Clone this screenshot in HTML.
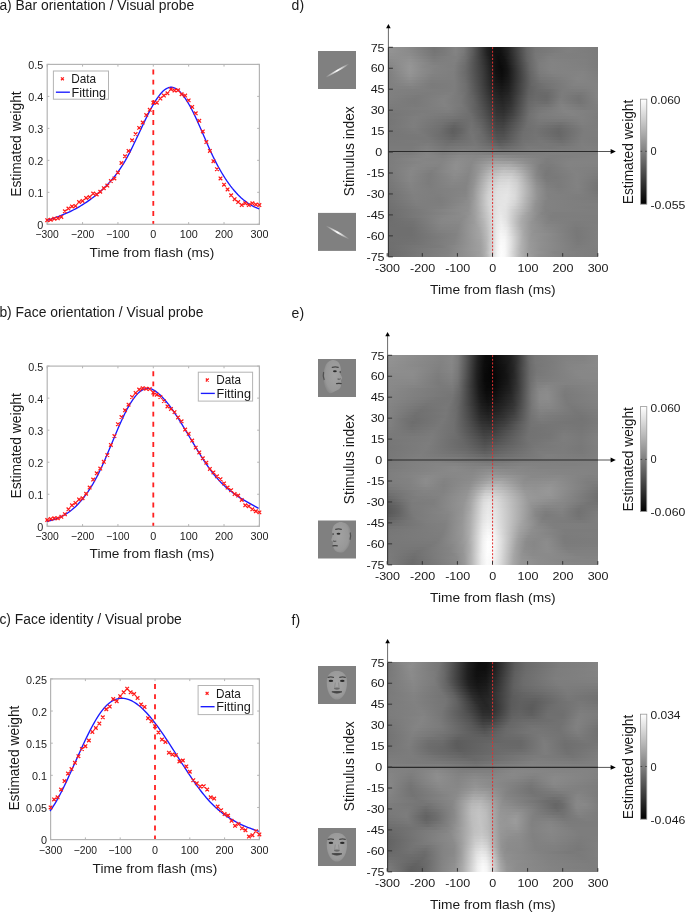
<!DOCTYPE html>
<html><head><meta charset="utf-8"><style>
html,body{margin:0;padding:0;background:#fff;}
svg{display:block;will-change:transform;}
</style></head><body>
<svg width="685" height="913" viewBox="0 0 685 913" font-family="Liberation Sans, sans-serif">
<defs><radialGradient id="facegf" cx="0.5" cy="0.45" r="0.6"><stop offset="0" stop-color="#a4a4a4"/><stop offset="0.75" stop-color="#9a9a9a"/><stop offset="1" stop-color="#8c8c8c"/></radialGradient><radialGradient id="faceg" cx="0.6" cy="0.45" r="0.6"><stop offset="0" stop-color="#a2a2a2"/><stop offset="0.8" stop-color="#989898"/><stop offset="1" stop-color="#8a8a8a"/></radialGradient><radialGradient id="faceg2" cx="0.4" cy="0.45" r="0.6"><stop offset="0" stop-color="#a2a2a2"/><stop offset="0.8" stop-color="#989898"/><stop offset="1" stop-color="#8a8a8a"/></radialGradient><linearGradient id="barg"><stop offset="0" stop-color="#808080"/><stop offset="0.5" stop-color="#fff"/><stop offset="1" stop-color="#808080"/></linearGradient><linearGradient id="h0"><stop offset=".000" stop-color="#959595"/><stop offset=".090" stop-color="#8b8b8b"/><stop offset=".219" stop-color="#737373"/><stop offset=".266" stop-color="#787878"/><stop offset=".323" stop-color="#838383"/><stop offset=".361" stop-color="#7a7a7a"/><stop offset=".399" stop-color="#616161"/><stop offset=".471" stop-color="#212121"/><stop offset=".504" stop-color="#111111"/><stop offset=".537" stop-color="#121212"/><stop offset=".575" stop-color="#252525"/><stop offset=".661" stop-color="#666666"/><stop offset=".703" stop-color="#767676"/><stop offset=".870" stop-color="#808080"/><stop offset="1.000" stop-color="#7b7b7b"/></linearGradient><linearGradient id="h1"><stop offset=".000" stop-color="#949494"/><stop offset=".100" stop-color="#8b8b8b"/><stop offset=".223" stop-color="#757575"/><stop offset=".276" stop-color="#7b7b7b"/><stop offset=".323" stop-color="#838383"/><stop offset=".361" stop-color="#797979"/><stop offset=".404" stop-color="#5c5c5c"/><stop offset=".471" stop-color="#222222"/><stop offset=".504" stop-color="#111111"/><stop offset=".537" stop-color="#111111"/><stop offset=".570" stop-color="#212121"/><stop offset=".661" stop-color="#656565"/><stop offset=".703" stop-color="#767676"/><stop offset=".856" stop-color="#808080"/><stop offset="1.000" stop-color="#7b7b7b"/></linearGradient><linearGradient id="h2"><stop offset=".000" stop-color="#919191"/><stop offset=".105" stop-color="#8c8c8c"/><stop offset=".219" stop-color="#777777"/><stop offset=".271" stop-color="#7b7b7b"/><stop offset=".323" stop-color="#828282"/><stop offset=".361" stop-color="#777777"/><stop offset=".404" stop-color="#5b5b5b"/><stop offset=".475" stop-color="#202020"/><stop offset=".509" stop-color="#101010"/><stop offset=".537" stop-color="#0f0f0f"/><stop offset=".570" stop-color="#1f1f1f"/><stop offset=".661" stop-color="#646464"/><stop offset=".703" stop-color="#777777"/><stop offset=".794" stop-color="#7f7f7f"/><stop offset=".936" stop-color="#7e7e7e"/><stop offset="1.000" stop-color="#7b7b7b"/></linearGradient><linearGradient id="h3"><stop offset=".000" stop-color="#8e8e8e"/><stop offset=".105" stop-color="#8f8f8f"/><stop offset=".219" stop-color="#7a7a7a"/><stop offset=".285" stop-color="#7f7f7f"/><stop offset=".333" stop-color="#7f7f7f"/><stop offset=".375" stop-color="#6e6e6e"/><stop offset=".437" stop-color="#404040"/><stop offset=".490" stop-color="#191919"/><stop offset=".523" stop-color="#0d0d0d"/><stop offset=".551" stop-color="#121212"/><stop offset=".594" stop-color="#2f2f2f"/><stop offset=".661" stop-color="#636363"/><stop offset=".703" stop-color="#777777"/><stop offset=".770" stop-color="#808080"/><stop offset=".932" stop-color="#7e7e7e"/><stop offset="1.000" stop-color="#7b7b7b"/></linearGradient><linearGradient id="h4"><stop offset=".000" stop-color="#8a8a8a"/><stop offset=".105" stop-color="#929292"/><stop offset=".219" stop-color="#7d7d7d"/><stop offset=".323" stop-color="#808080"/><stop offset=".366" stop-color="#717171"/><stop offset=".428" stop-color="#484848"/><stop offset=".499" stop-color="#151515"/><stop offset=".528" stop-color="#0c0c0c"/><stop offset=".556" stop-color="#121212"/><stop offset=".599" stop-color="#313131"/><stop offset=".665" stop-color="#656565"/><stop offset=".713" stop-color="#7a7a7a"/><stop offset=".775" stop-color="#828282"/><stop offset=".936" stop-color="#7f7f7f"/><stop offset="1.000" stop-color="#7b7b7b"/></linearGradient><linearGradient id="h5"><stop offset=".000" stop-color="#878787"/><stop offset=".105" stop-color="#949494"/><stop offset=".219" stop-color="#808080"/><stop offset=".318" stop-color="#7f7f7f"/><stop offset=".366" stop-color="#6f6f6f"/><stop offset=".437" stop-color="#424242"/><stop offset=".504" stop-color="#131313"/><stop offset=".532" stop-color="#0b0b0b"/><stop offset=".561" stop-color="#131313"/><stop offset=".613" stop-color="#3b3b3b"/><stop offset=".675" stop-color="#696969"/><stop offset=".722" stop-color="#7d7d7d"/><stop offset=".784" stop-color="#838383"/><stop offset=".936" stop-color="#7f7f7f"/><stop offset="1.000" stop-color="#7b7b7b"/></linearGradient><linearGradient id="h6"><stop offset=".000" stop-color="#838383"/><stop offset=".105" stop-color="#969696"/><stop offset=".176" stop-color="#878787"/><stop offset=".247" stop-color="#818181"/><stop offset=".318" stop-color="#7e7e7e"/><stop offset=".371" stop-color="#6b6b6b"/><stop offset=".452" stop-color="#3a3a3a"/><stop offset=".509" stop-color="#111111"/><stop offset=".537" stop-color="#0a0a0a"/><stop offset=".566" stop-color="#141414"/><stop offset=".675" stop-color="#686868"/><stop offset=".722" stop-color="#7d7d7d"/><stop offset=".779" stop-color="#838383"/><stop offset=".936" stop-color="#808080"/><stop offset="1.000" stop-color="#7b7b7b"/></linearGradient><linearGradient id="h7"><stop offset=".000" stop-color="#818181"/><stop offset=".105" stop-color="#969696"/><stop offset=".162" stop-color="#8b8b8b"/><stop offset=".223" stop-color="#828282"/><stop offset=".314" stop-color="#7f7f7f"/><stop offset=".366" stop-color="#6d6d6d"/><stop offset=".452" stop-color="#3b3b3b"/><stop offset=".513" stop-color="#101010"/><stop offset=".542" stop-color="#0a0a0a"/><stop offset=".570" stop-color="#151515"/><stop offset=".675" stop-color="#676767"/><stop offset=".722" stop-color="#7c7c7c"/><stop offset=".775" stop-color="#838383"/><stop offset=".932" stop-color="#818181"/><stop offset="1.000" stop-color="#7c7c7c"/></linearGradient><linearGradient id="h8"><stop offset=".000" stop-color="#7f7f7f"/><stop offset=".105" stop-color="#959595"/><stop offset=".162" stop-color="#8a8a8a"/><stop offset=".223" stop-color="#828282"/><stop offset=".314" stop-color="#7e7e7e"/><stop offset=".371" stop-color="#6a6a6a"/><stop offset=".452" stop-color="#3c3c3c"/><stop offset=".513" stop-color="#111111"/><stop offset=".542" stop-color="#0b0b0b"/><stop offset=".570" stop-color="#151515"/><stop offset=".675" stop-color="#656565"/><stop offset=".722" stop-color="#7b7b7b"/><stop offset=".779" stop-color="#828282"/><stop offset=".927" stop-color="#838383"/><stop offset="1.000" stop-color="#7d7d7d"/></linearGradient><linearGradient id="h9"><stop offset=".000" stop-color="#7e7e7e"/><stop offset=".105" stop-color="#939393"/><stop offset=".209" stop-color="#818181"/><stop offset=".314" stop-color="#7e7e7e"/><stop offset=".371" stop-color="#6b6b6b"/><stop offset=".452" stop-color="#3d3d3d"/><stop offset=".513" stop-color="#131313"/><stop offset=".542" stop-color="#0c0c0c"/><stop offset=".570" stop-color="#161616"/><stop offset=".680" stop-color="#676767"/><stop offset=".727" stop-color="#7a7a7a"/><stop offset=".794" stop-color="#808080"/><stop offset=".922" stop-color="#848484"/><stop offset="1.000" stop-color="#7e7e7e"/></linearGradient><linearGradient id="h10"><stop offset=".000" stop-color="#7e7e7e"/><stop offset=".105" stop-color="#8f8f8f"/><stop offset=".209" stop-color="#7f7f7f"/><stop offset=".314" stop-color="#7e7e7e"/><stop offset=".366" stop-color="#6e6e6e"/><stop offset=".442" stop-color="#444444"/><stop offset=".513" stop-color="#151515"/><stop offset=".542" stop-color="#0e0e0e"/><stop offset=".575" stop-color="#1a1a1a"/><stop offset=".680" stop-color="#666666"/><stop offset=".727" stop-color="#777777"/><stop offset=".903" stop-color="#858585"/><stop offset="1.000" stop-color="#7f7f7f"/></linearGradient><linearGradient id="h11"><stop offset=".000" stop-color="#7f7f7f"/><stop offset=".105" stop-color="#8b8b8b"/><stop offset=".209" stop-color="#7d7d7d"/><stop offset=".318" stop-color="#7d7d7d"/><stop offset=".371" stop-color="#6d6d6d"/><stop offset=".447" stop-color="#424242"/><stop offset=".513" stop-color="#171717"/><stop offset=".542" stop-color="#111111"/><stop offset=".575" stop-color="#1c1c1c"/><stop offset=".680" stop-color="#656565"/><stop offset=".727" stop-color="#747474"/><stop offset=".908" stop-color="#848484"/><stop offset="1.000" stop-color="#818181"/></linearGradient><linearGradient id="h12"><stop offset=".000" stop-color="#7f7f7f"/><stop offset=".109" stop-color="#878787"/><stop offset=".209" stop-color="#7b7b7b"/><stop offset=".318" stop-color="#7d7d7d"/><stop offset=".371" stop-color="#6f6f6f"/><stop offset=".442" stop-color="#464646"/><stop offset=".509" stop-color="#1b1b1b"/><stop offset=".542" stop-color="#141414"/><stop offset=".575" stop-color="#1e1e1e"/><stop offset=".637" stop-color="#494949"/><stop offset=".684" stop-color="#676767"/><stop offset=".741" stop-color="#727272"/><stop offset=".884" stop-color="#828282"/><stop offset="1.000" stop-color="#828282"/></linearGradient><linearGradient id="h13"><stop offset=".000" stop-color="#808080"/><stop offset=".119" stop-color="#828282"/><stop offset=".214" stop-color="#7b7b7b"/><stop offset=".318" stop-color="#7d7d7d"/><stop offset=".371" stop-color="#6f6f6f"/><stop offset=".437" stop-color="#4b4b4b"/><stop offset=".509" stop-color="#1e1e1e"/><stop offset=".542" stop-color="#171717"/><stop offset=".575" stop-color="#202020"/><stop offset=".627" stop-color="#434343"/><stop offset=".675" stop-color="#626262"/><stop offset=".718" stop-color="#6d6d6d"/><stop offset=".798" stop-color="#787878"/><stop offset=".870" stop-color="#7f7f7f"/><stop offset="1.000" stop-color="#828282"/></linearGradient><linearGradient id="h14"><stop offset=".000" stop-color="#808080"/><stop offset=".228" stop-color="#7d7d7d"/><stop offset=".318" stop-color="#7d7d7d"/><stop offset=".375" stop-color="#6e6e6e"/><stop offset=".442" stop-color="#494949"/><stop offset=".509" stop-color="#212121"/><stop offset=".542" stop-color="#1a1a1a"/><stop offset=".575" stop-color="#222222"/><stop offset=".623" stop-color="#414141"/><stop offset=".670" stop-color="#616161"/><stop offset=".708" stop-color="#6a6a6a"/><stop offset=".770" stop-color="#6f6f6f"/><stop offset=".832" stop-color="#7c7c7c"/><stop offset=".932" stop-color="#7d7d7d"/><stop offset="1.000" stop-color="#838383"/></linearGradient><linearGradient id="h15"><stop offset=".000" stop-color="#808080"/><stop offset=".185" stop-color="#7c7c7c"/><stop offset=".304" stop-color="#7f7f7f"/><stop offset=".366" stop-color="#727272"/><stop offset=".423" stop-color="#565656"/><stop offset=".504" stop-color="#262626"/><stop offset=".537" stop-color="#1d1d1d"/><stop offset=".570" stop-color="#232323"/><stop offset=".613" stop-color="#3c3c3c"/><stop offset=".670" stop-color="#626262"/><stop offset=".703" stop-color="#696969"/><stop offset=".760" stop-color="#6b6b6b"/><stop offset=".827" stop-color="#7c7c7c"/><stop offset=".917" stop-color="#787878"/><stop offset="1.000" stop-color="#838383"/></linearGradient><linearGradient id="h16"><stop offset=".000" stop-color="#808080"/><stop offset=".143" stop-color="#7a7a7a"/><stop offset=".280" stop-color="#818181"/><stop offset=".352" stop-color="#777777"/><stop offset=".409" stop-color="#606060"/><stop offset=".509" stop-color="#272727"/><stop offset=".542" stop-color="#202020"/><stop offset=".580" stop-color="#2a2a2a"/><stop offset=".632" stop-color="#4c4c4c"/><stop offset=".670" stop-color="#646464"/><stop offset=".703" stop-color="#6a6a6a"/><stop offset=".756" stop-color="#696969"/><stop offset=".827" stop-color="#7c7c7c"/><stop offset=".908" stop-color="#747474"/><stop offset="1.000" stop-color="#838383"/></linearGradient><linearGradient id="h17"><stop offset=".000" stop-color="#7f7f7f"/><stop offset=".128" stop-color="#797979"/><stop offset=".266" stop-color="#828282"/><stop offset=".347" stop-color="#787878"/><stop offset=".404" stop-color="#646464"/><stop offset=".509" stop-color="#2a2a2a"/><stop offset=".542" stop-color="#232323"/><stop offset=".580" stop-color="#2c2c2c"/><stop offset=".632" stop-color="#4e4e4e"/><stop offset=".670" stop-color="#666666"/><stop offset=".703" stop-color="#6b6b6b"/><stop offset=".756" stop-color="#6a6a6a"/><stop offset=".822" stop-color="#7d7d7d"/><stop offset=".908" stop-color="#737373"/><stop offset="1.000" stop-color="#828282"/></linearGradient><linearGradient id="h18"><stop offset=".000" stop-color="#7e7e7e"/><stop offset=".128" stop-color="#797979"/><stop offset=".266" stop-color="#828282"/><stop offset=".347" stop-color="#787878"/><stop offset=".409" stop-color="#636363"/><stop offset=".513" stop-color="#2b2b2b"/><stop offset=".547" stop-color="#262626"/><stop offset=".585" stop-color="#313131"/><stop offset=".670" stop-color="#686868"/><stop offset=".703" stop-color="#6e6e6e"/><stop offset=".756" stop-color="#6d6d6d"/><stop offset=".822" stop-color="#7f7f7f"/><stop offset=".913" stop-color="#747474"/><stop offset="1.000" stop-color="#818181"/></linearGradient><linearGradient id="h19"><stop offset=".000" stop-color="#7c7c7c"/><stop offset=".138" stop-color="#7a7a7a"/><stop offset=".271" stop-color="#828282"/><stop offset=".352" stop-color="#787878"/><stop offset=".418" stop-color="#606060"/><stop offset=".513" stop-color="#2e2e2e"/><stop offset=".547" stop-color="#292929"/><stop offset=".585" stop-color="#343434"/><stop offset=".670" stop-color="#6a6a6a"/><stop offset=".708" stop-color="#717171"/><stop offset=".765" stop-color="#747474"/><stop offset=".827" stop-color="#828282"/><stop offset=".917" stop-color="#787878"/><stop offset="1.000" stop-color="#7f7f7f"/></linearGradient><linearGradient id="h20"><stop offset=".000" stop-color="#7a7a7a"/><stop offset=".171" stop-color="#7d7d7d"/><stop offset=".290" stop-color="#808080"/><stop offset=".371" stop-color="#737373"/><stop offset=".437" stop-color="#585858"/><stop offset=".518" stop-color="#2f2f2f"/><stop offset=".551" stop-color="#2c2c2c"/><stop offset=".589" stop-color="#3a3a3a"/><stop offset=".670" stop-color="#6c6c6c"/><stop offset=".708" stop-color="#757575"/><stop offset=".775" stop-color="#7b7b7b"/><stop offset=".832" stop-color="#838383"/><stop offset=".932" stop-color="#7b7b7b"/><stop offset="1.000" stop-color="#7e7e7e"/></linearGradient><linearGradient id="h21"><stop offset=".000" stop-color="#787878"/><stop offset=".285" stop-color="#7e7e7e"/><stop offset=".375" stop-color="#727272"/><stop offset=".442" stop-color="#595959"/><stop offset=".518" stop-color="#323232"/><stop offset=".551" stop-color="#2f2f2f"/><stop offset=".589" stop-color="#3d3d3d"/><stop offset=".675" stop-color="#707070"/><stop offset=".722" stop-color="#797979"/><stop offset=".846" stop-color="#848484"/><stop offset="1.000" stop-color="#7d7d7d"/></linearGradient><linearGradient id="h22"><stop offset=".000" stop-color="#767676"/><stop offset=".162" stop-color="#7d7d7d"/><stop offset=".304" stop-color="#797979"/><stop offset=".394" stop-color="#6e6e6e"/><stop offset=".456" stop-color="#545454"/><stop offset=".518" stop-color="#353535"/><stop offset=".551" stop-color="#333333"/><stop offset=".594" stop-color="#434343"/><stop offset=".675" stop-color="#727272"/><stop offset=".727" stop-color="#7c7c7c"/><stop offset=".879" stop-color="#838383"/><stop offset="1.000" stop-color="#7c7c7c"/></linearGradient><linearGradient id="h23"><stop offset=".000" stop-color="#767676"/><stop offset=".133" stop-color="#7e7e7e"/><stop offset=".285" stop-color="#767676"/><stop offset=".399" stop-color="#6e6e6e"/><stop offset=".456" stop-color="#575757"/><stop offset=".518" stop-color="#393939"/><stop offset=".551" stop-color="#373737"/><stop offset=".594" stop-color="#484848"/><stop offset=".670" stop-color="#717171"/><stop offset=".718" stop-color="#7b7b7b"/><stop offset=".922" stop-color="#818181"/><stop offset="1.000" stop-color="#7b7b7b"/></linearGradient><linearGradient id="h24"><stop offset=".000" stop-color="#757575"/><stop offset=".128" stop-color="#7e7e7e"/><stop offset=".271" stop-color="#737373"/><stop offset=".333" stop-color="#6d6d6d"/><stop offset=".399" stop-color="#6f6f6f"/><stop offset=".447" stop-color="#5f5f5f"/><stop offset=".518" stop-color="#3d3d3d"/><stop offset=".551" stop-color="#3b3b3b"/><stop offset=".599" stop-color="#4f4f4f"/><stop offset=".670" stop-color="#717171"/><stop offset=".722" stop-color="#797979"/><stop offset=".837" stop-color="#7a7a7a"/><stop offset=".922" stop-color="#808080"/><stop offset="1.000" stop-color="#7c7c7c"/></linearGradient><linearGradient id="h25"><stop offset=".000" stop-color="#757575"/><stop offset=".124" stop-color="#7e7e7e"/><stop offset=".257" stop-color="#727272"/><stop offset=".318" stop-color="#676767"/><stop offset=".399" stop-color="#717171"/><stop offset=".442" stop-color="#646464"/><stop offset=".518" stop-color="#414141"/><stop offset=".551" stop-color="#404040"/><stop offset=".604" stop-color="#565656"/><stop offset=".665" stop-color="#707070"/><stop offset=".718" stop-color="#777777"/><stop offset=".822" stop-color="#727272"/><stop offset=".922" stop-color="#7f7f7f"/><stop offset="1.000" stop-color="#7c7c7c"/></linearGradient><linearGradient id="h26"><stop offset=".000" stop-color="#767676"/><stop offset=".124" stop-color="#7e7e7e"/><stop offset=".252" stop-color="#707070"/><stop offset=".314" stop-color="#626262"/><stop offset=".356" stop-color="#6a6a6a"/><stop offset=".399" stop-color="#727272"/><stop offset=".442" stop-color="#676767"/><stop offset=".513" stop-color="#464646"/><stop offset=".547" stop-color="#434343"/><stop offset=".594" stop-color="#555555"/><stop offset=".661" stop-color="#707070"/><stop offset=".713" stop-color="#747474"/><stop offset=".817" stop-color="#6c6c6c"/><stop offset=".927" stop-color="#7d7d7d"/><stop offset="1.000" stop-color="#7c7c7c"/></linearGradient><linearGradient id="h27"><stop offset=".000" stop-color="#767676"/><stop offset=".128" stop-color="#7c7c7c"/><stop offset=".247" stop-color="#6f6f6f"/><stop offset=".309" stop-color="#5f5f5f"/><stop offset=".347" stop-color="#656565"/><stop offset=".394" stop-color="#737373"/><stop offset=".433" stop-color="#6d6d6d"/><stop offset=".518" stop-color="#484848"/><stop offset=".551" stop-color="#484848"/><stop offset=".651" stop-color="#6e6e6e"/><stop offset=".703" stop-color="#737373"/><stop offset=".813" stop-color="#686868"/><stop offset=".932" stop-color="#7c7c7c"/><stop offset="1.000" stop-color="#7d7d7d"/></linearGradient><linearGradient id="h28"><stop offset=".000" stop-color="#767676"/><stop offset=".143" stop-color="#7b7b7b"/><stop offset=".242" stop-color="#6f6f6f"/><stop offset=".309" stop-color="#5f5f5f"/><stop offset=".347" stop-color="#666666"/><stop offset=".394" stop-color="#747474"/><stop offset=".433" stop-color="#6f6f6f"/><stop offset=".518" stop-color="#4c4c4c"/><stop offset=".551" stop-color="#4c4c4c"/><stop offset=".646" stop-color="#6f6f6f"/><stop offset=".703" stop-color="#737373"/><stop offset=".813" stop-color="#676767"/><stop offset=".932" stop-color="#7c7c7c"/><stop offset="1.000" stop-color="#7c7c7c"/></linearGradient><linearGradient id="h29"><stop offset=".000" stop-color="#777777"/><stop offset=".171" stop-color="#797979"/><stop offset=".257" stop-color="#6c6c6c"/><stop offset=".314" stop-color="#626262"/><stop offset=".366" stop-color="#6e6e6e"/><stop offset=".404" stop-color="#757575"/><stop offset=".452" stop-color="#6a6a6a"/><stop offset=".518" stop-color="#505050"/><stop offset=".551" stop-color="#505050"/><stop offset=".642" stop-color="#6f6f6f"/><stop offset=".703" stop-color="#747474"/><stop offset=".817" stop-color="#686868"/><stop offset=".927" stop-color="#7c7c7c"/><stop offset="1.000" stop-color="#7c7c7c"/></linearGradient><linearGradient id="h30"><stop offset=".000" stop-color="#787878"/><stop offset=".190" stop-color="#787878"/><stop offset=".309" stop-color="#666666"/><stop offset=".404" stop-color="#757575"/><stop offset=".456" stop-color="#6b6b6b"/><stop offset=".523" stop-color="#535353"/><stop offset=".556" stop-color="#555555"/><stop offset=".642" stop-color="#707070"/><stop offset=".718" stop-color="#757575"/><stop offset=".822" stop-color="#6b6b6b"/><stop offset=".922" stop-color="#7c7c7c"/><stop offset="1.000" stop-color="#7b7b7b"/></linearGradient><linearGradient id="h31"><stop offset=".000" stop-color="#787878"/><stop offset=".138" stop-color="#7a7a7a"/><stop offset=".204" stop-color="#787878"/><stop offset=".299" stop-color="#6c6c6c"/><stop offset=".413" stop-color="#767676"/><stop offset=".471" stop-color="#696969"/><stop offset=".528" stop-color="#585858"/><stop offset=".566" stop-color="#5d5d5d"/><stop offset=".642" stop-color="#727272"/><stop offset=".727" stop-color="#777777"/><stop offset=".827" stop-color="#6f6f6f"/><stop offset=".922" stop-color="#7d7d7d"/><stop offset="1.000" stop-color="#7b7b7b"/></linearGradient><linearGradient id="h32"><stop offset=".000" stop-color="#797979"/><stop offset=".119" stop-color="#797979"/><stop offset=".190" stop-color="#7c7c7c"/><stop offset=".280" stop-color="#717171"/><stop offset=".418" stop-color="#777777"/><stop offset=".480" stop-color="#6c6c6c"/><stop offset=".532" stop-color="#5f5f5f"/><stop offset=".580" stop-color="#676767"/><stop offset=".656" stop-color="#767676"/><stop offset=".751" stop-color="#787878"/><stop offset=".832" stop-color="#747474"/><stop offset=".922" stop-color="#7e7e7e"/><stop offset="1.000" stop-color="#7c7c7c"/></linearGradient><linearGradient id="h33"><stop offset=".000" stop-color="#7a7a7a"/><stop offset=".114" stop-color="#7a7a7a"/><stop offset=".185" stop-color="#7f7f7f"/><stop offset=".271" stop-color="#767676"/><stop offset=".409" stop-color="#7b7b7b"/><stop offset=".480" stop-color="#727272"/><stop offset=".542" stop-color="#686868"/><stop offset=".670" stop-color="#7a7a7a"/><stop offset=".779" stop-color="#787878"/><stop offset=".851" stop-color="#7a7a7a"/><stop offset=".936" stop-color="#7f7f7f"/><stop offset="1.000" stop-color="#7d7d7d"/></linearGradient><linearGradient id="h34"><stop offset=".000" stop-color="#7b7b7b"/><stop offset=".109" stop-color="#7b7b7b"/><stop offset=".185" stop-color="#828282"/><stop offset=".266" stop-color="#7a7a7a"/><stop offset=".361" stop-color="#7f7f7f"/><stop offset=".480" stop-color="#7a7a7a"/><stop offset=".551" stop-color="#737373"/><stop offset=".689" stop-color="#7e7e7e"/><stop offset=".846" stop-color="#7d7d7d"/><stop offset=".955" stop-color="#808080"/><stop offset="1.000" stop-color="#7e7e7e"/></linearGradient><linearGradient id="h35"><stop offset=".000" stop-color="#7c7c7c"/><stop offset=".109" stop-color="#7d7d7d"/><stop offset=".185" stop-color="#858585"/><stop offset=".261" stop-color="#7d7d7d"/><stop offset=".347" stop-color="#848484"/><stop offset=".523" stop-color="#7f7f7f"/><stop offset=".718" stop-color="#7f7f7f"/><stop offset=".856" stop-color="#808080"/><stop offset="1.000" stop-color="#808080"/></linearGradient><linearGradient id="h36"><stop offset=".000" stop-color="#7c7c7c"/><stop offset=".114" stop-color="#818181"/><stop offset=".185" stop-color="#868686"/><stop offset=".261" stop-color="#818181"/><stop offset=".337" stop-color="#898989"/><stop offset=".418" stop-color="#868686"/><stop offset=".518" stop-color="#8b8b8b"/><stop offset=".703" stop-color="#818181"/><stop offset=".784" stop-color="#7e7e7e"/><stop offset=".989" stop-color="#828282"/><stop offset="1.000" stop-color="#828282"/></linearGradient><linearGradient id="h37"><stop offset=".000" stop-color="#7c7c7c"/><stop offset=".143" stop-color="#868686"/><stop offset=".209" stop-color="#848484"/><stop offset=".266" stop-color="#848484"/><stop offset=".333" stop-color="#8c8c8c"/><stop offset=".409" stop-color="#888888"/><stop offset=".513" stop-color="#969696"/><stop offset=".618" stop-color="#909090"/><stop offset=".756" stop-color="#7d7d7d"/><stop offset=".875" stop-color="#828282"/><stop offset="1.000" stop-color="#828282"/></linearGradient><linearGradient id="h38"><stop offset=".000" stop-color="#7c7c7c"/><stop offset=".176" stop-color="#868686"/><stop offset=".257" stop-color="#848484"/><stop offset=".328" stop-color="#8e8e8e"/><stop offset=".399" stop-color="#888888"/><stop offset=".513" stop-color="#a1a1a1"/><stop offset=".585" stop-color="#9f9f9f"/><stop offset=".694" stop-color="#868686"/><stop offset=".756" stop-color="#7c7c7c"/><stop offset=".865" stop-color="#838383"/><stop offset="1.000" stop-color="#828282"/></linearGradient><linearGradient id="h39"><stop offset=".000" stop-color="#7c7c7c"/><stop offset=".138" stop-color="#868686"/><stop offset=".247" stop-color="#838383"/><stop offset=".323" stop-color="#8f8f8f"/><stop offset=".394" stop-color="#888888"/><stop offset=".452" stop-color="#9a9a9a"/><stop offset=".513" stop-color="#ababab"/><stop offset=".575" stop-color="#acacac"/><stop offset=".637" stop-color="#9d9d9d"/><stop offset=".727" stop-color="#7d7d7d"/><stop offset=".775" stop-color="#7b7b7b"/><stop offset=".860" stop-color="#838383"/><stop offset="1.000" stop-color="#818181"/></linearGradient><linearGradient id="h40"><stop offset=".000" stop-color="#7b7b7b"/><stop offset=".119" stop-color="#878787"/><stop offset=".228" stop-color="#808080"/><stop offset=".323" stop-color="#8f8f8f"/><stop offset=".390" stop-color="#878787"/><stop offset=".433" stop-color="#959595"/><stop offset=".494" stop-color="#afafaf"/><stop offset=".556" stop-color="#b8b8b8"/><stop offset=".608" stop-color="#b1b1b1"/><stop offset=".722" stop-color="#7e7e7e"/><stop offset=".765" stop-color="#797979"/><stop offset=".870" stop-color="#828282"/><stop offset="1.000" stop-color="#7f7f7f"/></linearGradient><linearGradient id="h41"><stop offset=".000" stop-color="#7a7a7a"/><stop offset=".109" stop-color="#878787"/><stop offset=".209" stop-color="#7e7e7e"/><stop offset=".285" stop-color="#8a8a8a"/><stop offset=".333" stop-color="#8d8d8d"/><stop offset=".390" stop-color="#878787"/><stop offset=".428" stop-color="#959595"/><stop offset=".490" stop-color="#b5b5b5"/><stop offset=".551" stop-color="#c2c2c2"/><stop offset=".599" stop-color="#bebebe"/><stop offset=".646" stop-color="#a7a7a7"/><stop offset=".713" stop-color="#828282"/><stop offset=".756" stop-color="#787878"/><stop offset=".884" stop-color="#828282"/><stop offset="1.000" stop-color="#7d7d7d"/></linearGradient><linearGradient id="h42"><stop offset=".000" stop-color="#797979"/><stop offset=".109" stop-color="#878787"/><stop offset=".200" stop-color="#7c7c7c"/><stop offset=".318" stop-color="#8c8c8c"/><stop offset=".385" stop-color="#868686"/><stop offset=".418" stop-color="#929292"/><stop offset=".485" stop-color="#bababa"/><stop offset=".542" stop-color="#c9c9c9"/><stop offset=".589" stop-color="#c9c9c9"/><stop offset=".627" stop-color="#b9b9b9"/><stop offset=".708" stop-color="#858585"/><stop offset=".751" stop-color="#787878"/><stop offset=".808" stop-color="#7b7b7b"/><stop offset=".898" stop-color="#828282"/><stop offset="1.000" stop-color="#7b7b7b"/></linearGradient><linearGradient id="h43"><stop offset=".000" stop-color="#787878"/><stop offset=".105" stop-color="#868686"/><stop offset=".200" stop-color="#7c7c7c"/><stop offset=".318" stop-color="#8a8a8a"/><stop offset=".380" stop-color="#858585"/><stop offset=".413" stop-color="#919191"/><stop offset=".485" stop-color="#c0c0c0"/><stop offset=".537" stop-color="#d0d0d0"/><stop offset=".585" stop-color="#d1d1d1"/><stop offset=".623" stop-color="#c2c2c2"/><stop offset=".703" stop-color="#8a8a8a"/><stop offset=".746" stop-color="#7a7a7a"/><stop offset=".798" stop-color="#797979"/><stop offset=".898" stop-color="#828282"/><stop offset="1.000" stop-color="#797979"/></linearGradient><linearGradient id="h44"><stop offset=".000" stop-color="#777777"/><stop offset=".105" stop-color="#868686"/><stop offset=".195" stop-color="#7c7c7c"/><stop offset=".314" stop-color="#888888"/><stop offset=".380" stop-color="#858585"/><stop offset=".413" stop-color="#939393"/><stop offset=".480" stop-color="#c2c2c2"/><stop offset=".528" stop-color="#d4d4d4"/><stop offset=".575" stop-color="#d8d8d8"/><stop offset=".613" stop-color="#cccccc"/><stop offset=".708" stop-color="#8b8b8b"/><stop offset=".756" stop-color="#7a7a7a"/><stop offset=".813" stop-color="#7b7b7b"/><stop offset=".898" stop-color="#828282"/><stop offset="1.000" stop-color="#777777"/></linearGradient><linearGradient id="h45"><stop offset=".000" stop-color="#767676"/><stop offset=".109" stop-color="#848484"/><stop offset=".195" stop-color="#7c7c7c"/><stop offset=".304" stop-color="#868686"/><stop offset=".375" stop-color="#848484"/><stop offset=".409" stop-color="#929292"/><stop offset=".480" stop-color="#c7c7c7"/><stop offset=".528" stop-color="#d9d9d9"/><stop offset=".575" stop-color="#dcdcdc"/><stop offset=".613" stop-color="#d0d0d0"/><stop offset=".708" stop-color="#8e8e8e"/><stop offset=".756" stop-color="#7d7d7d"/><stop offset=".813" stop-color="#7b7b7b"/><stop offset=".898" stop-color="#828282"/><stop offset="1.000" stop-color="#757575"/></linearGradient><linearGradient id="h46"><stop offset=".000" stop-color="#757575"/><stop offset=".109" stop-color="#838383"/><stop offset=".200" stop-color="#7d7d7d"/><stop offset=".299" stop-color="#848484"/><stop offset=".371" stop-color="#848484"/><stop offset=".404" stop-color="#919191"/><stop offset=".480" stop-color="#cacaca"/><stop offset=".528" stop-color="#dddddd"/><stop offset=".575" stop-color="#dfdfdf"/><stop offset=".613" stop-color="#d2d2d2"/><stop offset=".708" stop-color="#919191"/><stop offset=".756" stop-color="#7f7f7f"/><stop offset=".813" stop-color="#7b7b7b"/><stop offset=".903" stop-color="#828282"/><stop offset="1.000" stop-color="#747474"/></linearGradient><linearGradient id="h47"><stop offset=".000" stop-color="#747474"/><stop offset=".114" stop-color="#828282"/><stop offset=".204" stop-color="#7e7e7e"/><stop offset=".309" stop-color="#828282"/><stop offset=".371" stop-color="#848484"/><stop offset=".404" stop-color="#939393"/><stop offset=".480" stop-color="#cdcdcd"/><stop offset=".523" stop-color="#dfdfdf"/><stop offset=".570" stop-color="#e2e2e2"/><stop offset=".608" stop-color="#d6d6d6"/><stop offset=".708" stop-color="#939393"/><stop offset=".756" stop-color="#818181"/><stop offset=".813" stop-color="#7d7d7d"/><stop offset=".903" stop-color="#818181"/><stop offset="1.000" stop-color="#747474"/></linearGradient><linearGradient id="h48"><stop offset=".000" stop-color="#737373"/><stop offset=".119" stop-color="#818181"/><stop offset=".214" stop-color="#7e7e7e"/><stop offset=".371" stop-color="#858585"/><stop offset=".404" stop-color="#949494"/><stop offset=".480" stop-color="#d0d0d0"/><stop offset=".523" stop-color="#e1e1e1"/><stop offset=".570" stop-color="#e3e3e3"/><stop offset=".608" stop-color="#d7d7d7"/><stop offset=".708" stop-color="#939393"/><stop offset=".756" stop-color="#828282"/><stop offset=".817" stop-color="#7e7e7e"/><stop offset=".908" stop-color="#808080"/><stop offset="1.000" stop-color="#767676"/></linearGradient><linearGradient id="h49"><stop offset=".000" stop-color="#727272"/><stop offset=".124" stop-color="#808080"/><stop offset=".238" stop-color="#7e7e7e"/><stop offset=".371" stop-color="#868686"/><stop offset=".404" stop-color="#959595"/><stop offset=".475" stop-color="#cfcfcf"/><stop offset=".518" stop-color="#e1e1e1"/><stop offset=".566" stop-color="#e5e5e5"/><stop offset=".604" stop-color="#dadada"/><stop offset=".661" stop-color="#b2b2b2"/><stop offset=".713" stop-color="#919191"/><stop offset=".760" stop-color="#818181"/><stop offset=".932" stop-color="#7d7d7d"/><stop offset="1.000" stop-color="#787878"/></linearGradient><linearGradient id="h50"><stop offset=".000" stop-color="#727272"/><stop offset=".128" stop-color="#808080"/><stop offset=".247" stop-color="#7d7d7d"/><stop offset=".375" stop-color="#898989"/><stop offset=".409" stop-color="#999999"/><stop offset=".475" stop-color="#d0d0d0"/><stop offset=".518" stop-color="#e2e2e2"/><stop offset=".561" stop-color="#e5e5e5"/><stop offset=".604" stop-color="#d9d9d9"/><stop offset=".665" stop-color="#adadad"/><stop offset=".718" stop-color="#8e8e8e"/><stop offset=".765" stop-color="#818181"/><stop offset=".941" stop-color="#7c7c7c"/><stop offset="1.000" stop-color="#7a7a7a"/></linearGradient><linearGradient id="h51"><stop offset=".000" stop-color="#717171"/><stop offset=".133" stop-color="#7f7f7f"/><stop offset=".252" stop-color="#7d7d7d"/><stop offset=".352" stop-color="#878787"/><stop offset=".390" stop-color="#8f8f8f"/><stop offset=".428" stop-color="#a9a9a9"/><stop offset=".480" stop-color="#d3d3d3"/><stop offset=".523" stop-color="#e4e4e4"/><stop offset=".566" stop-color="#e4e4e4"/><stop offset=".608" stop-color="#d4d4d4"/><stop offset=".703" stop-color="#939393"/><stop offset=".751" stop-color="#828282"/><stop offset="1.000" stop-color="#7c7c7c"/></linearGradient><linearGradient id="h52"><stop offset=".000" stop-color="#707070"/><stop offset=".138" stop-color="#7e7e7e"/><stop offset=".257" stop-color="#7e7e7e"/><stop offset=".342" stop-color="#888888"/><stop offset=".385" stop-color="#8e8e8e"/><stop offset=".418" stop-color="#a2a2a2"/><stop offset=".480" stop-color="#d3d3d3"/><stop offset=".518" stop-color="#e3e3e3"/><stop offset=".556" stop-color="#e5e5e5"/><stop offset=".599" stop-color="#d6d6d6"/><stop offset=".703" stop-color="#919191"/><stop offset=".751" stop-color="#828282"/><stop offset=".870" stop-color="#7f7f7f"/><stop offset=".984" stop-color="#7e7e7e"/><stop offset="1.000" stop-color="#7e7e7e"/></linearGradient><linearGradient id="h53"><stop offset=".000" stop-color="#6f6f6f"/><stop offset=".152" stop-color="#7d7d7d"/><stop offset=".261" stop-color="#808080"/><stop offset=".385" stop-color="#8f8f8f"/><stop offset=".423" stop-color="#a5a5a5"/><stop offset=".490" stop-color="#d8d8d8"/><stop offset=".528" stop-color="#e6e6e6"/><stop offset=".561" stop-color="#e3e3e3"/><stop offset=".608" stop-color="#cccccc"/><stop offset=".699" stop-color="#929292"/><stop offset=".746" stop-color="#828282"/><stop offset=".960" stop-color="#7d7d7d"/><stop offset="1.000" stop-color="#7e7e7e"/></linearGradient><linearGradient id="h54"><stop offset=".000" stop-color="#6e6e6e"/><stop offset=".190" stop-color="#7e7e7e"/><stop offset=".380" stop-color="#8e8e8e"/><stop offset=".418" stop-color="#a1a1a1"/><stop offset=".494" stop-color="#dadada"/><stop offset=".528" stop-color="#e7e7e7"/><stop offset=".561" stop-color="#e2e2e2"/><stop offset=".618" stop-color="#c1c1c1"/><stop offset=".699" stop-color="#919191"/><stop offset=".751" stop-color="#818181"/><stop offset=".979" stop-color="#7e7e7e"/><stop offset="1.000" stop-color="#7e7e7e"/></linearGradient><linearGradient id="h55"><stop offset=".000" stop-color="#6e6e6e"/><stop offset=".337" stop-color="#898989"/><stop offset=".390" stop-color="#929292"/><stop offset=".433" stop-color="#aaaaaa"/><stop offset=".504" stop-color="#dfdfdf"/><stop offset=".532" stop-color="#e8e8e8"/><stop offset=".561" stop-color="#e2e2e2"/><stop offset=".665" stop-color="#a0a0a0"/><stop offset=".732" stop-color="#848484"/><stop offset=".789" stop-color="#7e7e7e"/><stop offset="1.000" stop-color="#7e7e7e"/></linearGradient><linearGradient id="h56"><stop offset=".000" stop-color="#6d6d6d"/><stop offset=".157" stop-color="#7b7b7b"/><stop offset=".276" stop-color="#878787"/><stop offset=".366" stop-color="#8c8c8c"/><stop offset=".413" stop-color="#9d9d9d"/><stop offset=".471" stop-color="#c5c5c5"/><stop offset=".513" stop-color="#e4e4e4"/><stop offset=".537" stop-color="#eaeaea"/><stop offset=".566" stop-color="#dfdfdf"/><stop offset=".642" stop-color="#a9a9a9"/><stop offset=".713" stop-color="#8a8a8a"/><stop offset=".775" stop-color="#7e7e7e"/><stop offset="1.000" stop-color="#7d7d7d"/></linearGradient><linearGradient id="h57"><stop offset=".000" stop-color="#6d6d6d"/><stop offset=".128" stop-color="#757575"/><stop offset=".261" stop-color="#878787"/><stop offset=".352" stop-color="#8a8a8a"/><stop offset=".409" stop-color="#9b9b9b"/><stop offset=".456" stop-color="#b7b7b7"/><stop offset=".513" stop-color="#e5e5e5"/><stop offset=".537" stop-color="#ebebeb"/><stop offset=".561" stop-color="#e3e3e3"/><stop offset=".637" stop-color="#aaaaaa"/><stop offset=".703" stop-color="#8d8d8d"/><stop offset=".775" stop-color="#7f7f7f"/><stop offset="1.000" stop-color="#7d7d7d"/></linearGradient><linearGradient id="h58"><stop offset=".000" stop-color="#6e6e6e"/><stop offset=".119" stop-color="#727272"/><stop offset=".252" stop-color="#868686"/><stop offset=".342" stop-color="#888888"/><stop offset=".409" stop-color="#9a9a9a"/><stop offset=".456" stop-color="#b5b5b5"/><stop offset=".513" stop-color="#e5e5e5"/><stop offset=".537" stop-color="#ededed"/><stop offset=".561" stop-color="#e5e5e5"/><stop offset=".632" stop-color="#acacac"/><stop offset=".684" stop-color="#939393"/><stop offset=".760" stop-color="#828282"/><stop offset=".894" stop-color="#7c7c7c"/><stop offset="1.000" stop-color="#7d7d7d"/></linearGradient><linearGradient id="h59"><stop offset=".000" stop-color="#6e6e6e"/><stop offset=".119" stop-color="#717171"/><stop offset=".252" stop-color="#848484"/><stop offset=".337" stop-color="#868686"/><stop offset=".423" stop-color="#a0a0a0"/><stop offset=".461" stop-color="#b7b7b7"/><stop offset=".518" stop-color="#e9e9e9"/><stop offset=".542" stop-color="#efefef"/><stop offset=".566" stop-color="#e4e4e4"/><stop offset=".632" stop-color="#adadad"/><stop offset=".680" stop-color="#959595"/><stop offset=".751" stop-color="#868686"/><stop offset=".894" stop-color="#7b7b7b"/><stop offset="1.000" stop-color="#7e7e7e"/></linearGradient><linearGradient id="h60"><stop offset=".000" stop-color="#6f6f6f"/><stop offset=".114" stop-color="#6f6f6f"/><stop offset=".247" stop-color="#828282"/><stop offset=".333" stop-color="#858585"/><stop offset=".433" stop-color="#a3a3a3"/><stop offset=".466" stop-color="#b9b9b9"/><stop offset=".518" stop-color="#eaeaea"/><stop offset=".542" stop-color="#f1f1f1"/><stop offset=".566" stop-color="#e8e8e8"/><stop offset=".637" stop-color="#ababab"/><stop offset=".680" stop-color="#959595"/><stop offset=".746" stop-color="#898989"/><stop offset=".898" stop-color="#797979"/><stop offset="1.000" stop-color="#7e7e7e"/></linearGradient><linearGradient id="h61"><stop offset=".000" stop-color="#6f6f6f"/><stop offset=".114" stop-color="#6f6f6f"/><stop offset=".242" stop-color="#7f7f7f"/><stop offset=".328" stop-color="#848484"/><stop offset=".437" stop-color="#a4a4a4"/><stop offset=".471" stop-color="#bbbbbb"/><stop offset=".518" stop-color="#ebebeb"/><stop offset=".537" stop-color="#f3f3f3"/><stop offset=".561" stop-color="#eeeeee"/><stop offset=".604" stop-color="#c9c9c9"/><stop offset=".651" stop-color="#a3a3a3"/><stop offset=".694" stop-color="#919191"/><stop offset=".898" stop-color="#787878"/><stop offset="1.000" stop-color="#7f7f7f"/></linearGradient><linearGradient id="h62"><stop offset=".000" stop-color="#6f6f6f"/><stop offset=".114" stop-color="#6f6f6f"/><stop offset=".238" stop-color="#7c7c7c"/><stop offset=".323" stop-color="#828282"/><stop offset=".442" stop-color="#a5a5a5"/><stop offset=".471" stop-color="#bababa"/><stop offset=".518" stop-color="#ececec"/><stop offset=".537" stop-color="#f6f6f6"/><stop offset=".561" stop-color="#f0f0f0"/><stop offset=".599" stop-color="#d0d0d0"/><stop offset=".646" stop-color="#a7a7a7"/><stop offset=".684" stop-color="#949494"/><stop offset=".756" stop-color="#8c8c8c"/><stop offset=".898" stop-color="#787878"/><stop offset="1.000" stop-color="#7f7f7f"/></linearGradient><linearGradient id="h63"><stop offset=".000" stop-color="#6f6f6f"/><stop offset=".119" stop-color="#707070"/><stop offset=".242" stop-color="#7b7b7b"/><stop offset=".323" stop-color="#838383"/><stop offset=".442" stop-color="#a4a4a4"/><stop offset=".471" stop-color="#b8b8b8"/><stop offset=".518" stop-color="#ededed"/><stop offset=".537" stop-color="#f7f7f7"/><stop offset=".556" stop-color="#f5f5f5"/><stop offset=".585" stop-color="#e0e0e0"/><stop offset=".642" stop-color="#ababab"/><stop offset=".680" stop-color="#969696"/><stop offset=".732" stop-color="#8e8e8e"/><stop offset=".827" stop-color="#828282"/><stop offset=".903" stop-color="#787878"/><stop offset="1.000" stop-color="#7f7f7f"/></linearGradient><linearGradient id="h64"><stop offset=".000" stop-color="#6f6f6f"/><stop offset=".124" stop-color="#717171"/><stop offset=".318" stop-color="#838383"/><stop offset=".442" stop-color="#a2a2a2"/><stop offset=".471" stop-color="#b7b7b7"/><stop offset=".518" stop-color="#eeeeee"/><stop offset=".537" stop-color="#f9f9f9"/><stop offset=".556" stop-color="#f7f7f7"/><stop offset=".585" stop-color="#e1e1e1"/><stop offset=".637" stop-color="#afafaf"/><stop offset=".675" stop-color="#989898"/><stop offset=".722" stop-color="#8f8f8f"/><stop offset=".822" stop-color="#838383"/><stop offset=".903" stop-color="#797979"/><stop offset="1.000" stop-color="#7f7f7f"/></linearGradient><linearGradient id="h65"><stop offset=".000" stop-color="#6e6e6e"/><stop offset=".138" stop-color="#737373"/><stop offset=".314" stop-color="#838383"/><stop offset=".442" stop-color="#a1a1a1"/><stop offset=".466" stop-color="#b2b2b2"/><stop offset=".518" stop-color="#efefef"/><stop offset=".537" stop-color="#fafafa"/><stop offset=".556" stop-color="#f8f8f8"/><stop offset=".585" stop-color="#e1e1e1"/><stop offset=".637" stop-color="#afafaf"/><stop offset=".675" stop-color="#999999"/><stop offset=".727" stop-color="#8f8f8f"/><stop offset=".903" stop-color="#7a7a7a"/><stop offset="1.000" stop-color="#7f7f7f"/></linearGradient><linearGradient id="h66"><stop offset=".000" stop-color="#6e6e6e"/><stop offset=".252" stop-color="#7c7c7c"/><stop offset=".337" stop-color="#8a8a8a"/><stop offset=".442" stop-color="#a0a0a0"/><stop offset=".466" stop-color="#b1b1b1"/><stop offset=".518" stop-color="#f0f0f0"/><stop offset=".537" stop-color="#fcfcfc"/><stop offset=".556" stop-color="#f8f8f8"/><stop offset=".585" stop-color="#e1e1e1"/><stop offset=".632" stop-color="#b2b2b2"/><stop offset=".675" stop-color="#999999"/><stop offset=".732" stop-color="#8e8e8e"/><stop offset=".894" stop-color="#7c7c7c"/><stop offset="1.000" stop-color="#7e7e7e"/></linearGradient><linearGradient id="h67"><stop offset=".000" stop-color="#6d6d6d"/><stop offset=".290" stop-color="#828282"/><stop offset=".442" stop-color="#a0a0a0"/><stop offset=".466" stop-color="#b0b0b0"/><stop offset=".518" stop-color="#f1f1f1"/><stop offset=".537" stop-color="#fcfcfc"/><stop offset=".556" stop-color="#f9f9f9"/><stop offset=".585" stop-color="#e0e0e0"/><stop offset=".627" stop-color="#b5b5b5"/><stop offset=".670" stop-color="#9b9b9b"/><stop offset=".727" stop-color="#8e8e8e"/><stop offset=".879" stop-color="#7e7e7e"/><stop offset="1.000" stop-color="#7d7d7d"/></linearGradient><linearGradient id="h68"><stop offset=".000" stop-color="#6c6c6c"/><stop offset=".285" stop-color="#828282"/><stop offset=".437" stop-color="#9d9d9d"/><stop offset=".461" stop-color="#acacac"/><stop offset=".494" stop-color="#d4d4d4"/><stop offset=".523" stop-color="#f6f6f6"/><stop offset=".542" stop-color="#fdfdfd"/><stop offset=".561" stop-color="#f6f6f6"/><stop offset=".599" stop-color="#d0d0d0"/><stop offset=".637" stop-color="#adadad"/><stop offset=".680" stop-color="#989898"/><stop offset=".794" stop-color="#858585"/><stop offset=".913" stop-color="#7e7e7e"/><stop offset="1.000" stop-color="#7d7d7d"/></linearGradient><linearGradient id="h69"><stop offset=".000" stop-color="#6c6c6c"/><stop offset=".285" stop-color="#838383"/><stop offset=".413" stop-color="#989898"/><stop offset=".447" stop-color="#a1a1a1"/><stop offset=".471" stop-color="#b5b5b5"/><stop offset=".518" stop-color="#f2f2f2"/><stop offset=".537" stop-color="#fdfdfd"/><stop offset=".556" stop-color="#f9f9f9"/><stop offset=".585" stop-color="#dfdfdf"/><stop offset=".623" stop-color="#b8b8b8"/><stop offset=".661" stop-color="#9f9f9f"/><stop offset=".718" stop-color="#8f8f8f"/><stop offset=".851" stop-color="#808080"/><stop offset="1.000" stop-color="#7c7c7c"/></linearGradient><linearGradient id="cb0" x1="0" y1="1" x2="0" y2="0"><stop offset="0" stop-color="#000"/><stop offset="1" stop-color="#fff"/></linearGradient><linearGradient id="h70"><stop offset=".000" stop-color="#949494"/><stop offset=".252" stop-color="#838383"/><stop offset=".309" stop-color="#868686"/><stop offset=".337" stop-color="#797979"/><stop offset=".380" stop-color="#505050"/><stop offset=".433" stop-color="#1d1d1d"/><stop offset=".466" stop-color="#0a0a0a"/><stop offset=".504" stop-color="#090909"/><stop offset=".585" stop-color="#202020"/><stop offset=".618" stop-color="#373737"/><stop offset=".670" stop-color="#696969"/><stop offset=".699" stop-color="#767676"/><stop offset=".789" stop-color="#7d7d7d"/><stop offset=".851" stop-color="#818181"/><stop offset=".927" stop-color="#828282"/><stop offset="1.000" stop-color="#898989"/></linearGradient><linearGradient id="h71"><stop offset=".000" stop-color="#939393"/><stop offset=".252" stop-color="#838383"/><stop offset=".304" stop-color="#878787"/><stop offset=".333" stop-color="#7c7c7c"/><stop offset=".371" stop-color="#5a5a5a"/><stop offset=".428" stop-color="#202020"/><stop offset=".461" stop-color="#0c0c0c"/><stop offset=".494" stop-color="#070707"/><stop offset=".580" stop-color="#1d1d1d"/><stop offset=".613" stop-color="#323232"/><stop offset=".670" stop-color="#696969"/><stop offset=".699" stop-color="#767676"/><stop offset=".789" stop-color="#7d7d7d"/><stop offset=".851" stop-color="#828282"/><stop offset=".932" stop-color="#838383"/><stop offset="1.000" stop-color="#898989"/></linearGradient><linearGradient id="h72"><stop offset=".000" stop-color="#929292"/><stop offset=".252" stop-color="#828282"/><stop offset=".304" stop-color="#878787"/><stop offset=".333" stop-color="#7c7c7c"/><stop offset=".371" stop-color="#595959"/><stop offset=".428" stop-color="#1f1f1f"/><stop offset=".461" stop-color="#0b0b0b"/><stop offset=".494" stop-color="#070707"/><stop offset=".575" stop-color="#1b1b1b"/><stop offset=".608" stop-color="#2e2e2e"/><stop offset=".675" stop-color="#6c6c6c"/><stop offset=".703" stop-color="#777777"/><stop offset=".784" stop-color="#7c7c7c"/><stop offset=".851" stop-color="#838383"/><stop offset=".946" stop-color="#858585"/><stop offset="1.000" stop-color="#898989"/></linearGradient><linearGradient id="h73"><stop offset=".000" stop-color="#919191"/><stop offset=".176" stop-color="#868686"/><stop offset=".247" stop-color="#818181"/><stop offset=".304" stop-color="#868686"/><stop offset=".333" stop-color="#7b7b7b"/><stop offset=".371" stop-color="#585858"/><stop offset=".423" stop-color="#232323"/><stop offset=".456" stop-color="#0d0d0d"/><stop offset=".490" stop-color="#060606"/><stop offset=".561" stop-color="#151515"/><stop offset=".599" stop-color="#272727"/><stop offset=".642" stop-color="#4e4e4e"/><stop offset=".675" stop-color="#6b6b6b"/><stop offset=".703" stop-color="#767676"/><stop offset=".789" stop-color="#7d7d7d"/><stop offset=".860" stop-color="#848484"/><stop offset="1.000" stop-color="#898989"/></linearGradient><linearGradient id="h74"><stop offset=".000" stop-color="#8f8f8f"/><stop offset=".138" stop-color="#8a8a8a"/><stop offset=".242" stop-color="#808080"/><stop offset=".304" stop-color="#868686"/><stop offset=".333" stop-color="#7a7a7a"/><stop offset=".371" stop-color="#575757"/><stop offset=".423" stop-color="#222222"/><stop offset=".456" stop-color="#0c0c0c"/><stop offset=".490" stop-color="#050505"/><stop offset=".556" stop-color="#131313"/><stop offset=".599" stop-color="#262626"/><stop offset=".646" stop-color="#535353"/><stop offset=".680" stop-color="#6e6e6e"/><stop offset=".713" stop-color="#787878"/><stop offset=".789" stop-color="#7d7d7d"/><stop offset=".865" stop-color="#858585"/><stop offset="1.000" stop-color="#888888"/></linearGradient><linearGradient id="h75"><stop offset=".000" stop-color="#8e8e8e"/><stop offset=".124" stop-color="#8c8c8c"/><stop offset=".238" stop-color="#7f7f7f"/><stop offset=".304" stop-color="#858585"/><stop offset=".333" stop-color="#797979"/><stop offset=".371" stop-color="#565656"/><stop offset=".423" stop-color="#212121"/><stop offset=".456" stop-color="#0c0c0c"/><stop offset=".490" stop-color="#050505"/><stop offset=".551" stop-color="#111111"/><stop offset=".594" stop-color="#232323"/><stop offset=".632" stop-color="#444444"/><stop offset=".675" stop-color="#6b6b6b"/><stop offset=".708" stop-color="#777777"/><stop offset=".798" stop-color="#7f7f7f"/><stop offset=".898" stop-color="#878787"/><stop offset="1.000" stop-color="#888888"/></linearGradient><linearGradient id="h76"><stop offset=".000" stop-color="#8c8c8c"/><stop offset=".119" stop-color="#8c8c8c"/><stop offset=".238" stop-color="#7d7d7d"/><stop offset=".304" stop-color="#838383"/><stop offset=".333" stop-color="#787878"/><stop offset=".371" stop-color="#555555"/><stop offset=".423" stop-color="#202020"/><stop offset=".461" stop-color="#090909"/><stop offset=".499" stop-color="#050505"/><stop offset=".566" stop-color="#151515"/><stop offset=".604" stop-color="#2a2a2a"/><stop offset=".675" stop-color="#6b6b6b"/><stop offset=".708" stop-color="#787878"/><stop offset=".908" stop-color="#878787"/><stop offset="1.000" stop-color="#878787"/></linearGradient><linearGradient id="h77"><stop offset=".000" stop-color="#8b8b8b"/><stop offset=".119" stop-color="#8b8b8b"/><stop offset=".238" stop-color="#7c7c7c"/><stop offset=".304" stop-color="#828282"/><stop offset=".333" stop-color="#777777"/><stop offset=".371" stop-color="#545454"/><stop offset=".423" stop-color="#202020"/><stop offset=".461" stop-color="#090909"/><stop offset=".499" stop-color="#050505"/><stop offset=".566" stop-color="#151515"/><stop offset=".604" stop-color="#2a2a2a"/><stop offset=".675" stop-color="#6c6c6c"/><stop offset=".708" stop-color="#7a7a7a"/><stop offset=".927" stop-color="#878787"/><stop offset="1.000" stop-color="#878787"/></linearGradient><linearGradient id="h78"><stop offset=".000" stop-color="#8a8a8a"/><stop offset=".124" stop-color="#898989"/><stop offset=".238" stop-color="#7b7b7b"/><stop offset=".304" stop-color="#808080"/><stop offset=".333" stop-color="#757575"/><stop offset=".375" stop-color="#4e4e4e"/><stop offset=".428" stop-color="#1c1c1c"/><stop offset=".461" stop-color="#090909"/><stop offset=".499" stop-color="#050505"/><stop offset=".570" stop-color="#181818"/><stop offset=".608" stop-color="#2f2f2f"/><stop offset=".675" stop-color="#6c6c6c"/><stop offset=".708" stop-color="#7c7c7c"/><stop offset=".789" stop-color="#808080"/><stop offset=".965" stop-color="#868686"/><stop offset="1.000" stop-color="#868686"/></linearGradient><linearGradient id="h79"><stop offset=".000" stop-color="#8a8a8a"/><stop offset=".128" stop-color="#878787"/><stop offset=".242" stop-color="#7a7a7a"/><stop offset=".304" stop-color="#7e7e7e"/><stop offset=".333" stop-color="#737373"/><stop offset=".375" stop-color="#4d4d4d"/><stop offset=".428" stop-color="#1c1c1c"/><stop offset=".461" stop-color="#0a0a0a"/><stop offset=".499" stop-color="#060606"/><stop offset=".570" stop-color="#191919"/><stop offset=".608" stop-color="#2f2f2f"/><stop offset=".680" stop-color="#717171"/><stop offset=".713" stop-color="#808080"/><stop offset=".770" stop-color="#838383"/><stop offset=".860" stop-color="#828282"/><stop offset="1.000" stop-color="#858585"/></linearGradient><linearGradient id="h80"><stop offset=".000" stop-color="#898989"/><stop offset=".152" stop-color="#838383"/><stop offset=".252" stop-color="#7a7a7a"/><stop offset=".309" stop-color="#7b7b7b"/><stop offset=".337" stop-color="#6e6e6e"/><stop offset=".394" stop-color="#3a3a3a"/><stop offset=".437" stop-color="#161616"/><stop offset=".471" stop-color="#080808"/><stop offset=".509" stop-color="#090909"/><stop offset=".580" stop-color="#1f1f1f"/><stop offset=".618" stop-color="#383838"/><stop offset=".680" stop-color="#727272"/><stop offset=".713" stop-color="#828282"/><stop offset=".756" stop-color="#878787"/><stop offset=".846" stop-color="#7e7e7e"/><stop offset="1.000" stop-color="#848484"/></linearGradient><linearGradient id="h81"><stop offset=".000" stop-color="#898989"/><stop offset=".190" stop-color="#7d7d7d"/><stop offset=".261" stop-color="#797979"/><stop offset=".309" stop-color="#797979"/><stop offset=".342" stop-color="#696969"/><stop offset=".433" stop-color="#1a1a1a"/><stop offset=".466" stop-color="#0a0a0a"/><stop offset=".504" stop-color="#0a0a0a"/><stop offset=".580" stop-color="#202020"/><stop offset=".618" stop-color="#393939"/><stop offset=".680" stop-color="#737373"/><stop offset=".713" stop-color="#858585"/><stop offset=".751" stop-color="#8a8a8a"/><stop offset=".846" stop-color="#7c7c7c"/><stop offset="1.000" stop-color="#848484"/></linearGradient><linearGradient id="h82"><stop offset=".000" stop-color="#888888"/><stop offset=".261" stop-color="#787878"/><stop offset=".309" stop-color="#777777"/><stop offset=".342" stop-color="#676767"/><stop offset=".433" stop-color="#1b1b1b"/><stop offset=".466" stop-color="#0c0c0c"/><stop offset=".504" stop-color="#0c0c0c"/><stop offset=".585" stop-color="#242424"/><stop offset=".623" stop-color="#3f3f3f"/><stop offset=".684" stop-color="#777777"/><stop offset=".722" stop-color="#898989"/><stop offset=".760" stop-color="#8b8b8b"/><stop offset=".841" stop-color="#7b7b7b"/><stop offset="1.000" stop-color="#838383"/></linearGradient><linearGradient id="h83"><stop offset=".000" stop-color="#878787"/><stop offset=".261" stop-color="#787878"/><stop offset=".309" stop-color="#757575"/><stop offset=".342" stop-color="#666666"/><stop offset=".437" stop-color="#1a1a1a"/><stop offset=".471" stop-color="#0d0d0d"/><stop offset=".513" stop-color="#101010"/><stop offset=".589" stop-color="#292929"/><stop offset=".627" stop-color="#444444"/><stop offset=".684" stop-color="#787878"/><stop offset=".722" stop-color="#8a8a8a"/><stop offset=".760" stop-color="#8c8c8c"/><stop offset=".841" stop-color="#7a7a7a"/><stop offset="1.000" stop-color="#828282"/></linearGradient><linearGradient id="h84"><stop offset=".000" stop-color="#878787"/><stop offset=".233" stop-color="#777777"/><stop offset=".304" stop-color="#757575"/><stop offset=".342" stop-color="#656565"/><stop offset=".437" stop-color="#1c1c1c"/><stop offset=".471" stop-color="#0f0f0f"/><stop offset=".513" stop-color="#131313"/><stop offset=".589" stop-color="#2b2b2b"/><stop offset=".627" stop-color="#454545"/><stop offset=".684" stop-color="#787878"/><stop offset=".722" stop-color="#8a8a8a"/><stop offset=".760" stop-color="#8c8c8c"/><stop offset=".846" stop-color="#7a7a7a"/><stop offset="1.000" stop-color="#828282"/></linearGradient><linearGradient id="h85"><stop offset=".000" stop-color="#868686"/><stop offset=".200" stop-color="#777777"/><stop offset=".299" stop-color="#767676"/><stop offset=".337" stop-color="#676767"/><stop offset=".442" stop-color="#1b1b1b"/><stop offset=".475" stop-color="#111111"/><stop offset=".523" stop-color="#191919"/><stop offset=".594" stop-color="#2f2f2f"/><stop offset=".632" stop-color="#4b4b4b"/><stop offset=".684" stop-color="#777777"/><stop offset=".722" stop-color="#898989"/><stop offset=".765" stop-color="#8a8a8a"/><stop offset=".851" stop-color="#7a7a7a"/><stop offset="1.000" stop-color="#818181"/></linearGradient><linearGradient id="h86"><stop offset=".000" stop-color="#858585"/><stop offset=".185" stop-color="#757575"/><stop offset=".290" stop-color="#777777"/><stop offset=".333" stop-color="#696969"/><stop offset=".394" stop-color="#3e3e3e"/><stop offset=".447" stop-color="#1c1c1c"/><stop offset=".480" stop-color="#141414"/><stop offset=".556" stop-color="#252525"/><stop offset=".604" stop-color="#373737"/><stop offset=".689" stop-color="#7a7a7a"/><stop offset=".727" stop-color="#888888"/><stop offset=".775" stop-color="#878787"/><stop offset=".860" stop-color="#797979"/><stop offset="1.000" stop-color="#808080"/></linearGradient><linearGradient id="h87"><stop offset=".000" stop-color="#848484"/><stop offset=".171" stop-color="#737373"/><stop offset=".280" stop-color="#787878"/><stop offset=".323" stop-color="#6d6d6d"/><stop offset=".375" stop-color="#4e4e4e"/><stop offset=".442" stop-color="#212121"/><stop offset=".475" stop-color="#181818"/><stop offset=".528" stop-color="#212121"/><stop offset=".594" stop-color="#353535"/><stop offset=".637" stop-color="#525252"/><stop offset=".684" stop-color="#777777"/><stop offset=".722" stop-color="#858585"/><stop offset=".770" stop-color="#868686"/><stop offset=".875" stop-color="#787878"/><stop offset="1.000" stop-color="#7f7f7f"/></linearGradient><linearGradient id="h88"><stop offset=".000" stop-color="#848484"/><stop offset=".157" stop-color="#717171"/><stop offset=".280" stop-color="#777777"/><stop offset=".328" stop-color="#6b6b6b"/><stop offset=".390" stop-color="#454545"/><stop offset=".442" stop-color="#242424"/><stop offset=".475" stop-color="#1b1b1b"/><stop offset=".528" stop-color="#242424"/><stop offset=".599" stop-color="#3b3b3b"/><stop offset=".684" stop-color="#767676"/><stop offset=".727" stop-color="#838383"/><stop offset=".789" stop-color="#818181"/><stop offset=".889" stop-color="#777777"/><stop offset="1.000" stop-color="#7d7d7d"/></linearGradient><linearGradient id="h89"><stop offset=".000" stop-color="#848484"/><stop offset=".138" stop-color="#707070"/><stop offset=".276" stop-color="#787878"/><stop offset=".323" stop-color="#6d6d6d"/><stop offset=".385" stop-color="#4a4a4a"/><stop offset=".442" stop-color="#272727"/><stop offset=".475" stop-color="#1f1f1f"/><stop offset=".528" stop-color="#282828"/><stop offset=".599" stop-color="#3f3f3f"/><stop offset=".684" stop-color="#767676"/><stop offset=".727" stop-color="#808080"/><stop offset=".813" stop-color="#7c7c7c"/><stop offset=".908" stop-color="#767676"/><stop offset="1.000" stop-color="#7c7c7c"/></linearGradient><linearGradient id="h90"><stop offset=".000" stop-color="#838383"/><stop offset=".128" stop-color="#6f6f6f"/><stop offset=".276" stop-color="#777777"/><stop offset=".323" stop-color="#6d6d6d"/><stop offset=".385" stop-color="#4b4b4b"/><stop offset=".442" stop-color="#2b2b2b"/><stop offset=".480" stop-color="#232323"/><stop offset=".551" stop-color="#323232"/><stop offset=".608" stop-color="#484848"/><stop offset=".680" stop-color="#737373"/><stop offset=".722" stop-color="#7d7d7d"/><stop offset=".837" stop-color="#787878"/><stop offset=".922" stop-color="#757575"/><stop offset="1.000" stop-color="#7b7b7b"/></linearGradient><linearGradient id="h91"><stop offset=".000" stop-color="#838383"/><stop offset=".081" stop-color="#737373"/><stop offset=".138" stop-color="#6e6e6e"/><stop offset=".266" stop-color="#787878"/><stop offset=".318" stop-color="#6f6f6f"/><stop offset=".380" stop-color="#505050"/><stop offset=".442" stop-color="#2e2e2e"/><stop offset=".480" stop-color="#272727"/><stop offset=".547" stop-color="#363636"/><stop offset=".608" stop-color="#4c4c4c"/><stop offset=".680" stop-color="#737373"/><stop offset=".727" stop-color="#7b7b7b"/><stop offset=".922" stop-color="#747474"/><stop offset="1.000" stop-color="#7a7a7a"/></linearGradient><linearGradient id="h92"><stop offset=".000" stop-color="#828282"/><stop offset=".119" stop-color="#6d6d6d"/><stop offset=".257" stop-color="#787878"/><stop offset=".314" stop-color="#707070"/><stop offset=".375" stop-color="#555555"/><stop offset=".447" stop-color="#313131"/><stop offset=".485" stop-color="#2c2c2c"/><stop offset=".566" stop-color="#404040"/><stop offset=".627" stop-color="#5b5b5b"/><stop offset=".680" stop-color="#737373"/><stop offset=".732" stop-color="#787878"/><stop offset=".860" stop-color="#757575"/><stop offset=".936" stop-color="#757575"/><stop offset="1.000" stop-color="#7a7a7a"/></linearGradient><linearGradient id="h93"><stop offset=".000" stop-color="#818181"/><stop offset=".114" stop-color="#6f6f6f"/><stop offset=".247" stop-color="#787878"/><stop offset=".314" stop-color="#707070"/><stop offset=".380" stop-color="#545454"/><stop offset=".447" stop-color="#363636"/><stop offset=".485" stop-color="#313131"/><stop offset=".556" stop-color="#424242"/><stop offset=".632" stop-color="#616161"/><stop offset=".684" stop-color="#747474"/><stop offset=".846" stop-color="#777777"/><stop offset=".922" stop-color="#757575"/><stop offset="1.000" stop-color="#7b7b7b"/></linearGradient><linearGradient id="h94"><stop offset=".000" stop-color="#7f7f7f"/><stop offset=".114" stop-color="#717171"/><stop offset=".233" stop-color="#797979"/><stop offset=".314" stop-color="#707070"/><stop offset=".385" stop-color="#555555"/><stop offset=".452" stop-color="#393939"/><stop offset=".494" stop-color="#373737"/><stop offset=".580" stop-color="#4f4f4f"/><stop offset=".675" stop-color="#727272"/><stop offset=".846" stop-color="#787878"/><stop offset=".922" stop-color="#767676"/><stop offset="1.000" stop-color="#7c7c7c"/></linearGradient><linearGradient id="h95"><stop offset=".000" stop-color="#7c7c7c"/><stop offset=".119" stop-color="#747474"/><stop offset=".219" stop-color="#7a7a7a"/><stop offset=".314" stop-color="#707070"/><stop offset=".394" stop-color="#535353"/><stop offset=".456" stop-color="#3d3d3d"/><stop offset=".504" stop-color="#3e3e3e"/><stop offset=".608" stop-color="#5e5e5e"/><stop offset=".675" stop-color="#727272"/><stop offset=".779" stop-color="#767676"/><stop offset=".841" stop-color="#7a7a7a"/><stop offset=".922" stop-color="#777777"/><stop offset="1.000" stop-color="#7d7d7d"/></linearGradient><linearGradient id="h96"><stop offset=".000" stop-color="#7a7a7a"/><stop offset=".124" stop-color="#777777"/><stop offset=".214" stop-color="#7b7b7b"/><stop offset=".323" stop-color="#6e6e6e"/><stop offset=".456" stop-color="#424242"/><stop offset=".504" stop-color="#434343"/><stop offset=".670" stop-color="#727272"/><stop offset=".770" stop-color="#757575"/><stop offset=".837" stop-color="#7c7c7c"/><stop offset=".922" stop-color="#787878"/><stop offset="1.000" stop-color="#7f7f7f"/></linearGradient><linearGradient id="h97"><stop offset=".000" stop-color="#797979"/><stop offset=".128" stop-color="#7a7a7a"/><stop offset=".209" stop-color="#7c7c7c"/><stop offset=".333" stop-color="#6c6c6c"/><stop offset=".461" stop-color="#464646"/><stop offset=".513" stop-color="#4b4b4b"/><stop offset=".665" stop-color="#727272"/><stop offset=".770" stop-color="#767676"/><stop offset=".837" stop-color="#7d7d7d"/><stop offset=".922" stop-color="#797979"/><stop offset="1.000" stop-color="#808080"/></linearGradient><linearGradient id="h98"><stop offset=".000" stop-color="#777777"/><stop offset=".204" stop-color="#7c7c7c"/><stop offset=".352" stop-color="#686868"/><stop offset=".461" stop-color="#4b4b4b"/><stop offset=".513" stop-color="#505050"/><stop offset=".670" stop-color="#737373"/><stop offset=".775" stop-color="#787878"/><stop offset=".837" stop-color="#7d7d7d"/><stop offset=".917" stop-color="#797979"/><stop offset="1.000" stop-color="#808080"/></linearGradient><linearGradient id="h99"><stop offset=".000" stop-color="#777777"/><stop offset=".195" stop-color="#7d7d7d"/><stop offset=".361" stop-color="#676767"/><stop offset=".461" stop-color="#4f4f4f"/><stop offset=".513" stop-color="#555555"/><stop offset=".680" stop-color="#747474"/><stop offset=".789" stop-color="#7b7b7b"/><stop offset=".851" stop-color="#7c7c7c"/><stop offset=".922" stop-color="#797979"/><stop offset="1.000" stop-color="#808080"/></linearGradient><linearGradient id="h100"><stop offset=".000" stop-color="#767676"/><stop offset=".185" stop-color="#7d7d7d"/><stop offset=".371" stop-color="#676767"/><stop offset=".461" stop-color="#545454"/><stop offset=".523" stop-color="#5d5d5d"/><stop offset=".699" stop-color="#777777"/><stop offset=".837" stop-color="#7c7c7c"/><stop offset=".917" stop-color="#787878"/><stop offset="1.000" stop-color="#7f7f7f"/></linearGradient><linearGradient id="h101"><stop offset=".000" stop-color="#767676"/><stop offset=".181" stop-color="#7d7d7d"/><stop offset=".375" stop-color="#696969"/><stop offset=".461" stop-color="#595959"/><stop offset=".703" stop-color="#797979"/><stop offset=".832" stop-color="#7c7c7c"/><stop offset=".917" stop-color="#787878"/><stop offset="1.000" stop-color="#7f7f7f"/></linearGradient><linearGradient id="h102"><stop offset=".000" stop-color="#777777"/><stop offset=".166" stop-color="#7d7d7d"/><stop offset=".366" stop-color="#6e6e6e"/><stop offset=".461" stop-color="#5f5f5f"/><stop offset=".722" stop-color="#7c7c7c"/><stop offset=".837" stop-color="#7c7c7c"/><stop offset=".922" stop-color="#797979"/><stop offset="1.000" stop-color="#7f7f7f"/></linearGradient><linearGradient id="h103"><stop offset=".000" stop-color="#777777"/><stop offset=".152" stop-color="#7e7e7e"/><stop offset=".347" stop-color="#747474"/><stop offset=".466" stop-color="#676767"/><stop offset=".760" stop-color="#7f7f7f"/><stop offset=".927" stop-color="#7b7b7b"/><stop offset="1.000" stop-color="#7f7f7f"/></linearGradient><linearGradient id="h104"><stop offset=".000" stop-color="#787878"/><stop offset=".138" stop-color="#7f7f7f"/><stop offset=".328" stop-color="#7b7b7b"/><stop offset=".466" stop-color="#6f6f6f"/><stop offset=".756" stop-color="#7f7f7f"/><stop offset=".936" stop-color="#7d7d7d"/><stop offset="1.000" stop-color="#808080"/></linearGradient><linearGradient id="h105"><stop offset=".000" stop-color="#797979"/><stop offset=".133" stop-color="#808080"/><stop offset=".247" stop-color="#828282"/><stop offset=".347" stop-color="#7d7d7d"/><stop offset=".461" stop-color="#787878"/><stop offset=".556" stop-color="#797979"/><stop offset=".646" stop-color="#7f7f7f"/><stop offset="1.000" stop-color="#818181"/></linearGradient><linearGradient id="h106"><stop offset=".000" stop-color="#7a7a7a"/><stop offset=".138" stop-color="#818181"/><stop offset=".233" stop-color="#848484"/><stop offset=".323" stop-color="#848484"/><stop offset=".418" stop-color="#7f7f7f"/><stop offset=".504" stop-color="#7d7d7d"/><stop offset=".570" stop-color="#7f7f7f"/><stop offset=".642" stop-color="#828282"/><stop offset=".884" stop-color="#808080"/><stop offset="1.000" stop-color="#828282"/></linearGradient><linearGradient id="h107"><stop offset=".000" stop-color="#7b7b7b"/><stop offset=".152" stop-color="#828282"/><stop offset=".314" stop-color="#888888"/><stop offset=".409" stop-color="#838383"/><stop offset=".485" stop-color="#868686"/><stop offset=".556" stop-color="#838383"/><stop offset=".632" stop-color="#868686"/><stop offset=".732" stop-color="#828282"/><stop offset="1.000" stop-color="#828282"/></linearGradient><linearGradient id="h108"><stop offset=".000" stop-color="#7d7d7d"/><stop offset=".318" stop-color="#898989"/><stop offset=".404" stop-color="#868686"/><stop offset=".480" stop-color="#8d8d8d"/><stop offset=".575" stop-color="#8a8a8a"/><stop offset=".661" stop-color="#868686"/><stop offset="1.000" stop-color="#828282"/></linearGradient><linearGradient id="h109"><stop offset=".000" stop-color="#7e7e7e"/><stop offset=".209" stop-color="#878787"/><stop offset=".404" stop-color="#888888"/><stop offset=".485" stop-color="#939393"/><stop offset=".656" stop-color="#888888"/><stop offset=".875" stop-color="#848484"/><stop offset="1.000" stop-color="#828282"/></linearGradient><linearGradient id="h110"><stop offset=".000" stop-color="#7e7e7e"/><stop offset=".114" stop-color="#848484"/><stop offset=".190" stop-color="#8a8a8a"/><stop offset=".276" stop-color="#868686"/><stop offset=".404" stop-color="#8a8a8a"/><stop offset=".490" stop-color="#9b9b9b"/><stop offset=".575" stop-color="#959595"/><stop offset=".684" stop-color="#888888"/><stop offset=".813" stop-color="#898989"/><stop offset=".960" stop-color="#808080"/><stop offset="1.000" stop-color="#818181"/></linearGradient><linearGradient id="h111"><stop offset=".000" stop-color="#7e7e7e"/><stop offset=".105" stop-color="#828282"/><stop offset=".181" stop-color="#8c8c8c"/><stop offset=".271" stop-color="#838383"/><stop offset=".399" stop-color="#8b8b8b"/><stop offset=".490" stop-color="#a2a2a2"/><stop offset=".547" stop-color="#a0a0a0"/><stop offset=".656" stop-color="#8b8b8b"/><stop offset=".803" stop-color="#8c8c8c"/><stop offset=".946" stop-color="#7f7f7f"/><stop offset="1.000" stop-color="#7f7f7f"/></linearGradient><linearGradient id="h112"><stop offset=".000" stop-color="#7d7d7d"/><stop offset=".105" stop-color="#828282"/><stop offset=".181" stop-color="#8c8c8c"/><stop offset=".266" stop-color="#828282"/><stop offset=".394" stop-color="#8d8d8d"/><stop offset=".485" stop-color="#aaaaaa"/><stop offset=".532" stop-color="#ababab"/><stop offset=".646" stop-color="#8e8e8e"/><stop offset=".713" stop-color="#8e8e8e"/><stop offset=".789" stop-color="#909090"/><stop offset=".951" stop-color="#7d7d7d"/><stop offset="1.000" stop-color="#7c7c7c"/></linearGradient><linearGradient id="h113"><stop offset=".000" stop-color="#7b7b7b"/><stop offset=".105" stop-color="#818181"/><stop offset=".181" stop-color="#8a8a8a"/><stop offset=".266" stop-color="#818181"/><stop offset=".390" stop-color="#8f8f8f"/><stop offset=".475" stop-color="#b2b2b2"/><stop offset=".518" stop-color="#b6b6b6"/><stop offset=".575" stop-color="#a7a7a7"/><stop offset=".646" stop-color="#919191"/><stop offset=".703" stop-color="#909090"/><stop offset=".775" stop-color="#939393"/><stop offset=".979" stop-color="#7a7a7a"/><stop offset="1.000" stop-color="#797979"/></linearGradient><linearGradient id="h114"><stop offset=".000" stop-color="#777777"/><stop offset=".119" stop-color="#828282"/><stop offset=".190" stop-color="#868686"/><stop offset=".266" stop-color="#828282"/><stop offset=".385" stop-color="#919191"/><stop offset=".471" stop-color="#bcbcbc"/><stop offset=".509" stop-color="#c0c0c0"/><stop offset=".566" stop-color="#b1b1b1"/><stop offset=".646" stop-color="#959595"/><stop offset=".699" stop-color="#929292"/><stop offset=".770" stop-color="#969696"/><stop offset=".993" stop-color="#767676"/><stop offset="1.000" stop-color="#767676"/></linearGradient><linearGradient id="h115"><stop offset=".000" stop-color="#737373"/><stop offset=".171" stop-color="#838383"/><stop offset=".266" stop-color="#828282"/><stop offset=".380" stop-color="#939393"/><stop offset=".418" stop-color="#a8a8a8"/><stop offset=".466" stop-color="#c6c6c6"/><stop offset=".499" stop-color="#cacaca"/><stop offset=".551" stop-color="#bdbdbd"/><stop offset=".651" stop-color="#989898"/><stop offset=".699" stop-color="#949494"/><stop offset=".765" stop-color="#979797"/><stop offset=".993" stop-color="#737373"/><stop offset="1.000" stop-color="#727272"/></linearGradient><linearGradient id="h116"><stop offset=".000" stop-color="#6e6e6e"/><stop offset=".138" stop-color="#808080"/><stop offset=".261" stop-color="#838383"/><stop offset=".375" stop-color="#949494"/><stop offset=".409" stop-color="#a7a7a7"/><stop offset=".461" stop-color="#cecece"/><stop offset=".490" stop-color="#d4d4d4"/><stop offset=".537" stop-color="#c8c8c8"/><stop offset=".661" stop-color="#989898"/><stop offset=".708" stop-color="#959595"/><stop offset=".770" stop-color="#969696"/><stop offset=".936" stop-color="#7a7a7a"/><stop offset="1.000" stop-color="#707070"/></linearGradient><linearGradient id="h117"><stop offset=".000" stop-color="#696969"/><stop offset=".086" stop-color="#797979"/><stop offset=".147" stop-color="#7e7e7e"/><stop offset=".238" stop-color="#818181"/><stop offset=".371" stop-color="#959595"/><stop offset=".404" stop-color="#a8a8a8"/><stop offset=".456" stop-color="#d3d3d3"/><stop offset=".485" stop-color="#dcdcdc"/><stop offset=".523" stop-color="#d3d3d3"/><stop offset=".665" stop-color="#999999"/><stop offset=".718" stop-color="#959595"/><stop offset=".784" stop-color="#929292"/><stop offset=".941" stop-color="#787878"/><stop offset="1.000" stop-color="#6f6f6f"/></linearGradient><linearGradient id="h118"><stop offset=".000" stop-color="#636363"/><stop offset=".062" stop-color="#717171"/><stop offset=".119" stop-color="#7d7d7d"/><stop offset=".219" stop-color="#7e7e7e"/><stop offset=".366" stop-color="#959595"/><stop offset=".399" stop-color="#a8a8a8"/><stop offset=".456" stop-color="#d9d9d9"/><stop offset=".480" stop-color="#e1e1e1"/><stop offset=".513" stop-color="#dbdbdb"/><stop offset=".670" stop-color="#989898"/><stop offset=".727" stop-color="#929292"/><stop offset=".822" stop-color="#8a8a8a"/><stop offset=".993" stop-color="#717171"/><stop offset="1.000" stop-color="#707070"/></linearGradient><linearGradient id="h119"><stop offset=".000" stop-color="#5e5e5e"/><stop offset=".052" stop-color="#6a6a6a"/><stop offset=".114" stop-color="#7b7b7b"/><stop offset=".219" stop-color="#7e7e7e"/><stop offset=".361" stop-color="#959595"/><stop offset=".394" stop-color="#a7a7a7"/><stop offset=".456" stop-color="#dddddd"/><stop offset=".480" stop-color="#e5e5e5"/><stop offset=".513" stop-color="#dedede"/><stop offset=".680" stop-color="#949494"/><stop offset=".746" stop-color="#8c8c8c"/><stop offset=".841" stop-color="#858585"/><stop offset=".951" stop-color="#747474"/><stop offset="1.000" stop-color="#737373"/></linearGradient><linearGradient id="h120"><stop offset=".000" stop-color="#5a5a5a"/><stop offset=".048" stop-color="#656565"/><stop offset=".114" stop-color="#7b7b7b"/><stop offset=".228" stop-color="#808080"/><stop offset=".356" stop-color="#949494"/><stop offset=".390" stop-color="#a5a5a5"/><stop offset=".456" stop-color="#dfdfdf"/><stop offset=".480" stop-color="#e7e7e7"/><stop offset=".513" stop-color="#dfdfdf"/><stop offset=".684" stop-color="#919191"/><stop offset=".741" stop-color="#868686"/><stop offset=".832" stop-color="#858585"/><stop offset=".917" stop-color="#757575"/><stop offset="1.000" stop-color="#767676"/></linearGradient><linearGradient id="h121"><stop offset=".000" stop-color="#585858"/><stop offset=".048" stop-color="#636363"/><stop offset=".114" stop-color="#7a7a7a"/><stop offset=".252" stop-color="#838383"/><stop offset=".352" stop-color="#939393"/><stop offset=".390" stop-color="#a6a6a6"/><stop offset=".452" stop-color="#dedede"/><stop offset=".475" stop-color="#e8e8e8"/><stop offset=".509" stop-color="#e3e3e3"/><stop offset=".699" stop-color="#8a8a8a"/><stop offset=".751" stop-color="#818181"/><stop offset=".827" stop-color="#838383"/><stop offset=".908" stop-color="#737373"/><stop offset="1.000" stop-color="#797979"/></linearGradient><linearGradient id="h122"><stop offset=".000" stop-color="#585858"/><stop offset=".048" stop-color="#636363"/><stop offset=".114" stop-color="#797979"/><stop offset=".290" stop-color="#878787"/><stop offset=".356" stop-color="#959595"/><stop offset=".394" stop-color="#ababab"/><stop offset=".452" stop-color="#dfdfdf"/><stop offset=".475" stop-color="#e9e9e9"/><stop offset=".509" stop-color="#e4e4e4"/><stop offset=".703" stop-color="#878787"/><stop offset=".751" stop-color="#7d7d7d"/><stop offset=".827" stop-color="#818181"/><stop offset=".908" stop-color="#727272"/><stop offset="1.000" stop-color="#7c7c7c"/></linearGradient><linearGradient id="h123"><stop offset=".000" stop-color="#5b5b5b"/><stop offset=".052" stop-color="#666666"/><stop offset=".124" stop-color="#7a7a7a"/><stop offset=".285" stop-color="#858585"/><stop offset=".356" stop-color="#969696"/><stop offset=".394" stop-color="#adadad"/><stop offset=".452" stop-color="#e1e1e1"/><stop offset=".475" stop-color="#ebebeb"/><stop offset=".509" stop-color="#e5e5e5"/><stop offset=".703" stop-color="#868686"/><stop offset=".751" stop-color="#7b7b7b"/><stop offset=".832" stop-color="#7f7f7f"/><stop offset=".908" stop-color="#737373"/><stop offset="1.000" stop-color="#7d7d7d"/></linearGradient><linearGradient id="h124"><stop offset=".000" stop-color="#616161"/><stop offset=".067" stop-color="#6d6d6d"/><stop offset=".143" stop-color="#7c7c7c"/><stop offset=".280" stop-color="#848484"/><stop offset=".356" stop-color="#979797"/><stop offset=".394" stop-color="#aeaeae"/><stop offset=".452" stop-color="#e2e2e2"/><stop offset=".475" stop-color="#ececec"/><stop offset=".504" stop-color="#e8e8e8"/><stop offset=".675" stop-color="#939393"/><stop offset=".737" stop-color="#7d7d7d"/><stop offset=".789" stop-color="#7d7d7d"/><stop offset=".841" stop-color="#7d7d7d"/><stop offset=".913" stop-color="#757575"/><stop offset="1.000" stop-color="#7e7e7e"/></linearGradient><linearGradient id="h125"><stop offset=".000" stop-color="#676767"/><stop offset=".095" stop-color="#757575"/><stop offset=".185" stop-color="#7e7e7e"/><stop offset=".276" stop-color="#828282"/><stop offset=".352" stop-color="#959595"/><stop offset=".390" stop-color="#ababab"/><stop offset=".452" stop-color="#e4e4e4"/><stop offset=".475" stop-color="#eeeeee"/><stop offset=".504" stop-color="#eaeaea"/><stop offset=".646" stop-color="#9f9f9f"/><stop offset=".732" stop-color="#808080"/><stop offset=".789" stop-color="#7d7d7d"/><stop offset=".860" stop-color="#7b7b7b"/><stop offset=".932" stop-color="#797979"/><stop offset="1.000" stop-color="#7e7e7e"/></linearGradient><linearGradient id="h126"><stop offset=".000" stop-color="#6d6d6d"/><stop offset=".190" stop-color="#7d7d7d"/><stop offset=".271" stop-color="#808080"/><stop offset=".352" stop-color="#969696"/><stop offset=".390" stop-color="#acacac"/><stop offset=".452" stop-color="#e7e7e7"/><stop offset=".475" stop-color="#f1f1f1"/><stop offset=".504" stop-color="#ececec"/><stop offset=".632" stop-color="#a4a4a4"/><stop offset=".718" stop-color="#868686"/><stop offset=".779" stop-color="#7e7e7e"/><stop offset=".970" stop-color="#7d7d7d"/><stop offset="1.000" stop-color="#7d7d7d"/></linearGradient><linearGradient id="h127"><stop offset=".000" stop-color="#737373"/><stop offset=".204" stop-color="#7d7d7d"/><stop offset=".271" stop-color="#808080"/><stop offset=".356" stop-color="#989898"/><stop offset=".390" stop-color="#acacac"/><stop offset=".452" stop-color="#e9e9e9"/><stop offset=".475" stop-color="#f3f3f3"/><stop offset=".504" stop-color="#eeeeee"/><stop offset=".627" stop-color="#a4a4a4"/><stop offset=".699" stop-color="#8b8b8b"/><stop offset=".794" stop-color="#7e7e7e"/><stop offset="1.000" stop-color="#7d7d7d"/></linearGradient><linearGradient id="h128"><stop offset=".000" stop-color="#767676"/><stop offset=".266" stop-color="#7f7f7f"/><stop offset=".356" stop-color="#989898"/><stop offset=".390" stop-color="#adadad"/><stop offset=".452" stop-color="#ebebeb"/><stop offset=".475" stop-color="#f6f6f6"/><stop offset=".504" stop-color="#f1f1f1"/><stop offset=".627" stop-color="#a2a2a2"/><stop offset=".684" stop-color="#8e8e8e"/><stop offset=".837" stop-color="#7c7c7c"/><stop offset="1.000" stop-color="#7c7c7c"/></linearGradient><linearGradient id="h129"><stop offset=".000" stop-color="#777777"/><stop offset=".261" stop-color="#7e7e7e"/><stop offset=".356" stop-color="#989898"/><stop offset=".390" stop-color="#adadad"/><stop offset=".452" stop-color="#ededed"/><stop offset=".475" stop-color="#f8f8f8"/><stop offset=".504" stop-color="#f3f3f3"/><stop offset=".566" stop-color="#c8c8c8"/><stop offset=".627" stop-color="#9f9f9f"/><stop offset=".680" stop-color="#8d8d8d"/><stop offset=".784" stop-color="#828282"/><stop offset=".846" stop-color="#7c7c7c"/><stop offset=".960" stop-color="#7d7d7d"/><stop offset="1.000" stop-color="#7c7c7c"/></linearGradient><linearGradient id="h130"><stop offset=".000" stop-color="#787878"/><stop offset=".252" stop-color="#7d7d7d"/><stop offset=".352" stop-color="#969696"/><stop offset=".385" stop-color="#a9a9a9"/><stop offset=".428" stop-color="#d6d6d6"/><stop offset=".456" stop-color="#f2f2f2"/><stop offset=".480" stop-color="#fbfbfb"/><stop offset=".509" stop-color="#f3f3f3"/><stop offset=".623" stop-color="#9f9f9f"/><stop offset=".670" stop-color="#8c8c8c"/><stop offset=".770" stop-color="#868686"/><stop offset=".837" stop-color="#7b7b7b"/><stop offset=".960" stop-color="#7d7d7d"/><stop offset="1.000" stop-color="#7c7c7c"/></linearGradient><linearGradient id="h131"><stop offset=".000" stop-color="#787878"/><stop offset=".242" stop-color="#7c7c7c"/><stop offset=".347" stop-color="#949494"/><stop offset=".380" stop-color="#a5a5a5"/><stop offset=".413" stop-color="#c6c6c6"/><stop offset=".452" stop-color="#f0f0f0"/><stop offset=".475" stop-color="#fcfcfc"/><stop offset=".499" stop-color="#f9f9f9"/><stop offset=".537" stop-color="#e0e0e0"/><stop offset=".618" stop-color="#9f9f9f"/><stop offset=".661" stop-color="#8c8c8c"/><stop offset=".703" stop-color="#888888"/><stop offset=".760" stop-color="#8a8a8a"/><stop offset=".837" stop-color="#7b7b7b"/><stop offset=".984" stop-color="#7c7c7c"/><stop offset="1.000" stop-color="#7c7c7c"/></linearGradient><linearGradient id="h132"><stop offset=".000" stop-color="#787878"/><stop offset=".228" stop-color="#7a7a7a"/><stop offset=".328" stop-color="#8e8e8e"/><stop offset=".371" stop-color="#9e9e9e"/><stop offset=".399" stop-color="#b6b6b6"/><stop offset=".452" stop-color="#f1f1f1"/><stop offset=".475" stop-color="#fefefe"/><stop offset=".499" stop-color="#fafafa"/><stop offset=".537" stop-color="#e0e0e0"/><stop offset=".613" stop-color="#a1a1a1"/><stop offset=".656" stop-color="#8b8b8b"/><stop offset=".694" stop-color="#878787"/><stop offset=".756" stop-color="#8c8c8c"/><stop offset=".841" stop-color="#7b7b7b"/><stop offset="1.000" stop-color="#7c7c7c"/></linearGradient><linearGradient id="h133"><stop offset=".000" stop-color="#787878"/><stop offset=".204" stop-color="#787878"/><stop offset=".309" stop-color="#888888"/><stop offset=".361" stop-color="#989898"/><stop offset=".390" stop-color="#acacac"/><stop offset=".452" stop-color="#f2f2f2"/><stop offset=".475" stop-color="#fefefe"/><stop offset=".499" stop-color="#fafafa"/><stop offset=".537" stop-color="#dfdfdf"/><stop offset=".613" stop-color="#9f9f9f"/><stop offset=".656" stop-color="#8b8b8b"/><stop offset=".694" stop-color="#878787"/><stop offset=".756" stop-color="#8c8c8c"/><stop offset=".846" stop-color="#7c7c7c"/><stop offset="1.000" stop-color="#7d7d7d"/></linearGradient><linearGradient id="h134"><stop offset=".000" stop-color="#797979"/><stop offset=".166" stop-color="#757575"/><stop offset=".295" stop-color="#848484"/><stop offset=".356" stop-color="#959595"/><stop offset=".390" stop-color="#acacac"/><stop offset=".452" stop-color="#f2f2f2"/><stop offset=".475" stop-color="#fefefe"/><stop offset=".499" stop-color="#fafafa"/><stop offset=".537" stop-color="#dfdfdf"/><stop offset=".608" stop-color="#a1a1a1"/><stop offset=".651" stop-color="#8c8c8c"/><stop offset=".694" stop-color="#888888"/><stop offset=".760" stop-color="#8c8c8c"/><stop offset=".851" stop-color="#7e7e7e"/><stop offset="1.000" stop-color="#7f7f7f"/></linearGradient><linearGradient id="h135"><stop offset=".000" stop-color="#7a7a7a"/><stop offset=".143" stop-color="#727272"/><stop offset=".299" stop-color="#858585"/><stop offset=".356" stop-color="#959595"/><stop offset=".390" stop-color="#acacac"/><stop offset=".452" stop-color="#f2f2f2"/><stop offset=".475" stop-color="#fefefe"/><stop offset=".499" stop-color="#f9f9f9"/><stop offset=".537" stop-color="#dddddd"/><stop offset=".604" stop-color="#a4a4a4"/><stop offset=".646" stop-color="#8e8e8e"/><stop offset=".694" stop-color="#898989"/><stop offset=".765" stop-color="#8c8c8c"/><stop offset=".865" stop-color="#808080"/><stop offset="1.000" stop-color="#808080"/></linearGradient><linearGradient id="h136"><stop offset=".000" stop-color="#7b7b7b"/><stop offset=".128" stop-color="#707070"/><stop offset=".314" stop-color="#868686"/><stop offset=".361" stop-color="#969696"/><stop offset=".394" stop-color="#b1b1b1"/><stop offset=".447" stop-color="#eeeeee"/><stop offset=".471" stop-color="#fdfdfd"/><stop offset=".494" stop-color="#fafafa"/><stop offset=".528" stop-color="#e4e4e4"/><stop offset=".599" stop-color="#a6a6a6"/><stop offset=".637" stop-color="#929292"/><stop offset=".684" stop-color="#8a8a8a"/><stop offset=".779" stop-color="#8a8a8a"/><stop offset=".898" stop-color="#818181"/><stop offset="1.000" stop-color="#818181"/></linearGradient><linearGradient id="h137"><stop offset=".000" stop-color="#7b7b7b"/><stop offset=".124" stop-color="#6e6e6e"/><stop offset=".328" stop-color="#898989"/><stop offset=".366" stop-color="#999999"/><stop offset=".399" stop-color="#b6b6b6"/><stop offset=".447" stop-color="#eeeeee"/><stop offset=".471" stop-color="#fcfcfc"/><stop offset=".494" stop-color="#f9f9f9"/><stop offset=".528" stop-color="#e3e3e3"/><stop offset=".599" stop-color="#a5a5a5"/><stop offset=".637" stop-color="#939393"/><stop offset=".694" stop-color="#8c8c8c"/><stop offset=".817" stop-color="#888888"/><stop offset=".946" stop-color="#828282"/><stop offset="1.000" stop-color="#838383"/></linearGradient><linearGradient id="h138"><stop offset=".000" stop-color="#7c7c7c"/><stop offset=".119" stop-color="#6c6c6c"/><stop offset=".328" stop-color="#888888"/><stop offset=".366" stop-color="#999999"/><stop offset=".399" stop-color="#b6b6b6"/><stop offset=".447" stop-color="#ededed"/><stop offset=".471" stop-color="#fbfbfb"/><stop offset=".494" stop-color="#f9f9f9"/><stop offset=".528" stop-color="#e2e2e2"/><stop offset=".599" stop-color="#a5a5a5"/><stop offset=".637" stop-color="#949494"/><stop offset=".713" stop-color="#8c8c8c"/><stop offset=".879" stop-color="#848484"/><stop offset="1.000" stop-color="#848484"/></linearGradient><linearGradient id="h139"><stop offset=".000" stop-color="#7d7d7d"/><stop offset=".114" stop-color="#6b6b6b"/><stop offset=".214" stop-color="#787878"/><stop offset=".328" stop-color="#878787"/><stop offset=".366" stop-color="#989898"/><stop offset=".399" stop-color="#b6b6b6"/><stop offset=".447" stop-color="#ededed"/><stop offset=".471" stop-color="#fbfbfb"/><stop offset=".494" stop-color="#f8f8f8"/><stop offset=".528" stop-color="#e1e1e1"/><stop offset=".594" stop-color="#a8a8a8"/><stop offset=".632" stop-color="#959595"/><stop offset=".718" stop-color="#8c8c8c"/><stop offset=".870" stop-color="#868686"/><stop offset="1.000" stop-color="#848484"/></linearGradient><linearGradient id="cb308" x1="0" y1="1" x2="0" y2="0"><stop offset="0" stop-color="#000"/><stop offset="1" stop-color="#fff"/></linearGradient><linearGradient id="h140"><stop offset=".000" stop-color="#777777"/><stop offset=".071" stop-color="#878787"/><stop offset=".119" stop-color="#8c8c8c"/><stop offset=".247" stop-color="#757575"/><stop offset=".295" stop-color="#5b5b5b"/><stop offset=".385" stop-color="#1e1e1e"/><stop offset=".433" stop-color="#0d0d0d"/><stop offset=".471" stop-color="#0f0f0f"/><stop offset=".513" stop-color="#212121"/><stop offset=".604" stop-color="#5b5b5b"/><stop offset=".656" stop-color="#6a6a6a"/><stop offset=".817" stop-color="#7c7c7c"/><stop offset=".946" stop-color="#808080"/><stop offset="1.000" stop-color="#848484"/></linearGradient><linearGradient id="h141"><stop offset=".000" stop-color="#777777"/><stop offset=".109" stop-color="#8d8d8d"/><stop offset=".242" stop-color="#767676"/><stop offset=".290" stop-color="#5d5d5d"/><stop offset=".380" stop-color="#202020"/><stop offset=".428" stop-color="#0e0e0e"/><stop offset=".466" stop-color="#0e0e0e"/><stop offset=".509" stop-color="#1f1f1f"/><stop offset=".604" stop-color="#5c5c5c"/><stop offset=".656" stop-color="#6a6a6a"/><stop offset=".817" stop-color="#7c7c7c"/><stop offset=".946" stop-color="#808080"/><stop offset="1.000" stop-color="#848484"/></linearGradient><linearGradient id="h142"><stop offset=".000" stop-color="#777777"/><stop offset=".109" stop-color="#8c8c8c"/><stop offset=".238" stop-color="#777777"/><stop offset=".280" stop-color="#636363"/><stop offset=".380" stop-color="#1f1f1f"/><stop offset=".423" stop-color="#0f0f0f"/><stop offset=".461" stop-color="#0e0e0e"/><stop offset=".504" stop-color="#1e1e1e"/><stop offset=".604" stop-color="#5d5d5d"/><stop offset=".656" stop-color="#6b6b6b"/><stop offset=".808" stop-color="#7d7d7d"/><stop offset=".946" stop-color="#818181"/><stop offset="1.000" stop-color="#848484"/></linearGradient><linearGradient id="h143"><stop offset=".000" stop-color="#787878"/><stop offset=".109" stop-color="#8b8b8b"/><stop offset=".223" stop-color="#7b7b7b"/><stop offset=".266" stop-color="#6b6b6b"/><stop offset=".380" stop-color="#1f1f1f"/><stop offset=".423" stop-color="#101010"/><stop offset=".466" stop-color="#111111"/><stop offset=".513" stop-color="#252525"/><stop offset=".604" stop-color="#5f5f5f"/><stop offset=".656" stop-color="#6c6c6c"/><stop offset=".803" stop-color="#7d7d7d"/><stop offset=".955" stop-color="#818181"/><stop offset="1.000" stop-color="#838383"/></linearGradient><linearGradient id="h144"><stop offset=".000" stop-color="#787878"/><stop offset=".114" stop-color="#8b8b8b"/><stop offset=".228" stop-color="#7a7a7a"/><stop offset=".271" stop-color="#686868"/><stop offset=".380" stop-color="#1f1f1f"/><stop offset=".423" stop-color="#101010"/><stop offset=".466" stop-color="#131313"/><stop offset=".513" stop-color="#272727"/><stop offset=".604" stop-color="#606060"/><stop offset=".656" stop-color="#6d6d6d"/><stop offset=".798" stop-color="#7d7d7d"/><stop offset=".979" stop-color="#828282"/><stop offset="1.000" stop-color="#838383"/></linearGradient><linearGradient id="h145"><stop offset=".000" stop-color="#797979"/><stop offset=".114" stop-color="#8a8a8a"/><stop offset=".219" stop-color="#7c7c7c"/><stop offset=".266" stop-color="#6a6a6a"/><stop offset=".380" stop-color="#1f1f1f"/><stop offset=".423" stop-color="#121212"/><stop offset=".466" stop-color="#151515"/><stop offset=".513" stop-color="#2a2a2a"/><stop offset=".599" stop-color="#5f5f5f"/><stop offset=".646" stop-color="#6c6c6c"/><stop offset=".798" stop-color="#7e7e7e"/><stop offset="1.000" stop-color="#818181"/></linearGradient><linearGradient id="h146"><stop offset=".000" stop-color="#797979"/><stop offset=".119" stop-color="#888888"/><stop offset=".223" stop-color="#7b7b7b"/><stop offset=".271" stop-color="#686868"/><stop offset=".385" stop-color="#1f1f1f"/><stop offset=".428" stop-color="#131313"/><stop offset=".471" stop-color="#181818"/><stop offset=".523" stop-color="#323232"/><stop offset=".599" stop-color="#606060"/><stop offset=".646" stop-color="#6c6c6c"/><stop offset=".803" stop-color="#7d7d7d"/><stop offset="1.000" stop-color="#808080"/></linearGradient><linearGradient id="h147"><stop offset=".000" stop-color="#7a7a7a"/><stop offset=".124" stop-color="#878787"/><stop offset=".228" stop-color="#7a7a7a"/><stop offset=".280" stop-color="#656565"/><stop offset=".385" stop-color="#212121"/><stop offset=".423" stop-color="#161616"/><stop offset=".466" stop-color="#191919"/><stop offset=".518" stop-color="#313131"/><stop offset=".599" stop-color="#616161"/><stop offset=".646" stop-color="#6c6c6c"/><stop offset=".817" stop-color="#7d7d7d"/><stop offset="1.000" stop-color="#7d7d7d"/></linearGradient><linearGradient id="h148"><stop offset=".000" stop-color="#7a7a7a"/><stop offset=".124" stop-color="#868686"/><stop offset=".238" stop-color="#777777"/><stop offset=".295" stop-color="#606060"/><stop offset=".390" stop-color="#232323"/><stop offset=".428" stop-color="#181818"/><stop offset=".471" stop-color="#1d1d1d"/><stop offset=".528" stop-color="#393939"/><stop offset=".599" stop-color="#616161"/><stop offset=".646" stop-color="#6a6a6a"/><stop offset=".837" stop-color="#7c7c7c"/><stop offset="1.000" stop-color="#7a7a7a"/></linearGradient><linearGradient id="h149"><stop offset=".000" stop-color="#7a7a7a"/><stop offset=".124" stop-color="#858585"/><stop offset=".247" stop-color="#767676"/><stop offset=".304" stop-color="#5f5f5f"/><stop offset=".394" stop-color="#262626"/><stop offset=".433" stop-color="#1b1b1b"/><stop offset=".471" stop-color="#1f1f1f"/><stop offset=".528" stop-color="#3a3a3a"/><stop offset=".594" stop-color="#5e5e5e"/><stop offset=".642" stop-color="#686868"/><stop offset=".737" stop-color="#707070"/><stop offset=".851" stop-color="#7b7b7b"/><stop offset="1.000" stop-color="#777777"/></linearGradient><linearGradient id="h150"><stop offset=".000" stop-color="#7a7a7a"/><stop offset=".124" stop-color="#838383"/><stop offset=".257" stop-color="#757575"/><stop offset=".309" stop-color="#626262"/><stop offset=".399" stop-color="#292929"/><stop offset=".437" stop-color="#1e1e1e"/><stop offset=".475" stop-color="#222222"/><stop offset=".537" stop-color="#414141"/><stop offset=".599" stop-color="#5f5f5f"/><stop offset=".651" stop-color="#656565"/><stop offset=".737" stop-color="#6c6c6c"/><stop offset=".856" stop-color="#7a7a7a"/><stop offset="1.000" stop-color="#747474"/></linearGradient><linearGradient id="h151"><stop offset=".000" stop-color="#7b7b7b"/><stop offset=".124" stop-color="#828282"/><stop offset=".271" stop-color="#737373"/><stop offset=".318" stop-color="#626262"/><stop offset=".404" stop-color="#2c2c2c"/><stop offset=".442" stop-color="#212121"/><stop offset=".480" stop-color="#252525"/><stop offset=".594" stop-color="#5c5c5c"/><stop offset=".642" stop-color="#636363"/><stop offset=".718" stop-color="#666666"/><stop offset=".856" stop-color="#787878"/><stop offset=".965" stop-color="#737373"/><stop offset="1.000" stop-color="#727272"/></linearGradient><linearGradient id="h152"><stop offset=".000" stop-color="#7b7b7b"/><stop offset=".124" stop-color="#828282"/><stop offset=".276" stop-color="#747474"/><stop offset=".323" stop-color="#636363"/><stop offset=".413" stop-color="#2c2c2c"/><stop offset=".452" stop-color="#232323"/><stop offset=".490" stop-color="#2a2a2a"/><stop offset=".589" stop-color="#5b5b5b"/><stop offset=".632" stop-color="#616161"/><stop offset=".703" stop-color="#616161"/><stop offset=".860" stop-color="#777777"/><stop offset=".951" stop-color="#747474"/><stop offset="1.000" stop-color="#717171"/></linearGradient><linearGradient id="h153"><stop offset=".000" stop-color="#7b7b7b"/><stop offset=".128" stop-color="#818181"/><stop offset=".276" stop-color="#747474"/><stop offset=".328" stop-color="#626262"/><stop offset=".423" stop-color="#2c2c2c"/><stop offset=".461" stop-color="#242424"/><stop offset=".499" stop-color="#2e2e2e"/><stop offset=".589" stop-color="#5b5b5b"/><stop offset=".632" stop-color="#606060"/><stop offset=".699" stop-color="#5e5e5e"/><stop offset=".813" stop-color="#707070"/><stop offset=".913" stop-color="#787878"/><stop offset="1.000" stop-color="#727272"/></linearGradient><linearGradient id="h154"><stop offset=".000" stop-color="#7c7c7c"/><stop offset=".138" stop-color="#818181"/><stop offset=".271" stop-color="#757575"/><stop offset=".333" stop-color="#606060"/><stop offset=".437" stop-color="#2a2a2a"/><stop offset=".471" stop-color="#252525"/><stop offset=".509" stop-color="#323232"/><stop offset=".589" stop-color="#5b5b5b"/><stop offset=".627" stop-color="#606060"/><stop offset=".689" stop-color="#5c5c5c"/><stop offset=".779" stop-color="#6d6d6d"/><stop offset=".917" stop-color="#797979"/><stop offset="1.000" stop-color="#757575"/></linearGradient><linearGradient id="h155"><stop offset=".000" stop-color="#7c7c7c"/><stop offset=".152" stop-color="#818181"/><stop offset=".261" stop-color="#767676"/><stop offset=".337" stop-color="#5e5e5e"/><stop offset=".447" stop-color="#292929"/><stop offset=".480" stop-color="#282828"/><stop offset=".528" stop-color="#3c3c3c"/><stop offset=".589" stop-color="#5c5c5c"/><stop offset=".627" stop-color="#606060"/><stop offset=".684" stop-color="#5b5b5b"/><stop offset=".770" stop-color="#6d6d6d"/><stop offset=".846" stop-color="#727272"/><stop offset=".917" stop-color="#7b7b7b"/><stop offset="1.000" stop-color="#777777"/></linearGradient><linearGradient id="h156"><stop offset=".000" stop-color="#7c7c7c"/><stop offset=".162" stop-color="#828282"/><stop offset=".257" stop-color="#767676"/><stop offset=".361" stop-color="#555555"/><stop offset=".452" stop-color="#2b2b2b"/><stop offset=".485" stop-color="#2b2b2b"/><stop offset=".532" stop-color="#414141"/><stop offset=".589" stop-color="#5e5e5e"/><stop offset=".627" stop-color="#626262"/><stop offset=".684" stop-color="#5d5d5d"/><stop offset=".765" stop-color="#6e6e6e"/><stop offset=".837" stop-color="#707070"/><stop offset=".913" stop-color="#7d7d7d"/><stop offset="1.000" stop-color="#7a7a7a"/></linearGradient><linearGradient id="h157"><stop offset=".000" stop-color="#7c7c7c"/><stop offset=".171" stop-color="#828282"/><stop offset=".257" stop-color="#767676"/><stop offset=".385" stop-color="#4f4f4f"/><stop offset=".452" stop-color="#2f2f2f"/><stop offset=".485" stop-color="#2f2f2f"/><stop offset=".532" stop-color="#444444"/><stop offset=".589" stop-color="#606060"/><stop offset=".627" stop-color="#646464"/><stop offset=".684" stop-color="#5f5f5f"/><stop offset=".760" stop-color="#6f6f6f"/><stop offset=".832" stop-color="#6f6f6f"/><stop offset=".913" stop-color="#7f7f7f"/><stop offset="1.000" stop-color="#7b7b7b"/></linearGradient><linearGradient id="h158"><stop offset=".000" stop-color="#7b7b7b"/><stop offset=".166" stop-color="#848484"/><stop offset=".252" stop-color="#787878"/><stop offset=".390" stop-color="#515151"/><stop offset=".452" stop-color="#353535"/><stop offset=".485" stop-color="#343434"/><stop offset=".542" stop-color="#4e4e4e"/><stop offset=".594" stop-color="#646464"/><stop offset=".637" stop-color="#666666"/><stop offset=".694" stop-color="#656565"/><stop offset=".765" stop-color="#707070"/><stop offset=".832" stop-color="#707070"/><stop offset=".908" stop-color="#808080"/><stop offset="1.000" stop-color="#7a7a7a"/></linearGradient><linearGradient id="h159"><stop offset=".000" stop-color="#797979"/><stop offset=".162" stop-color="#848484"/><stop offset=".247" stop-color="#7a7a7a"/><stop offset=".390" stop-color="#555555"/><stop offset=".452" stop-color="#3b3b3b"/><stop offset=".485" stop-color="#3c3c3c"/><stop offset=".589" stop-color="#666666"/><stop offset=".642" stop-color="#6a6a6a"/><stop offset=".708" stop-color="#6c6c6c"/><stop offset=".779" stop-color="#6f6f6f"/><stop offset=".837" stop-color="#737373"/><stop offset=".903" stop-color="#818181"/><stop offset="1.000" stop-color="#787878"/></linearGradient><linearGradient id="h160"><stop offset=".000" stop-color="#787878"/><stop offset=".152" stop-color="#848484"/><stop offset=".247" stop-color="#7b7b7b"/><stop offset=".394" stop-color="#585858"/><stop offset=".452" stop-color="#424242"/><stop offset=".485" stop-color="#444444"/><stop offset=".580" stop-color="#676767"/><stop offset=".646" stop-color="#6e6e6e"/><stop offset=".827" stop-color="#727272"/><stop offset=".903" stop-color="#818181"/><stop offset="1.000" stop-color="#767676"/></linearGradient><linearGradient id="h161"><stop offset=".000" stop-color="#767676"/><stop offset=".138" stop-color="#848484"/><stop offset=".252" stop-color="#7b7b7b"/><stop offset=".399" stop-color="#5a5a5a"/><stop offset=".456" stop-color="#494949"/><stop offset=".494" stop-color="#4f4f4f"/><stop offset=".566" stop-color="#676767"/><stop offset=".680" stop-color="#737373"/><stop offset=".817" stop-color="#727272"/><stop offset=".898" stop-color="#818181"/><stop offset="1.000" stop-color="#737373"/></linearGradient><linearGradient id="h162"><stop offset=".000" stop-color="#757575"/><stop offset=".128" stop-color="#838383"/><stop offset=".261" stop-color="#787878"/><stop offset=".413" stop-color="#595959"/><stop offset=".461" stop-color="#505050"/><stop offset=".509" stop-color="#5b5b5b"/><stop offset=".566" stop-color="#6a6a6a"/><stop offset=".699" stop-color="#767676"/><stop offset=".813" stop-color="#727272"/><stop offset=".898" stop-color="#808080"/><stop offset="1.000" stop-color="#717171"/></linearGradient><linearGradient id="h163"><stop offset=".000" stop-color="#747474"/><stop offset=".119" stop-color="#818181"/><stop offset=".266" stop-color="#757575"/><stop offset=".361" stop-color="#656565"/><stop offset=".461" stop-color="#565656"/><stop offset=".561" stop-color="#6a6a6a"/><stop offset=".661" stop-color="#747474"/><stop offset=".737" stop-color="#767676"/><stop offset=".822" stop-color="#737373"/><stop offset=".903" stop-color="#7e7e7e"/><stop offset="1.000" stop-color="#717171"/></linearGradient><linearGradient id="h164"><stop offset=".000" stop-color="#737373"/><stop offset=".114" stop-color="#808080"/><stop offset=".219" stop-color="#777777"/><stop offset=".280" stop-color="#6f6f6f"/><stop offset=".347" stop-color="#646464"/><stop offset=".471" stop-color="#5c5c5c"/><stop offset=".556" stop-color="#6a6a6a"/><stop offset=".637" stop-color="#6e6e6e"/><stop offset=".722" stop-color="#787878"/><stop offset=".832" stop-color="#737373"/><stop offset=".908" stop-color="#7b7b7b"/><stop offset="1.000" stop-color="#717171"/></linearGradient><linearGradient id="h165"><stop offset=".000" stop-color="#737373"/><stop offset=".105" stop-color="#7f7f7f"/><stop offset=".200" stop-color="#737373"/><stop offset=".261" stop-color="#707070"/><stop offset=".333" stop-color="#616161"/><stop offset=".485" stop-color="#626262"/><stop offset=".556" stop-color="#696969"/><stop offset=".632" stop-color="#6b6b6b"/><stop offset=".737" stop-color="#7a7a7a"/><stop offset=".837" stop-color="#727272"/><stop offset=".922" stop-color="#787878"/><stop offset="1.000" stop-color="#727272"/></linearGradient><linearGradient id="h166"><stop offset=".000" stop-color="#747474"/><stop offset=".105" stop-color="#7e7e7e"/><stop offset=".195" stop-color="#6f6f6f"/><stop offset=".261" stop-color="#6c6c6c"/><stop offset=".328" stop-color="#5d5d5d"/><stop offset=".561" stop-color="#686868"/><stop offset=".632" stop-color="#686868"/><stop offset=".741" stop-color="#7c7c7c"/><stop offset=".841" stop-color="#707070"/><stop offset=".941" stop-color="#767676"/><stop offset="1.000" stop-color="#747474"/></linearGradient><linearGradient id="h167"><stop offset=".000" stop-color="#747474"/><stop offset=".100" stop-color="#7e7e7e"/><stop offset=".195" stop-color="#6d6d6d"/><stop offset=".261" stop-color="#6a6a6a"/><stop offset=".328" stop-color="#5c5c5c"/><stop offset=".509" stop-color="#696969"/><stop offset=".632" stop-color="#686868"/><stop offset=".746" stop-color="#7d7d7d"/><stop offset=".841" stop-color="#6f6f6f"/><stop offset=".989" stop-color="#767676"/><stop offset="1.000" stop-color="#767676"/></linearGradient><linearGradient id="h168"><stop offset=".000" stop-color="#767676"/><stop offset=".100" stop-color="#7d7d7d"/><stop offset=".195" stop-color="#6c6c6c"/><stop offset=".266" stop-color="#686868"/><stop offset=".333" stop-color="#5c5c5c"/><stop offset=".509" stop-color="#6a6a6a"/><stop offset=".632" stop-color="#696969"/><stop offset=".746" stop-color="#7d7d7d"/><stop offset=".846" stop-color="#6f6f6f"/><stop offset="1.000" stop-color="#787878"/></linearGradient><linearGradient id="h169"><stop offset=".000" stop-color="#777777"/><stop offset=".105" stop-color="#7c7c7c"/><stop offset=".200" stop-color="#6d6d6d"/><stop offset=".276" stop-color="#676767"/><stop offset=".342" stop-color="#5e5e5e"/><stop offset=".518" stop-color="#6b6b6b"/><stop offset=".637" stop-color="#6d6d6d"/><stop offset=".746" stop-color="#7d7d7d"/><stop offset=".851" stop-color="#707070"/><stop offset="1.000" stop-color="#7a7a7a"/></linearGradient><linearGradient id="h170"><stop offset=".000" stop-color="#797979"/><stop offset=".109" stop-color="#7c7c7c"/><stop offset=".214" stop-color="#6e6e6e"/><stop offset=".366" stop-color="#626262"/><stop offset=".537" stop-color="#6d6d6d"/><stop offset=".656" stop-color="#737373"/><stop offset=".751" stop-color="#7d7d7d"/><stop offset=".856" stop-color="#717171"/><stop offset="1.000" stop-color="#7c7c7c"/></linearGradient><linearGradient id="h171"><stop offset=".000" stop-color="#7b7b7b"/><stop offset=".119" stop-color="#7c7c7c"/><stop offset=".366" stop-color="#666666"/><stop offset=".699" stop-color="#7b7b7b"/><stop offset=".779" stop-color="#7a7a7a"/><stop offset=".875" stop-color="#747474"/><stop offset="1.000" stop-color="#7d7d7d"/></linearGradient><linearGradient id="h172"><stop offset=".000" stop-color="#7d7d7d"/><stop offset=".147" stop-color="#7b7b7b"/><stop offset=".409" stop-color="#696969"/><stop offset=".718" stop-color="#7e7e7e"/><stop offset=".884" stop-color="#787878"/><stop offset="1.000" stop-color="#7e7e7e"/></linearGradient><linearGradient id="h173"><stop offset=".000" stop-color="#7e7e7e"/><stop offset=".242" stop-color="#797979"/><stop offset=".418" stop-color="#6f6f6f"/><stop offset=".689" stop-color="#808080"/><stop offset=".898" stop-color="#7c7c7c"/><stop offset="1.000" stop-color="#7f7f7f"/></linearGradient><linearGradient id="h174"><stop offset=".000" stop-color="#808080"/><stop offset=".257" stop-color="#7e7e7e"/><stop offset=".418" stop-color="#747474"/><stop offset=".532" stop-color="#7c7c7c"/><stop offset=".684" stop-color="#828282"/><stop offset=".917" stop-color="#808080"/><stop offset="1.000" stop-color="#808080"/></linearGradient><linearGradient id="h175"><stop offset=".000" stop-color="#828282"/><stop offset=".133" stop-color="#808080"/><stop offset=".242" stop-color="#848484"/><stop offset=".356" stop-color="#7b7b7b"/><stop offset=".490" stop-color="#7b7b7b"/><stop offset=".608" stop-color="#848484"/><stop offset="1.000" stop-color="#818181"/></linearGradient><linearGradient id="h176"><stop offset=".000" stop-color="#838383"/><stop offset=".119" stop-color="#7f7f7f"/><stop offset=".233" stop-color="#8a8a8a"/><stop offset=".342" stop-color="#7f7f7f"/><stop offset=".428" stop-color="#808080"/><stop offset=".499" stop-color="#808080"/><stop offset=".599" stop-color="#878787"/><stop offset=".722" stop-color="#858585"/><stop offset=".946" stop-color="#838383"/><stop offset="1.000" stop-color="#818181"/></linearGradient><linearGradient id="h177"><stop offset=".000" stop-color="#858585"/><stop offset=".114" stop-color="#7d7d7d"/><stop offset=".233" stop-color="#8d8d8d"/><stop offset=".337" stop-color="#828282"/><stop offset=".413" stop-color="#868686"/><stop offset=".490" stop-color="#838383"/><stop offset=".594" stop-color="#888888"/><stop offset=".699" stop-color="#838383"/><stop offset=".803" stop-color="#878787"/><stop offset=".946" stop-color="#838383"/><stop offset="1.000" stop-color="#808080"/></linearGradient><linearGradient id="h178"><stop offset=".000" stop-color="#868686"/><stop offset=".109" stop-color="#7b7b7b"/><stop offset=".238" stop-color="#8e8e8e"/><stop offset=".333" stop-color="#848484"/><stop offset=".413" stop-color="#8a8a8a"/><stop offset=".499" stop-color="#868686"/><stop offset=".599" stop-color="#878787"/><stop offset=".689" stop-color="#808080"/><stop offset=".794" stop-color="#898989"/><stop offset=".941" stop-color="#838383"/><stop offset="1.000" stop-color="#808080"/></linearGradient><linearGradient id="h179"><stop offset=".000" stop-color="#878787"/><stop offset=".109" stop-color="#797979"/><stop offset=".238" stop-color="#8d8d8d"/><stop offset=".333" stop-color="#858585"/><stop offset=".413" stop-color="#8e8e8e"/><stop offset=".613" stop-color="#838383"/><stop offset=".684" stop-color="#7c7c7c"/><stop offset=".789" stop-color="#898989"/><stop offset=".941" stop-color="#828282"/><stop offset="1.000" stop-color="#7e7e7e"/></linearGradient><linearGradient id="h180"><stop offset=".000" stop-color="#888888"/><stop offset=".109" stop-color="#767676"/><stop offset=".181" stop-color="#838383"/><stop offset=".247" stop-color="#8b8b8b"/><stop offset=".333" stop-color="#868686"/><stop offset=".413" stop-color="#919191"/><stop offset=".618" stop-color="#7f7f7f"/><stop offset=".684" stop-color="#787878"/><stop offset=".789" stop-color="#888888"/><stop offset=".927" stop-color="#818181"/><stop offset="1.000" stop-color="#7d7d7d"/></linearGradient><linearGradient id="h181"><stop offset=".000" stop-color="#888888"/><stop offset=".109" stop-color="#747474"/><stop offset=".176" stop-color="#7f7f7f"/><stop offset=".247" stop-color="#898989"/><stop offset=".333" stop-color="#878787"/><stop offset=".418" stop-color="#949494"/><stop offset=".518" stop-color="#898989"/><stop offset=".680" stop-color="#757575"/><stop offset=".794" stop-color="#858585"/><stop offset=".936" stop-color="#7f7f7f"/><stop offset="1.000" stop-color="#7c7c7c"/></linearGradient><linearGradient id="h182"><stop offset=".000" stop-color="#878787"/><stop offset=".109" stop-color="#737373"/><stop offset=".176" stop-color="#7c7c7c"/><stop offset=".252" stop-color="#878787"/><stop offset=".333" stop-color="#898989"/><stop offset=".418" stop-color="#999999"/><stop offset=".480" stop-color="#939393"/><stop offset=".585" stop-color="#808080"/><stop offset=".680" stop-color="#737373"/><stop offset=".808" stop-color="#818181"/><stop offset=".932" stop-color="#808080"/><stop offset="1.000" stop-color="#7c7c7c"/></linearGradient><linearGradient id="h183"><stop offset=".000" stop-color="#868686"/><stop offset=".114" stop-color="#737373"/><stop offset=".261" stop-color="#858585"/><stop offset=".328" stop-color="#898989"/><stop offset=".413" stop-color="#9f9f9f"/><stop offset=".466" stop-color="#9c9c9c"/><stop offset=".566" stop-color="#828282"/><stop offset=".684" stop-color="#737373"/><stop offset=".913" stop-color="#828282"/><stop offset="1.000" stop-color="#7b7b7b"/></linearGradient><linearGradient id="h184"><stop offset=".000" stop-color="#848484"/><stop offset=".119" stop-color="#737373"/><stop offset=".276" stop-color="#848484"/><stop offset=".328" stop-color="#8b8b8b"/><stop offset=".409" stop-color="#a6a6a6"/><stop offset=".456" stop-color="#a4a4a4"/><stop offset=".561" stop-color="#848484"/><stop offset=".699" stop-color="#747474"/><stop offset=".822" stop-color="#767676"/><stop offset=".903" stop-color="#858585"/><stop offset="1.000" stop-color="#7b7b7b"/></linearGradient><linearGradient id="h185"><stop offset=".000" stop-color="#828282"/><stop offset=".133" stop-color="#757575"/><stop offset=".318" stop-color="#8a8a8a"/><stop offset=".404" stop-color="#acacac"/><stop offset=".447" stop-color="#adadad"/><stop offset=".499" stop-color="#9c9c9c"/><stop offset=".556" stop-color="#878787"/><stop offset=".789" stop-color="#6e6e6e"/><stop offset=".837" stop-color="#747474"/><stop offset=".898" stop-color="#868686"/><stop offset=".955" stop-color="#828282"/><stop offset="1.000" stop-color="#7c7c7c"/></linearGradient><linearGradient id="h186"><stop offset=".000" stop-color="#808080"/><stop offset=".162" stop-color="#757575"/><stop offset=".309" stop-color="#878787"/><stop offset=".361" stop-color="#a0a0a0"/><stop offset=".404" stop-color="#b3b3b3"/><stop offset=".442" stop-color="#b5b5b5"/><stop offset=".485" stop-color="#a7a7a7"/><stop offset=".547" stop-color="#8c8c8c"/><stop offset=".760" stop-color="#6c6c6c"/><stop offset=".813" stop-color="#6a6a6a"/><stop offset=".865" stop-color="#7d7d7d"/><stop offset=".903" stop-color="#888888"/><stop offset=".955" stop-color="#838383"/><stop offset="1.000" stop-color="#7c7c7c"/></linearGradient><linearGradient id="h187"><stop offset=".000" stop-color="#7d7d7d"/><stop offset=".128" stop-color="#767676"/><stop offset=".195" stop-color="#747474"/><stop offset=".309" stop-color="#878787"/><stop offset=".356" stop-color="#a0a0a0"/><stop offset=".399" stop-color="#b7b7b7"/><stop offset=".437" stop-color="#bbbbbb"/><stop offset=".475" stop-color="#b0b0b0"/><stop offset=".542" stop-color="#8f8f8f"/><stop offset=".694" stop-color="#7a7a7a"/><stop offset=".798" stop-color="#666666"/><stop offset=".832" stop-color="#6c6c6c"/><stop offset=".894" stop-color="#878787"/><stop offset=".936" stop-color="#888888"/><stop offset="1.000" stop-color="#7d7d7d"/></linearGradient><linearGradient id="h188"><stop offset=".000" stop-color="#7c7c7c"/><stop offset=".105" stop-color="#797979"/><stop offset=".181" stop-color="#6e6e6e"/><stop offset=".304" stop-color="#858585"/><stop offset=".347" stop-color="#9b9b9b"/><stop offset=".399" stop-color="#bababa"/><stop offset=".437" stop-color="#bfbfbf"/><stop offset=".475" stop-color="#b3b3b3"/><stop offset=".537" stop-color="#929292"/><stop offset=".589" stop-color="#8d8d8d"/><stop offset=".656" stop-color="#848484"/><stop offset=".798" stop-color="#676767"/><stop offset=".832" stop-color="#6c6c6c"/><stop offset=".898" stop-color="#878787"/><stop offset=".946" stop-color="#858585"/><stop offset="1.000" stop-color="#7d7d7d"/></linearGradient><linearGradient id="h189"><stop offset=".000" stop-color="#7a7a7a"/><stop offset=".095" stop-color="#7b7b7b"/><stop offset=".181" stop-color="#6a6a6a"/><stop offset=".242" stop-color="#757575"/><stop offset=".314" stop-color="#888888"/><stop offset=".399" stop-color="#bcbcbc"/><stop offset=".433" stop-color="#c2c2c2"/><stop offset=".466" stop-color="#bababa"/><stop offset=".537" stop-color="#949494"/><stop offset=".585" stop-color="#919191"/><stop offset=".632" stop-color="#8d8d8d"/><stop offset=".722" stop-color="#797979"/><stop offset=".808" stop-color="#6b6b6b"/><stop offset=".846" stop-color="#737373"/><stop offset=".903" stop-color="#858585"/><stop offset=".960" stop-color="#818181"/><stop offset="1.000" stop-color="#7d7d7d"/></linearGradient><linearGradient id="h190"><stop offset=".000" stop-color="#797979"/><stop offset=".090" stop-color="#7c7c7c"/><stop offset=".181" stop-color="#666666"/><stop offset=".228" stop-color="#6e6e6e"/><stop offset=".314" stop-color="#888888"/><stop offset=".399" stop-color="#bdbdbd"/><stop offset=".433" stop-color="#c3c3c3"/><stop offset=".466" stop-color="#bcbcbc"/><stop offset=".532" stop-color="#969696"/><stop offset=".570" stop-color="#939393"/><stop offset=".618" stop-color="#949494"/><stop offset=".699" stop-color="#7e7e7e"/><stop offset=".789" stop-color="#727272"/><stop offset=".832" stop-color="#717171"/><stop offset=".908" stop-color="#838383"/><stop offset="1.000" stop-color="#7c7c7c"/></linearGradient><linearGradient id="h191"><stop offset=".000" stop-color="#777777"/><stop offset=".090" stop-color="#7c7c7c"/><stop offset=".147" stop-color="#6b6b6b"/><stop offset=".185" stop-color="#636363"/><stop offset=".238" stop-color="#6f6f6f"/><stop offset=".318" stop-color="#8a8a8a"/><stop offset=".399" stop-color="#bcbcbc"/><stop offset=".433" stop-color="#c4c4c4"/><stop offset=".466" stop-color="#bdbdbd"/><stop offset=".532" stop-color="#979797"/><stop offset=".566" stop-color="#959595"/><stop offset=".613" stop-color="#989898"/><stop offset=".689" stop-color="#808080"/><stop offset=".775" stop-color="#7a7a7a"/><stop offset=".832" stop-color="#747474"/><stop offset=".917" stop-color="#808080"/><stop offset="1.000" stop-color="#7c7c7c"/></linearGradient><linearGradient id="h192"><stop offset=".000" stop-color="#757575"/><stop offset=".095" stop-color="#7a7a7a"/><stop offset=".181" stop-color="#646464"/><stop offset=".228" stop-color="#6c6c6c"/><stop offset=".318" stop-color="#8b8b8b"/><stop offset=".399" stop-color="#bcbcbc"/><stop offset=".437" stop-color="#c4c4c4"/><stop offset=".471" stop-color="#bbbbbb"/><stop offset=".528" stop-color="#999999"/><stop offset=".556" stop-color="#959595"/><stop offset=".608" stop-color="#9b9b9b"/><stop offset=".689" stop-color="#808080"/><stop offset=".770" stop-color="#808080"/><stop offset=".837" stop-color="#787878"/><stop offset=".946" stop-color="#7e7e7e"/><stop offset="1.000" stop-color="#7c7c7c"/></linearGradient><linearGradient id="h193"><stop offset=".000" stop-color="#727272"/><stop offset=".100" stop-color="#787878"/><stop offset=".185" stop-color="#686868"/><stop offset=".252" stop-color="#767676"/><stop offset=".318" stop-color="#8c8c8c"/><stop offset=".404" stop-color="#bdbdbd"/><stop offset=".437" stop-color="#c4c4c4"/><stop offset=".471" stop-color="#bbbbbb"/><stop offset=".532" stop-color="#979797"/><stop offset=".566" stop-color="#969696"/><stop offset=".608" stop-color="#9b9b9b"/><stop offset=".684" stop-color="#818181"/><stop offset=".770" stop-color="#848484"/><stop offset=".851" stop-color="#7b7b7b"/><stop offset="1.000" stop-color="#7c7c7c"/></linearGradient><linearGradient id="h194"><stop offset=".000" stop-color="#6f6f6f"/><stop offset=".109" stop-color="#757575"/><stop offset=".190" stop-color="#6e6e6e"/><stop offset=".285" stop-color="#818181"/><stop offset=".337" stop-color="#979797"/><stop offset=".404" stop-color="#bdbdbd"/><stop offset=".442" stop-color="#c4c4c4"/><stop offset=".475" stop-color="#b9b9b9"/><stop offset=".532" stop-color="#989898"/><stop offset=".566" stop-color="#969696"/><stop offset=".613" stop-color="#989898"/><stop offset=".684" stop-color="#818181"/><stop offset=".770" stop-color="#868686"/><stop offset=".865" stop-color="#7c7c7c"/><stop offset="1.000" stop-color="#7c7c7c"/></linearGradient><linearGradient id="h195"><stop offset=".000" stop-color="#6c6c6c"/><stop offset=".143" stop-color="#747474"/><stop offset=".228" stop-color="#797979"/><stop offset=".304" stop-color="#898989"/><stop offset=".361" stop-color="#a6a6a6"/><stop offset=".413" stop-color="#c0c0c0"/><stop offset=".447" stop-color="#c4c4c4"/><stop offset=".480" stop-color="#b7b7b7"/><stop offset=".532" stop-color="#989898"/><stop offset=".566" stop-color="#949494"/><stop offset=".613" stop-color="#969696"/><stop offset=".684" stop-color="#828282"/><stop offset=".775" stop-color="#878787"/><stop offset=".884" stop-color="#7d7d7d"/><stop offset="1.000" stop-color="#7d7d7d"/></linearGradient><linearGradient id="h196"><stop offset=".000" stop-color="#696969"/><stop offset=".280" stop-color="#848484"/><stop offset=".333" stop-color="#969696"/><stop offset=".409" stop-color="#bfbfbf"/><stop offset=".442" stop-color="#c5c5c5"/><stop offset=".471" stop-color="#bebebe"/><stop offset=".532" stop-color="#989898"/><stop offset=".566" stop-color="#929292"/><stop offset=".618" stop-color="#929292"/><stop offset=".684" stop-color="#828282"/><stop offset=".775" stop-color="#878787"/><stop offset=".908" stop-color="#7d7d7d"/><stop offset="1.000" stop-color="#7d7d7d"/></linearGradient><linearGradient id="h197"><stop offset=".000" stop-color="#676767"/><stop offset=".105" stop-color="#737373"/><stop offset=".223" stop-color="#808080"/><stop offset=".299" stop-color="#8a8a8a"/><stop offset=".347" stop-color="#9e9e9e"/><stop offset=".413" stop-color="#c2c2c2"/><stop offset=".447" stop-color="#c7c7c7"/><stop offset=".475" stop-color="#bebebe"/><stop offset=".537" stop-color="#959595"/><stop offset=".575" stop-color="#919191"/><stop offset=".627" stop-color="#8d8d8d"/><stop offset=".689" stop-color="#818181"/><stop offset=".779" stop-color="#868686"/><stop offset=".917" stop-color="#7d7d7d"/><stop offset="1.000" stop-color="#7d7d7d"/></linearGradient><linearGradient id="h198"><stop offset=".000" stop-color="#656565"/><stop offset=".095" stop-color="#717171"/><stop offset=".233" stop-color="#828282"/><stop offset=".304" stop-color="#8b8b8b"/><stop offset=".347" stop-color="#9e9e9e"/><stop offset=".413" stop-color="#c5c5c5"/><stop offset=".447" stop-color="#cbcbcb"/><stop offset=".475" stop-color="#c1c1c1"/><stop offset=".537" stop-color="#959595"/><stop offset=".575" stop-color="#8e8e8e"/><stop offset=".627" stop-color="#8c8c8c"/><stop offset=".689" stop-color="#818181"/><stop offset=".779" stop-color="#858585"/><stop offset=".917" stop-color="#7c7c7c"/><stop offset="1.000" stop-color="#7e7e7e"/></linearGradient><linearGradient id="h199"><stop offset=".000" stop-color="#636363"/><stop offset=".238" stop-color="#838383"/><stop offset=".309" stop-color="#8b8b8b"/><stop offset=".352" stop-color="#a0a0a0"/><stop offset=".413" stop-color="#c8c8c8"/><stop offset=".447" stop-color="#d0d0d0"/><stop offset=".471" stop-color="#c8c8c8"/><stop offset=".537" stop-color="#949494"/><stop offset=".570" stop-color="#8d8d8d"/><stop offset=".627" stop-color="#8b8b8b"/><stop offset=".694" stop-color="#818181"/><stop offset=".784" stop-color="#848484"/><stop offset=".913" stop-color="#7b7b7b"/><stop offset="1.000" stop-color="#7e7e7e"/></linearGradient><linearGradient id="h200"><stop offset=".000" stop-color="#636363"/><stop offset=".133" stop-color="#767676"/><stop offset=".209" stop-color="#7d7d7d"/><stop offset=".314" stop-color="#8b8b8b"/><stop offset=".352" stop-color="#9f9f9f"/><stop offset=".418" stop-color="#cecece"/><stop offset=".447" stop-color="#d5d5d5"/><stop offset=".471" stop-color="#cdcdcd"/><stop offset=".537" stop-color="#949494"/><stop offset=".566" stop-color="#8c8c8c"/><stop offset=".632" stop-color="#8a8a8a"/><stop offset=".699" stop-color="#818181"/><stop offset=".789" stop-color="#828282"/><stop offset=".908" stop-color="#7a7a7a"/><stop offset="1.000" stop-color="#7f7f7f"/></linearGradient><linearGradient id="h201"><stop offset=".000" stop-color="#646464"/><stop offset=".119" stop-color="#747474"/><stop offset=".190" stop-color="#757575"/><stop offset=".266" stop-color="#848484"/><stop offset=".318" stop-color="#8b8b8b"/><stop offset=".356" stop-color="#a3a3a3"/><stop offset=".418" stop-color="#d2d2d2"/><stop offset=".447" stop-color="#dbdbdb"/><stop offset=".471" stop-color="#d3d3d3"/><stop offset=".513" stop-color="#a9a9a9"/><stop offset=".542" stop-color="#919191"/><stop offset=".575" stop-color="#8b8b8b"/><stop offset=".632" stop-color="#8a8a8a"/><stop offset=".699" stop-color="#818181"/><stop offset=".794" stop-color="#808080"/><stop offset=".903" stop-color="#797979"/><stop offset="1.000" stop-color="#7f7f7f"/></linearGradient><linearGradient id="h202"><stop offset=".000" stop-color="#656565"/><stop offset=".109" stop-color="#737373"/><stop offset=".181" stop-color="#707070"/><stop offset=".261" stop-color="#838383"/><stop offset=".314" stop-color="#898989"/><stop offset=".347" stop-color="#9c9c9c"/><stop offset=".418" stop-color="#d7d7d7"/><stop offset=".447" stop-color="#e1e1e1"/><stop offset=".471" stop-color="#d9d9d9"/><stop offset=".504" stop-color="#b7b7b7"/><stop offset=".537" stop-color="#959595"/><stop offset=".566" stop-color="#8b8b8b"/><stop offset=".637" stop-color="#898989"/><stop offset=".703" stop-color="#818181"/><stop offset=".803" stop-color="#7f7f7f"/><stop offset=".908" stop-color="#787878"/><stop offset="1.000" stop-color="#7f7f7f"/></linearGradient><linearGradient id="h203"><stop offset=".000" stop-color="#686868"/><stop offset=".109" stop-color="#717171"/><stop offset=".176" stop-color="#6c6c6c"/><stop offset=".261" stop-color="#838383"/><stop offset=".314" stop-color="#898989"/><stop offset=".347" stop-color="#9c9c9c"/><stop offset=".418" stop-color="#dbdbdb"/><stop offset=".442" stop-color="#e6e6e6"/><stop offset=".466" stop-color="#e2e2e2"/><stop offset=".490" stop-color="#cccccc"/><stop offset=".532" stop-color="#9b9b9b"/><stop offset=".556" stop-color="#8e8e8e"/><stop offset=".651" stop-color="#878787"/><stop offset=".727" stop-color="#818181"/><stop offset=".865" stop-color="#797979"/><stop offset=".955" stop-color="#7c7c7c"/><stop offset="1.000" stop-color="#7f7f7f"/></linearGradient><linearGradient id="h204"><stop offset=".000" stop-color="#6c6c6c"/><stop offset=".114" stop-color="#6d6d6d"/><stop offset=".176" stop-color="#6a6a6a"/><stop offset=".261" stop-color="#838383"/><stop offset=".314" stop-color="#8a8a8a"/><stop offset=".347" stop-color="#9d9d9d"/><stop offset=".423" stop-color="#e2e2e2"/><stop offset=".447" stop-color="#ebebeb"/><stop offset=".466" stop-color="#e7e7e7"/><stop offset=".490" stop-color="#d2d2d2"/><stop offset=".532" stop-color="#9e9e9e"/><stop offset=".556" stop-color="#909090"/><stop offset=".599" stop-color="#8c8c8c"/><stop offset=".737" stop-color="#828282"/><stop offset=".917" stop-color="#7a7a7a"/><stop offset="1.000" stop-color="#7f7f7f"/></linearGradient><linearGradient id="h205"><stop offset=".000" stop-color="#707070"/><stop offset=".166" stop-color="#686868"/><stop offset=".219" stop-color="#777777"/><stop offset=".266" stop-color="#848484"/><stop offset=".318" stop-color="#8d8d8d"/><stop offset=".352" stop-color="#a2a2a2"/><stop offset=".423" stop-color="#e5e5e5"/><stop offset=".447" stop-color="#f0f0f0"/><stop offset=".466" stop-color="#ededed"/><stop offset=".490" stop-color="#d7d7d7"/><stop offset=".532" stop-color="#a2a2a2"/><stop offset=".556" stop-color="#929292"/><stop offset=".594" stop-color="#8c8c8c"/><stop offset=".765" stop-color="#818181"/><stop offset=".927" stop-color="#7b7b7b"/><stop offset="1.000" stop-color="#7e7e7e"/></linearGradient><linearGradient id="h206"><stop offset=".000" stop-color="#747474"/><stop offset=".147" stop-color="#656565"/><stop offset=".195" stop-color="#6e6e6e"/><stop offset=".257" stop-color="#838383"/><stop offset=".318" stop-color="#8e8e8e"/><stop offset=".352" stop-color="#a4a4a4"/><stop offset=".428" stop-color="#ebebeb"/><stop offset=".452" stop-color="#f4f4f4"/><stop offset=".471" stop-color="#eeeeee"/><stop offset=".499" stop-color="#d0d0d0"/><stop offset=".537" stop-color="#a1a1a1"/><stop offset=".566" stop-color="#909090"/><stop offset=".765" stop-color="#828282"/><stop offset=".946" stop-color="#7c7c7c"/><stop offset="1.000" stop-color="#7e7e7e"/></linearGradient><linearGradient id="h207"><stop offset=".000" stop-color="#787878"/><stop offset=".076" stop-color="#6a6a6a"/><stop offset=".133" stop-color="#626262"/><stop offset=".185" stop-color="#6b6b6b"/><stop offset=".257" stop-color="#838383"/><stop offset=".318" stop-color="#909090"/><stop offset=".356" stop-color="#a9a9a9"/><stop offset=".428" stop-color="#eeeeee"/><stop offset=".452" stop-color="#f8f8f8"/><stop offset=".471" stop-color="#f2f2f2"/><stop offset=".494" stop-color="#dadada"/><stop offset=".537" stop-color="#a4a4a4"/><stop offset=".566" stop-color="#929292"/><stop offset=".623" stop-color="#8b8b8b"/><stop offset=".779" stop-color="#828282"/><stop offset=".970" stop-color="#7d7d7d"/><stop offset="1.000" stop-color="#7e7e7e"/></linearGradient><linearGradient id="h208"><stop offset=".000" stop-color="#7b7b7b"/><stop offset=".057" stop-color="#6e6e6e"/><stop offset=".114" stop-color="#606060"/><stop offset=".162" stop-color="#646464"/><stop offset=".261" stop-color="#858585"/><stop offset=".318" stop-color="#919191"/><stop offset=".356" stop-color="#ababab"/><stop offset=".428" stop-color="#f0f0f0"/><stop offset=".452" stop-color="#fafafa"/><stop offset=".471" stop-color="#f5f5f5"/><stop offset=".494" stop-color="#dddddd"/><stop offset=".537" stop-color="#a6a6a6"/><stop offset=".566" stop-color="#949494"/><stop offset=".613" stop-color="#8c8c8c"/><stop offset=".779" stop-color="#838383"/><stop offset=".879" stop-color="#7f7f7f"/><stop offset="1.000" stop-color="#7d7d7d"/></linearGradient><linearGradient id="h209"><stop offset=".000" stop-color="#7d7d7d"/><stop offset=".052" stop-color="#707070"/><stop offset=".109" stop-color="#5f5f5f"/><stop offset=".157" stop-color="#636363"/><stop offset=".261" stop-color="#858585"/><stop offset=".318" stop-color="#929292"/><stop offset=".356" stop-color="#ababab"/><stop offset=".428" stop-color="#f0f0f0"/><stop offset=".452" stop-color="#fbfbfb"/><stop offset=".471" stop-color="#f6f6f6"/><stop offset=".494" stop-color="#dedede"/><stop offset=".537" stop-color="#a8a8a8"/><stop offset=".566" stop-color="#949494"/><stop offset=".613" stop-color="#8c8c8c"/><stop offset=".779" stop-color="#838383"/><stop offset=".870" stop-color="#818181"/><stop offset="1.000" stop-color="#7d7d7d"/></linearGradient><linearGradient id="cb615" x1="0" y1="1" x2="0" y2="0"><stop offset="0" stop-color="#000"/><stop offset="1" stop-color="#fff"/></linearGradient></defs>
<rect width="685" height="913" fill="#fff"/>
<text x="-0.6" y="9.9" font-size="14" textLength="194.8" lengthAdjust="spacingAndGlyphs" fill="#1a1a1a">a) Bar orientation / Visual probe</text>
<rect x="47.2" y="64.4" width="212.2" height="159.9" fill="#fff" stroke="#b4b4b4" stroke-width="1.2"/>
<line x1="47.2" y1="224.3" x2="47.2" y2="222.1" stroke="#b4b4b4" stroke-width="1"/>
<line x1="47.2" y1="64.4" x2="47.2" y2="66.6" stroke="#b4b4b4" stroke-width="1"/>
<line x1="82.57" y1="224.3" x2="82.57" y2="222.1" stroke="#b4b4b4" stroke-width="1"/>
<line x1="82.57" y1="64.4" x2="82.57" y2="66.6" stroke="#b4b4b4" stroke-width="1"/>
<line x1="117.93" y1="224.3" x2="117.93" y2="222.1" stroke="#b4b4b4" stroke-width="1"/>
<line x1="117.93" y1="64.4" x2="117.93" y2="66.6" stroke="#b4b4b4" stroke-width="1"/>
<line x1="153.3" y1="224.3" x2="153.3" y2="222.1" stroke="#b4b4b4" stroke-width="1"/>
<line x1="153.3" y1="64.4" x2="153.3" y2="66.6" stroke="#b4b4b4" stroke-width="1"/>
<line x1="188.67" y1="224.3" x2="188.67" y2="222.1" stroke="#b4b4b4" stroke-width="1"/>
<line x1="188.67" y1="64.4" x2="188.67" y2="66.6" stroke="#b4b4b4" stroke-width="1"/>
<line x1="224.03" y1="224.3" x2="224.03" y2="222.1" stroke="#b4b4b4" stroke-width="1"/>
<line x1="224.03" y1="64.4" x2="224.03" y2="66.6" stroke="#b4b4b4" stroke-width="1"/>
<line x1="259.4" y1="224.3" x2="259.4" y2="222.1" stroke="#b4b4b4" stroke-width="1"/>
<line x1="259.4" y1="64.4" x2="259.4" y2="66.6" stroke="#b4b4b4" stroke-width="1"/>
<line x1="47.2" y1="224.3" x2="49.4" y2="224.3" stroke="#b4b4b4" stroke-width="1"/>
<line x1="259.4" y1="224.3" x2="257.2" y2="224.3" stroke="#b4b4b4" stroke-width="1"/>
<line x1="47.2" y1="192.32" x2="49.4" y2="192.32" stroke="#b4b4b4" stroke-width="1"/>
<line x1="259.4" y1="192.32" x2="257.2" y2="192.32" stroke="#b4b4b4" stroke-width="1"/>
<line x1="47.2" y1="160.34" x2="49.4" y2="160.34" stroke="#b4b4b4" stroke-width="1"/>
<line x1="259.4" y1="160.34" x2="257.2" y2="160.34" stroke="#b4b4b4" stroke-width="1"/>
<line x1="47.2" y1="128.36" x2="49.4" y2="128.36" stroke="#b4b4b4" stroke-width="1"/>
<line x1="259.4" y1="128.36" x2="257.2" y2="128.36" stroke="#b4b4b4" stroke-width="1"/>
<line x1="47.2" y1="96.38" x2="49.4" y2="96.38" stroke="#b4b4b4" stroke-width="1"/>
<line x1="259.4" y1="96.38" x2="257.2" y2="96.38" stroke="#b4b4b4" stroke-width="1"/>
<line x1="47.2" y1="64.4" x2="49.4" y2="64.4" stroke="#b4b4b4" stroke-width="1"/>
<line x1="259.4" y1="64.4" x2="257.2" y2="64.4" stroke="#b4b4b4" stroke-width="1"/>
<text x="43.3" y="228.9" font-size="10.8" text-anchor="end" fill="#1a1a1a">0</text>
<text x="43.3" y="196.92" font-size="10.8" text-anchor="end" fill="#1a1a1a">0.1</text>
<text x="43.3" y="164.94" font-size="10.8" text-anchor="end" fill="#1a1a1a">0.2</text>
<text x="43.3" y="132.96" font-size="10.8" text-anchor="end" fill="#1a1a1a">0.3</text>
<text x="43.3" y="100.98" font-size="10.8" text-anchor="end" fill="#1a1a1a">0.4</text>
<text x="43.3" y="69" font-size="10.8" text-anchor="end" fill="#1a1a1a">0.5</text>
<text x="47.2" y="238.3" font-size="10.8" text-anchor="middle" textLength="23.2" lengthAdjust="spacingAndGlyphs" fill="#1a1a1a">−300</text>
<text x="82.57" y="238.3" font-size="10.8" text-anchor="middle" textLength="23.2" lengthAdjust="spacingAndGlyphs" fill="#1a1a1a">−200</text>
<text x="117.93" y="238.3" font-size="10.8" text-anchor="middle" textLength="23.2" lengthAdjust="spacingAndGlyphs" fill="#1a1a1a">−100</text>
<text x="153.3" y="238.3" font-size="10.8" text-anchor="middle" fill="#1a1a1a">0</text>
<text x="188.67" y="238.3" font-size="10.8" text-anchor="middle" fill="#1a1a1a">100</text>
<text x="224.03" y="238.3" font-size="10.8" text-anchor="middle" fill="#1a1a1a">200</text>
<text x="259.4" y="238.3" font-size="10.8" text-anchor="middle" fill="#1a1a1a">300</text>
<text x="89.6" y="256.7" font-size="13.5" textLength="124.6" lengthAdjust="spacingAndGlyphs" fill="#1a1a1a">Time from flash (ms)</text>
<text transform="translate(20.6,196.8) rotate(-90)" x="0" y="0" font-size="14" textLength="105.5" lengthAdjust="spacingAndGlyphs" fill="#1a1a1a">Estimated weight</text>
<line x1="153.3" y1="65" x2="153.3" y2="223.7" stroke="#ff2020" stroke-width="1.8" stroke-dasharray="4.9 5.2" stroke-dashoffset="-4.6"/>
<path d="M47,220.37 L48.78,219.83 L50.57,219.28 L52.35,218.7 L54.13,218.1 L55.91,217.48 L57.7,216.83 L59.48,216.16 L61.26,215.47 L63.04,214.74 L64.83,213.99 L66.61,213.21 L68.39,212.39 L70.17,211.55 L71.96,210.67 L73.74,209.76 L75.52,208.81 L77.3,207.83 L79.09,206.81 L80.87,205.75 L82.65,204.65 L84.43,203.51 L86.22,202.33 L88,201.11 L89.78,199.84 L91.56,198.52 L93.35,197.17 L95.13,195.76 L96.91,194.3 L98.69,192.8 L100.48,191.24 L102.26,189.63 L104.04,187.96 L105.82,186.22 L107.61,184.41 L109.39,182.51 L111.17,180.52 L112.95,178.42 L114.74,176.22 L116.52,173.91 L118.3,171.47 L120.08,168.9 L121.87,166.19 L123.65,163.33 L125.43,160.32 L127.21,157.14 L129,153.81 L130.78,150.33 L132.56,146.74 L134.34,143.05 L136.13,139.3 L137.91,135.5 L139.69,131.69 L141.47,127.88 L143.26,124.1 L145.04,120.37 L146.82,116.72 L148.6,113.17 L150.39,109.75 L152.17,106.47 L153.95,103.37 L155.73,100.47 L157.52,97.79 L159.3,95.36 L161.08,93.2 L162.86,91.33 L164.65,89.78 L166.43,88.57 L168.21,87.74 L169.99,87.29 L171.78,87.25 L173.56,87.6 L175.34,88.33 L177.12,89.42 L178.91,90.84 L180.69,92.59 L182.47,94.64 L184.25,96.97 L186.04,99.57 L187.82,102.42 L189.6,105.49 L191.38,108.78 L193.17,112.26 L194.95,115.91 L196.73,119.72 L198.51,123.66 L200.3,127.69 L202.08,131.8 L203.86,135.93 L205.64,140.07 L207.43,144.17 L209.21,148.21 L210.99,152.15 L212.77,155.96 L214.56,159.61 L216.34,163.12 L218.12,166.48 L219.9,169.7 L221.69,172.77 L223.47,175.71 L225.25,178.5 L227.03,181.17 L228.82,183.7 L230.6,186.1 L232.38,188.37 L234.16,190.52 L235.95,192.54 L237.73,194.45 L239.51,196.23 L241.29,197.9 L243.08,199.46 L244.86,200.91 L246.64,202.25 L248.42,203.48 L250.21,204.61 L251.99,205.64 L253.77,206.57 L255.55,207.41 L257.34,208.15 L259.12,208.8" fill="none" stroke="#1a1aff" stroke-width="1.35" stroke-linejoin="round"/>
<path d="M45.4,218.34l3.6,3.6M45.4,221.94l3.6,-3.6M48.94,217.98l3.6,3.6M48.94,221.58l3.6,-3.6M52.47,216.92l3.6,3.6M52.47,220.52l3.6,-3.6M56.01,216.56l3.6,3.6M56.01,220.16l3.6,-3.6M59.55,215.15l3.6,3.6M59.55,218.75l3.6,-3.6M63.08,209.47l3.6,3.6M63.08,213.07l3.6,-3.6M66.62,206.81l3.6,3.6M66.62,210.41l3.6,-3.6M70.16,204.68l3.6,3.6M70.16,208.28l3.6,-3.6M73.69,204.14l3.6,3.6M73.69,207.74l3.6,-3.6M77.23,200.24l3.6,3.6M77.23,203.84l3.6,-3.6M80.77,199.18l3.6,3.6M80.77,202.78l3.6,-3.6M84.3,196.16l3.6,3.6M84.3,199.76l3.6,-3.6M87.84,195.27l3.6,3.6M87.84,198.87l3.6,-3.6M91.38,191.72l3.6,3.6M91.38,195.32l3.6,-3.6M94.91,192.61l3.6,3.6M94.91,196.21l3.6,-3.6M98.45,189.95l3.6,3.6M98.45,193.55l3.6,-3.6M101.99,186.4l3.6,3.6M101.99,190l3.6,-3.6M105.52,183.74l3.6,3.6M105.52,187.34l3.6,-3.6M109.06,179.3l3.6,3.6M109.06,182.9l3.6,-3.6M112.6,176.64l3.6,3.6M112.6,180.24l3.6,-3.6M116.13,170.79l3.6,3.6M116.13,174.39l3.6,-3.6M119.67,161.21l3.6,3.6M119.67,164.81l3.6,-3.6M123.21,154.46l3.6,3.6M123.21,158.06l3.6,-3.6M126.74,149.14l3.6,3.6M126.74,152.74l3.6,-3.6M130.28,138.5l3.6,3.6M130.28,142.1l3.6,-3.6M133.82,132.29l3.6,3.6M133.82,135.89l3.6,-3.6M137.35,126.08l3.6,3.6M137.35,129.68l3.6,-3.6M140.89,120.75l3.6,3.6M140.89,124.35l3.6,-3.6M144.43,113.3l3.6,3.6M144.43,116.9l3.6,-3.6M147.96,107.98l3.6,3.6M147.96,111.58l3.6,-3.6M151.5,100.88l3.6,3.6M151.5,104.48l3.6,-3.6M155.04,100.88l3.6,3.6M155.04,104.48l3.6,-3.6M158.57,96.8l3.6,3.6M158.57,100.4l3.6,-3.6M162.11,93.78l3.6,3.6M162.11,97.38l3.6,-3.6M165.65,91.48l3.6,3.6M165.65,95.08l3.6,-3.6M169.18,87.4l3.6,3.6M169.18,91l3.6,-3.6M172.72,88.81l3.6,3.6M172.72,92.41l3.6,-3.6M176.26,88.46l3.6,3.6M176.26,92.06l3.6,-3.6M179.79,92.36l3.6,3.6M179.79,95.96l3.6,-3.6M183.33,93.78l3.6,3.6M183.33,97.38l3.6,-3.6M186.87,98.57l3.6,3.6M186.87,102.17l3.6,-3.6M190.4,105.14l3.6,3.6M190.4,108.74l3.6,-3.6M193.94,111.53l3.6,3.6M193.94,115.13l3.6,-3.6M197.48,118.98l3.6,3.6M197.48,122.58l3.6,-3.6M201.01,129.62l3.6,3.6M201.01,133.22l3.6,-3.6M204.55,140.27l3.6,3.6M204.55,143.87l3.6,-3.6M208.09,149.14l3.6,3.6M208.09,152.74l3.6,-3.6M211.62,159.43l3.6,3.6M211.62,163.03l3.6,-3.6M215.16,167.42l3.6,3.6M215.16,171.02l3.6,-3.6M218.7,176.64l3.6,3.6M218.7,180.24l3.6,-3.6M222.23,182.85l3.6,3.6M222.23,186.45l3.6,-3.6M225.77,187.64l3.6,3.6M225.77,191.24l3.6,-3.6M229.31,193.5l3.6,3.6M229.31,197.1l3.6,-3.6M232.84,197.4l3.6,3.6M232.84,201l3.6,-3.6M236.38,200.24l3.6,3.6M236.38,203.84l3.6,-3.6M239.92,203.26l3.6,3.6M239.92,206.86l3.6,-3.6M243.45,201.48l3.6,3.6M243.45,205.08l3.6,-3.6M246.99,203.26l3.6,3.6M246.99,206.86l3.6,-3.6M250.53,201.48l3.6,3.6M250.53,205.08l3.6,-3.6M254.06,202.73l3.6,3.6M254.06,206.33l3.6,-3.6M257.6,203.26l3.6,3.6M257.6,206.86l3.6,-3.6" stroke="#ff1a1a" stroke-width="1.25" fill="none"/>
<rect x="53.4" y="71" width="55.1" height="28.2" fill="#fff" stroke="#b4b4b4" stroke-width="1"/>
<path d="M60.95,77.35l2.9,2.9M60.95,80.25l2.9,-2.9" stroke="#ff1a1a" stroke-width="1.25"/>
<text x="71.3" y="83.2" font-size="13" textLength="24.8" lengthAdjust="spacingAndGlyphs" fill="#1a1a1a">Data</text>
<line x1="55.9" y1="92.2" x2="69.9" y2="92.2" stroke="#1a1aff" stroke-width="1.35"/>
<text x="71.5" y="96.9" font-size="13" textLength="34.6" lengthAdjust="spacingAndGlyphs" fill="#1a1a1a">Fitting</text>
<text x="-0.6" y="317.4" font-size="14" textLength="204" lengthAdjust="spacingAndGlyphs" fill="#1a1a1a">b) Face orientation / Visual probe</text>
<rect x="47.2" y="366.1" width="212.2" height="160.2" fill="#fff" stroke="#b4b4b4" stroke-width="1.2"/>
<line x1="47.2" y1="526.3" x2="47.2" y2="524.1" stroke="#b4b4b4" stroke-width="1"/>
<line x1="47.2" y1="366.1" x2="47.2" y2="368.3" stroke="#b4b4b4" stroke-width="1"/>
<line x1="82.57" y1="526.3" x2="82.57" y2="524.1" stroke="#b4b4b4" stroke-width="1"/>
<line x1="82.57" y1="366.1" x2="82.57" y2="368.3" stroke="#b4b4b4" stroke-width="1"/>
<line x1="117.93" y1="526.3" x2="117.93" y2="524.1" stroke="#b4b4b4" stroke-width="1"/>
<line x1="117.93" y1="366.1" x2="117.93" y2="368.3" stroke="#b4b4b4" stroke-width="1"/>
<line x1="153.3" y1="526.3" x2="153.3" y2="524.1" stroke="#b4b4b4" stroke-width="1"/>
<line x1="153.3" y1="366.1" x2="153.3" y2="368.3" stroke="#b4b4b4" stroke-width="1"/>
<line x1="188.67" y1="526.3" x2="188.67" y2="524.1" stroke="#b4b4b4" stroke-width="1"/>
<line x1="188.67" y1="366.1" x2="188.67" y2="368.3" stroke="#b4b4b4" stroke-width="1"/>
<line x1="224.03" y1="526.3" x2="224.03" y2="524.1" stroke="#b4b4b4" stroke-width="1"/>
<line x1="224.03" y1="366.1" x2="224.03" y2="368.3" stroke="#b4b4b4" stroke-width="1"/>
<line x1="259.4" y1="526.3" x2="259.4" y2="524.1" stroke="#b4b4b4" stroke-width="1"/>
<line x1="259.4" y1="366.1" x2="259.4" y2="368.3" stroke="#b4b4b4" stroke-width="1"/>
<line x1="47.2" y1="526.3" x2="49.4" y2="526.3" stroke="#b4b4b4" stroke-width="1"/>
<line x1="259.4" y1="526.3" x2="257.2" y2="526.3" stroke="#b4b4b4" stroke-width="1"/>
<line x1="47.2" y1="494.26" x2="49.4" y2="494.26" stroke="#b4b4b4" stroke-width="1"/>
<line x1="259.4" y1="494.26" x2="257.2" y2="494.26" stroke="#b4b4b4" stroke-width="1"/>
<line x1="47.2" y1="462.22" x2="49.4" y2="462.22" stroke="#b4b4b4" stroke-width="1"/>
<line x1="259.4" y1="462.22" x2="257.2" y2="462.22" stroke="#b4b4b4" stroke-width="1"/>
<line x1="47.2" y1="430.18" x2="49.4" y2="430.18" stroke="#b4b4b4" stroke-width="1"/>
<line x1="259.4" y1="430.18" x2="257.2" y2="430.18" stroke="#b4b4b4" stroke-width="1"/>
<line x1="47.2" y1="398.14" x2="49.4" y2="398.14" stroke="#b4b4b4" stroke-width="1"/>
<line x1="259.4" y1="398.14" x2="257.2" y2="398.14" stroke="#b4b4b4" stroke-width="1"/>
<line x1="47.2" y1="366.1" x2="49.4" y2="366.1" stroke="#b4b4b4" stroke-width="1"/>
<line x1="259.4" y1="366.1" x2="257.2" y2="366.1" stroke="#b4b4b4" stroke-width="1"/>
<text x="43.3" y="530.9" font-size="10.8" text-anchor="end" fill="#1a1a1a">0</text>
<text x="43.3" y="498.86" font-size="10.8" text-anchor="end" fill="#1a1a1a">0.1</text>
<text x="43.3" y="466.82" font-size="10.8" text-anchor="end" fill="#1a1a1a">0.2</text>
<text x="43.3" y="434.78" font-size="10.8" text-anchor="end" fill="#1a1a1a">0.3</text>
<text x="43.3" y="402.74" font-size="10.8" text-anchor="end" fill="#1a1a1a">0.4</text>
<text x="43.3" y="370.7" font-size="10.8" text-anchor="end" fill="#1a1a1a">0.5</text>
<text x="47.2" y="540.2" font-size="10.8" text-anchor="middle" textLength="23.2" lengthAdjust="spacingAndGlyphs" fill="#1a1a1a">−300</text>
<text x="82.57" y="540.2" font-size="10.8" text-anchor="middle" textLength="23.2" lengthAdjust="spacingAndGlyphs" fill="#1a1a1a">−200</text>
<text x="117.93" y="540.2" font-size="10.8" text-anchor="middle" textLength="23.2" lengthAdjust="spacingAndGlyphs" fill="#1a1a1a">−100</text>
<text x="153.3" y="540.2" font-size="10.8" text-anchor="middle" fill="#1a1a1a">0</text>
<text x="188.67" y="540.2" font-size="10.8" text-anchor="middle" fill="#1a1a1a">100</text>
<text x="224.03" y="540.2" font-size="10.8" text-anchor="middle" fill="#1a1a1a">200</text>
<text x="259.4" y="540.2" font-size="10.8" text-anchor="middle" fill="#1a1a1a">300</text>
<text x="89.6" y="557.9" font-size="13.5" textLength="124.6" lengthAdjust="spacingAndGlyphs" fill="#1a1a1a">Time from flash (ms)</text>
<text transform="translate(20.6,498.6) rotate(-90)" x="0" y="0" font-size="14" textLength="105.5" lengthAdjust="spacingAndGlyphs" fill="#1a1a1a">Estimated weight</text>
<line x1="153.3" y1="366.7" x2="153.3" y2="525.7" stroke="#ff2020" stroke-width="1.8" stroke-dasharray="4.9 5.2" stroke-dashoffset="-4.6"/>
<path d="M47,521.25 L48.78,520.91 L50.56,520.5 L52.33,520.04 L54.11,519.51 L55.89,518.92 L57.67,518.25 L59.45,517.51 L61.22,516.68 L63,515.77 L64.78,514.77 L66.56,513.67 L68.34,512.48 L70.11,511.19 L71.89,509.79 L73.67,508.29 L75.45,506.67 L77.23,504.93 L79,503.07 L80.78,501.08 L82.56,498.97 L84.34,496.72 L86.12,494.33 L87.9,491.8 L89.67,489.12 L91.45,486.29 L93.23,483.31 L95.01,480.17 L96.79,476.87 L98.56,473.4 L100.34,469.76 L102.12,465.95 L103.9,461.99 L105.68,457.92 L107.45,453.75 L109.23,449.51 L111.01,445.24 L112.79,440.95 L114.57,436.67 L116.34,432.43 L118.12,428.25 L119.9,424.17 L121.68,420.21 L123.46,416.39 L125.23,412.74 L127.01,409.29 L128.79,406.06 L130.57,403.06 L132.35,400.31 L134.12,397.82 L135.9,395.59 L137.68,393.63 L139.46,391.97 L141.24,390.61 L143.01,389.56 L144.79,388.83 L146.57,388.43 L148.35,388.37 L150.13,388.65 L151.9,389.22 L153.68,390.07 L155.46,391.16 L157.24,392.47 L159.02,393.97 L160.8,395.62 L162.57,397.43 L164.35,399.38 L166.13,401.47 L167.91,403.67 L169.69,405.99 L171.46,408.42 L173.24,410.94 L175.02,413.56 L176.8,416.24 L178.58,419 L180.35,421.82 L182.13,424.69 L183.91,427.6 L185.69,430.55 L187.47,433.52 L189.24,436.5 L191.02,439.49 L192.8,442.47 L194.58,445.45 L196.36,448.4 L198.13,451.32 L199.91,454.2 L201.69,457.03 L203.47,459.81 L205.25,462.52 L207.02,465.15 L208.8,467.7 L210.58,470.15 L212.36,472.5 L214.14,474.74 L215.91,476.88 L217.69,478.91 L219.47,480.85 L221.25,482.69 L223.03,484.45 L224.8,486.13 L226.58,487.72 L228.36,489.25 L230.14,490.7 L231.92,492.09 L233.69,493.42 L235.47,494.7 L237.25,495.92 L239.03,497.1 L240.81,498.23 L242.59,499.33 L244.36,500.39 L246.14,501.43 L247.92,502.44 L249.7,503.44 L251.48,504.42 L253.25,505.39 L255.03,506.36 L256.81,507.32 L258.59,508.29" fill="none" stroke="#1a1aff" stroke-width="1.35" stroke-linejoin="round"/>
<path d="M45.4,518.21l3.6,3.6M45.4,521.81l3.6,-3.6M48.94,517.15l3.6,3.6M48.94,520.75l3.6,-3.6M52.47,516.44l3.6,3.6M52.47,520.04l3.6,-3.6M56.01,516.44l3.6,3.6M56.01,520.04l3.6,-3.6M59.55,515.02l3.6,3.6M59.55,518.62l3.6,-3.6M63.08,512.35l3.6,3.6M63.08,515.95l3.6,-3.6M66.62,507.56l3.6,3.6M66.62,511.16l3.6,-3.6M70.16,503.48l3.6,3.6M70.16,507.08l3.6,-3.6M73.69,501.18l3.6,3.6M73.69,504.78l3.6,-3.6M77.23,497.63l3.6,3.6M77.23,501.23l3.6,-3.6M80.77,496.39l3.6,3.6M80.77,499.99l3.6,-3.6M84.3,491.95l3.6,3.6M84.3,495.55l3.6,-3.6M87.84,485.74l3.6,3.6M87.84,489.34l3.6,-3.6M91.38,477.76l3.6,3.6M91.38,481.36l3.6,-3.6M94.91,471.55l3.6,3.6M94.91,475.15l3.6,-3.6M98.45,466.76l3.6,3.6M98.45,470.36l3.6,-3.6M101.99,460.01l3.6,3.6M101.99,463.61l3.6,-3.6M105.52,453.27l3.6,3.6M105.52,456.87l3.6,-3.6M109.06,443.16l3.6,3.6M109.06,446.76l3.6,-3.6M112.6,434.29l3.6,3.6M112.6,437.89l3.6,-3.6M116.13,422.4l3.6,3.6M116.13,426l3.6,-3.6M119.67,415.3l3.6,3.6M119.67,418.9l3.6,-3.6M123.21,408.56l3.6,3.6M123.21,412.16l3.6,-3.6M126.74,402.88l3.6,3.6M126.74,406.48l3.6,-3.6M130.28,395.25l3.6,3.6M130.28,398.85l3.6,-3.6M133.82,391.17l3.6,3.6M133.82,394.77l3.6,-3.6M137.35,387.8l3.6,3.6M137.35,391.4l3.6,-3.6M140.89,386.38l3.6,3.6M140.89,389.98l3.6,-3.6M144.43,386.91l3.6,3.6M144.43,390.51l3.6,-3.6M147.96,387.27l3.6,3.6M147.96,390.87l3.6,-3.6M151.5,390.81l3.6,3.6M151.5,394.41l3.6,-3.6M155.04,392.94l3.6,3.6M155.04,396.54l3.6,-3.6M158.57,395.25l3.6,3.6M158.57,398.85l3.6,-3.6M162.11,399.33l3.6,3.6M162.11,402.93l3.6,-3.6M165.65,404.65l3.6,3.6M165.65,408.25l3.6,-3.6M169.18,407.14l3.6,3.6M169.18,410.74l3.6,-3.6M172.72,410.33l3.6,3.6M172.72,413.93l3.6,-3.6M176.26,415.65l3.6,3.6M176.26,419.25l3.6,-3.6M179.79,419.56l3.6,3.6M179.79,423.16l3.6,-3.6M183.33,427.72l3.6,3.6M183.33,431.32l3.6,-3.6M186.87,431.98l3.6,3.6M186.87,435.58l3.6,-3.6M190.4,438.72l3.6,3.6M190.4,442.32l3.6,-3.6M193.94,445.82l3.6,3.6M193.94,449.42l3.6,-3.6M197.48,450.61l3.6,3.6M197.48,454.21l3.6,-3.6M201.01,456.46l3.6,3.6M201.01,460.06l3.6,-3.6M204.55,460.9l3.6,3.6M204.55,464.5l3.6,-3.6M208.09,467.11l3.6,3.6M208.09,470.71l3.6,-3.6M211.62,470.66l3.6,3.6M211.62,474.26l3.6,-3.6M215.16,474.56l3.6,3.6M215.16,478.16l3.6,-3.6M218.7,477.4l3.6,3.6M218.7,481l3.6,-3.6M222.23,481.66l3.6,3.6M222.23,485.26l3.6,-3.6M225.77,485.74l3.6,3.6M225.77,489.34l3.6,-3.6M229.31,488.4l3.6,3.6M229.31,492l3.6,-3.6M232.84,492.31l3.6,3.6M232.84,495.91l3.6,-3.6M236.38,493.72l3.6,3.6M236.38,497.32l3.6,-3.6M239.92,498.16l3.6,3.6M239.92,501.76l3.6,-3.6M243.45,503.48l3.6,3.6M243.45,507.08l3.6,-3.6M246.99,504.37l3.6,3.6M246.99,507.97l3.6,-3.6M250.53,507.56l3.6,3.6M250.53,511.16l3.6,-3.6M254.06,509.34l3.6,3.6M254.06,512.94l3.6,-3.6M257.6,510.58l3.6,3.6M257.6,514.18l3.6,-3.6" stroke="#ff1a1a" stroke-width="1.25" fill="none"/>
<rect x="198.3" y="372.2" width="54.3" height="28.9" fill="#fff" stroke="#b4b4b4" stroke-width="1"/>
<path d="M205.85,378.55l2.9,2.9M205.85,381.45l2.9,-2.9" stroke="#ff1a1a" stroke-width="1.25"/>
<text x="216.2" y="384.4" font-size="13" textLength="24.8" lengthAdjust="spacingAndGlyphs" fill="#1a1a1a">Data</text>
<line x1="200.8" y1="393.4" x2="214.8" y2="393.4" stroke="#1a1aff" stroke-width="1.35"/>
<text x="216.4" y="398.1" font-size="13" textLength="34.6" lengthAdjust="spacingAndGlyphs" fill="#1a1a1a">Fitting</text>
<text x="-0.6" y="624.2" font-size="14" textLength="182.4" lengthAdjust="spacingAndGlyphs" fill="#1a1a1a">c) Face identity / Visual probe</text>
<rect x="50.6" y="678.9" width="208.8" height="160.7" fill="#fff" stroke="#b4b4b4" stroke-width="1.2"/>
<line x1="50.6" y1="839.6" x2="50.6" y2="837.4" stroke="#b4b4b4" stroke-width="1"/>
<line x1="50.6" y1="678.9" x2="50.6" y2="681.1" stroke="#b4b4b4" stroke-width="1"/>
<line x1="85.4" y1="839.6" x2="85.4" y2="837.4" stroke="#b4b4b4" stroke-width="1"/>
<line x1="85.4" y1="678.9" x2="85.4" y2="681.1" stroke="#b4b4b4" stroke-width="1"/>
<line x1="120.2" y1="839.6" x2="120.2" y2="837.4" stroke="#b4b4b4" stroke-width="1"/>
<line x1="120.2" y1="678.9" x2="120.2" y2="681.1" stroke="#b4b4b4" stroke-width="1"/>
<line x1="155" y1="839.6" x2="155" y2="837.4" stroke="#b4b4b4" stroke-width="1"/>
<line x1="155" y1="678.9" x2="155" y2="681.1" stroke="#b4b4b4" stroke-width="1"/>
<line x1="189.8" y1="839.6" x2="189.8" y2="837.4" stroke="#b4b4b4" stroke-width="1"/>
<line x1="189.8" y1="678.9" x2="189.8" y2="681.1" stroke="#b4b4b4" stroke-width="1"/>
<line x1="224.6" y1="839.6" x2="224.6" y2="837.4" stroke="#b4b4b4" stroke-width="1"/>
<line x1="224.6" y1="678.9" x2="224.6" y2="681.1" stroke="#b4b4b4" stroke-width="1"/>
<line x1="259.4" y1="839.6" x2="259.4" y2="837.4" stroke="#b4b4b4" stroke-width="1"/>
<line x1="259.4" y1="678.9" x2="259.4" y2="681.1" stroke="#b4b4b4" stroke-width="1"/>
<line x1="50.6" y1="839.6" x2="52.8" y2="839.6" stroke="#b4b4b4" stroke-width="1"/>
<line x1="259.4" y1="839.6" x2="257.2" y2="839.6" stroke="#b4b4b4" stroke-width="1"/>
<line x1="50.6" y1="807.46" x2="52.8" y2="807.46" stroke="#b4b4b4" stroke-width="1"/>
<line x1="259.4" y1="807.46" x2="257.2" y2="807.46" stroke="#b4b4b4" stroke-width="1"/>
<line x1="50.6" y1="775.32" x2="52.8" y2="775.32" stroke="#b4b4b4" stroke-width="1"/>
<line x1="259.4" y1="775.32" x2="257.2" y2="775.32" stroke="#b4b4b4" stroke-width="1"/>
<line x1="50.6" y1="743.18" x2="52.8" y2="743.18" stroke="#b4b4b4" stroke-width="1"/>
<line x1="259.4" y1="743.18" x2="257.2" y2="743.18" stroke="#b4b4b4" stroke-width="1"/>
<line x1="50.6" y1="711.04" x2="52.8" y2="711.04" stroke="#b4b4b4" stroke-width="1"/>
<line x1="259.4" y1="711.04" x2="257.2" y2="711.04" stroke="#b4b4b4" stroke-width="1"/>
<line x1="50.6" y1="678.9" x2="52.8" y2="678.9" stroke="#b4b4b4" stroke-width="1"/>
<line x1="259.4" y1="678.9" x2="257.2" y2="678.9" stroke="#b4b4b4" stroke-width="1"/>
<text x="47" y="844.2" font-size="10.8" text-anchor="end" fill="#1a1a1a">0</text>
<text x="47" y="812.06" font-size="10.8" text-anchor="end" fill="#1a1a1a">0.05</text>
<text x="47" y="779.92" font-size="10.8" text-anchor="end" fill="#1a1a1a">0.1</text>
<text x="47" y="747.78" font-size="10.8" text-anchor="end" fill="#1a1a1a">0.15</text>
<text x="47" y="715.64" font-size="10.8" text-anchor="end" fill="#1a1a1a">0.2</text>
<text x="47" y="683.5" font-size="10.8" text-anchor="end" fill="#1a1a1a">0.25</text>
<text x="50.6" y="854.3" font-size="10.8" text-anchor="middle" textLength="23.2" lengthAdjust="spacingAndGlyphs" fill="#1a1a1a">−300</text>
<text x="85.4" y="854.3" font-size="10.8" text-anchor="middle" textLength="23.2" lengthAdjust="spacingAndGlyphs" fill="#1a1a1a">−200</text>
<text x="120.2" y="854.3" font-size="10.8" text-anchor="middle" textLength="23.2" lengthAdjust="spacingAndGlyphs" fill="#1a1a1a">−100</text>
<text x="155" y="854.3" font-size="10.8" text-anchor="middle" fill="#1a1a1a">0</text>
<text x="189.8" y="854.3" font-size="10.8" text-anchor="middle" fill="#1a1a1a">100</text>
<text x="224.6" y="854.3" font-size="10.8" text-anchor="middle" fill="#1a1a1a">200</text>
<text x="259.4" y="854.3" font-size="10.8" text-anchor="middle" fill="#1a1a1a">300</text>
<text x="92.6" y="873.4" font-size="13.5" textLength="124.6" lengthAdjust="spacingAndGlyphs" fill="#1a1a1a">Time from flash (ms)</text>
<text transform="translate(18.5,810.6) rotate(-90)" x="0" y="0" font-size="14" textLength="105" lengthAdjust="spacingAndGlyphs" fill="#1a1a1a">Estimated weight</text>
<line x1="155" y1="679.5" x2="155" y2="839" stroke="#ff2020" stroke-width="1.8" stroke-dasharray="4.9 5.2" stroke-dashoffset="-4.6"/>
<path d="M50,811.17 L51.75,808.66 L53.51,805.97 L55.26,803.09 L57.02,800.05 L58.77,796.85 L60.53,793.52 L62.28,790.07 L64.04,786.51 L65.79,782.86 L67.55,779.13 L69.3,775.33 L71.05,771.48 L72.81,767.59 L74.56,763.69 L76.32,759.77 L78.07,755.86 L79.83,751.97 L81.58,748.12 L83.34,744.31 L85.09,740.57 L86.84,736.91 L88.6,733.34 L90.35,729.88 L92.11,726.53 L93.86,723.32 L95.62,720.27 L97.37,717.37 L99.13,714.65 L100.88,712.13 L102.64,709.81 L104.39,707.71 L106.14,705.84 L107.9,704.19 L109.65,702.75 L111.41,701.53 L113.16,700.5 L114.92,699.68 L116.67,699.05 L118.43,698.61 L120.18,698.36 L121.93,698.28 L123.69,698.37 L125.44,698.63 L127.2,699.05 L128.95,699.62 L130.71,700.35 L132.46,701.22 L134.22,702.24 L135.97,703.38 L137.73,704.66 L139.48,706.06 L141.23,707.58 L142.99,709.21 L144.74,710.95 L146.5,712.79 L148.25,714.73 L150.01,716.76 L151.76,718.88 L153.52,721.08 L155.27,723.35 L157.02,725.69 L158.78,728.1 L160.53,730.56 L162.29,733.08 L164.04,735.65 L165.8,738.26 L167.55,740.91 L169.31,743.59 L171.06,746.29 L172.82,749.02 L174.57,751.76 L176.32,754.51 L178.08,757.27 L179.83,760.02 L181.59,762.77 L183.34,765.51 L185.1,768.23 L186.85,770.93 L188.61,773.59 L190.36,776.23 L192.11,778.82 L193.87,781.38 L195.62,783.88 L197.38,786.32 L199.13,788.71 L200.89,791.02 L202.64,793.27 L204.4,795.44 L206.15,797.53 L207.91,799.53 L209.66,801.45 L211.41,803.28 L213.17,805.04 L214.92,806.72 L216.68,808.33 L218.43,809.87 L220.19,811.34 L221.94,812.75 L223.7,814.09 L225.45,815.37 L227.2,816.59 L228.96,817.75 L230.71,818.86 L232.47,819.92 L234.22,820.93 L235.98,821.9 L237.73,822.81 L239.49,823.69 L241.24,824.53 L243,825.33 L244.75,826.1 L246.5,826.84 L248.26,827.54 L250.01,828.22 L251.77,828.88 L253.52,829.51 L255.28,830.12 L257.03,830.72 L258.79,831.3" fill="none" stroke="#1a1aff" stroke-width="1.35" stroke-linejoin="round"/>
<path d="M48.8,805.66l3.6,3.6M48.8,809.26l3.6,-3.6M52.28,797.63l3.6,3.6M52.28,801.23l3.6,-3.6M55.76,795.49l3.6,3.6M55.76,799.09l3.6,-3.6M59.24,787.81l3.6,3.6M59.24,791.41l3.6,-3.6M62.72,779.24l3.6,3.6M62.72,782.84l3.6,-3.6M66.2,771.74l3.6,3.6M66.2,775.34l3.6,-3.6M69.68,767.27l3.6,3.6M69.68,770.87l3.6,-3.6M73.16,761.02l3.6,3.6M73.16,764.62l3.6,-3.6M76.64,754.41l3.6,3.6M76.64,758.01l3.6,-3.6M80.12,747.27l3.6,3.6M80.12,750.87l3.6,-3.6M83.6,744.41l3.6,3.6M83.6,748.01l3.6,-3.6M87.08,738.7l3.6,3.6M87.08,742.3l3.6,-3.6M90.56,730.13l3.6,3.6M90.56,733.73l3.6,-3.6M94.04,726.2l3.6,3.6M94.04,729.8l3.6,-3.6M97.52,721.74l3.6,3.6M97.52,725.34l3.6,-3.6M101,715.49l3.6,3.6M101,719.09l3.6,-3.6M104.48,707.45l3.6,3.6M104.48,711.05l3.6,-3.6M107.96,704.77l3.6,3.6M107.96,708.37l3.6,-3.6M111.44,697.27l3.6,3.6M111.44,700.87l3.6,-3.6M114.92,699.41l3.6,3.6M114.92,703.01l3.6,-3.6M118.4,694.41l3.6,3.6M118.4,698.01l3.6,-3.6M121.88,690.49l3.6,3.6M121.88,694.09l3.6,-3.6M125.36,686.91l3.6,3.6M125.36,690.51l3.6,-3.6M128.84,690.49l3.6,3.6M128.84,694.09l3.6,-3.6M132.32,692.27l3.6,3.6M132.32,695.87l3.6,-3.6M135.8,696.2l3.6,3.6M135.8,699.8l3.6,-3.6M139.28,702.63l3.6,3.6M139.28,706.23l3.6,-3.6M142.76,705.13l3.6,3.6M142.76,708.73l3.6,-3.6M146.24,716.38l3.6,3.6M146.24,719.98l3.6,-3.6M149.72,719.41l3.6,3.6M149.72,723.01l3.6,-3.6M153.2,724.41l3.6,3.6M153.2,728.01l3.6,-3.6M156.68,730.66l3.6,3.6M156.68,734.26l3.6,-3.6M160.16,737.81l3.6,3.6M160.16,741.41l3.6,-3.6M163.64,740.13l3.6,3.6M163.64,743.73l3.6,-3.6M167.12,750.84l3.6,3.6M167.12,754.44l3.6,-3.6M170.6,752.63l3.6,3.6M170.6,756.23l3.6,-3.6M174.08,753.34l3.6,3.6M174.08,756.94l3.6,-3.6M177.56,759.59l3.6,3.6M177.56,763.19l3.6,-3.6M181.04,758.7l3.6,3.6M181.04,762.3l3.6,-3.6M184.52,764.59l3.6,3.6M184.52,768.19l3.6,-3.6M188,769.95l3.6,3.6M188,773.55l3.6,-3.6M191.48,778.34l3.6,3.6M191.48,781.94l3.6,-3.6M194.96,781.56l3.6,3.6M194.96,785.16l3.6,-3.6M198.44,784.77l3.6,3.6M198.44,788.37l3.6,-3.6M201.92,784.41l3.6,3.6M201.92,788.01l3.6,-3.6M205.4,787.81l3.6,3.6M205.4,791.41l3.6,-3.6M208.88,795.49l3.6,3.6M208.88,799.09l3.6,-3.6M212.36,796.74l3.6,3.6M212.36,800.34l3.6,-3.6M215.84,804.77l3.6,3.6M215.84,808.37l3.6,-3.6M219.32,808.34l3.6,3.6M219.32,811.94l3.6,-3.6M222.8,812.27l3.6,3.6M222.8,815.87l3.6,-3.6M226.28,813.7l3.6,3.6M226.28,817.3l3.6,-3.6M229.76,819.06l3.6,3.6M229.76,822.66l3.6,-3.6M233.24,824.06l3.6,3.6M233.24,827.66l3.6,-3.6M236.72,822.27l3.6,3.6M236.72,825.87l3.6,-3.6M240.2,826.56l3.6,3.6M240.2,830.16l3.6,-3.6M243.68,828.34l3.6,3.6M243.68,831.94l3.6,-3.6M247.16,834.77l3.6,3.6M247.16,838.37l3.6,-3.6M250.64,833.34l3.6,3.6M250.64,836.94l3.6,-3.6M254.12,829.41l3.6,3.6M254.12,833.01l3.6,-3.6M257.6,832.63l3.6,3.6M257.6,836.23l3.6,-3.6" stroke="#ff1a1a" stroke-width="1.25" fill="none"/>
<rect x="198.1" y="685.5" width="54.8" height="29.1" fill="#fff" stroke="#b4b4b4" stroke-width="1"/>
<path d="M205.65,691.85l2.9,2.9M205.65,694.75l2.9,-2.9" stroke="#ff1a1a" stroke-width="1.25"/>
<text x="216" y="697.7" font-size="13" textLength="24.8" lengthAdjust="spacingAndGlyphs" fill="#1a1a1a">Data</text>
<line x1="200.6" y1="706.7" x2="214.6" y2="706.7" stroke="#1a1aff" stroke-width="1.35"/>
<text x="216.2" y="711.4" font-size="13" textLength="34.6" lengthAdjust="spacingAndGlyphs" fill="#1a1a1a">Fitting</text>
<text x="291.6" y="9.7" font-size="14" fill="#1a1a1a">d)</text>
<g shape-rendering="crispEdges">
<rect x="387.8" y="47.2" width="210.4" height="2.8" fill="url(#h0)"/>
<rect x="387.8" y="50" width="210.4" height="3" fill="url(#h1)"/>
<rect x="387.8" y="53" width="210.4" height="3" fill="url(#h2)"/>
<rect x="387.8" y="56" width="210.4" height="3" fill="url(#h3)"/>
<rect x="387.8" y="59" width="210.4" height="3" fill="url(#h4)"/>
<rect x="387.8" y="62" width="210.4" height="3" fill="url(#h5)"/>
<rect x="387.8" y="65" width="210.4" height="3" fill="url(#h6)"/>
<rect x="387.8" y="68" width="210.4" height="3" fill="url(#h7)"/>
<rect x="387.8" y="71" width="210.4" height="3" fill="url(#h8)"/>
<rect x="387.8" y="74" width="210.4" height="3" fill="url(#h9)"/>
<rect x="387.8" y="77" width="210.4" height="3" fill="url(#h10)"/>
<rect x="387.8" y="80" width="210.4" height="3" fill="url(#h11)"/>
<rect x="387.8" y="83" width="210.4" height="3" fill="url(#h12)"/>
<rect x="387.8" y="86" width="210.4" height="3" fill="url(#h13)"/>
<rect x="387.8" y="89" width="210.4" height="3" fill="url(#h14)"/>
<rect x="387.8" y="92" width="210.4" height="3" fill="url(#h15)"/>
<rect x="387.8" y="95" width="210.4" height="3" fill="url(#h16)"/>
<rect x="387.8" y="98" width="210.4" height="3" fill="url(#h17)"/>
<rect x="387.8" y="101" width="210.4" height="3" fill="url(#h18)"/>
<rect x="387.8" y="104" width="210.4" height="3" fill="url(#h19)"/>
<rect x="387.8" y="107" width="210.4" height="3" fill="url(#h20)"/>
<rect x="387.8" y="110" width="210.4" height="3" fill="url(#h21)"/>
<rect x="387.8" y="113" width="210.4" height="3" fill="url(#h22)"/>
<rect x="387.8" y="116" width="210.4" height="3" fill="url(#h23)"/>
<rect x="387.8" y="119" width="210.4" height="3" fill="url(#h24)"/>
<rect x="387.8" y="122" width="210.4" height="3" fill="url(#h25)"/>
<rect x="387.8" y="125" width="210.4" height="3" fill="url(#h26)"/>
<rect x="387.8" y="128" width="210.4" height="3" fill="url(#h27)"/>
<rect x="387.8" y="131" width="210.4" height="3" fill="url(#h28)"/>
<rect x="387.8" y="134" width="210.4" height="3" fill="url(#h29)"/>
<rect x="387.8" y="137" width="210.4" height="3" fill="url(#h30)"/>
<rect x="387.8" y="140" width="210.4" height="3" fill="url(#h31)"/>
<rect x="387.8" y="143" width="210.4" height="3" fill="url(#h32)"/>
<rect x="387.8" y="146" width="210.4" height="3" fill="url(#h33)"/>
<rect x="387.8" y="149" width="210.4" height="3" fill="url(#h34)"/>
<rect x="387.8" y="152" width="210.4" height="3" fill="url(#h35)"/>
<rect x="387.8" y="155" width="210.4" height="3" fill="url(#h36)"/>
<rect x="387.8" y="158" width="210.4" height="3" fill="url(#h37)"/>
<rect x="387.8" y="161" width="210.4" height="3" fill="url(#h38)"/>
<rect x="387.8" y="164" width="210.4" height="3" fill="url(#h39)"/>
<rect x="387.8" y="167" width="210.4" height="3" fill="url(#h40)"/>
<rect x="387.8" y="170" width="210.4" height="3" fill="url(#h41)"/>
<rect x="387.8" y="173" width="210.4" height="3" fill="url(#h42)"/>
<rect x="387.8" y="176" width="210.4" height="3" fill="url(#h43)"/>
<rect x="387.8" y="179" width="210.4" height="3" fill="url(#h44)"/>
<rect x="387.8" y="182" width="210.4" height="3" fill="url(#h45)"/>
<rect x="387.8" y="185" width="210.4" height="3" fill="url(#h46)"/>
<rect x="387.8" y="188" width="210.4" height="3" fill="url(#h47)"/>
<rect x="387.8" y="191" width="210.4" height="3" fill="url(#h48)"/>
<rect x="387.8" y="194" width="210.4" height="3" fill="url(#h49)"/>
<rect x="387.8" y="197" width="210.4" height="3" fill="url(#h50)"/>
<rect x="387.8" y="200" width="210.4" height="3" fill="url(#h51)"/>
<rect x="387.8" y="203" width="210.4" height="3" fill="url(#h52)"/>
<rect x="387.8" y="206" width="210.4" height="3" fill="url(#h53)"/>
<rect x="387.8" y="209" width="210.4" height="3" fill="url(#h54)"/>
<rect x="387.8" y="212" width="210.4" height="3" fill="url(#h55)"/>
<rect x="387.8" y="215" width="210.4" height="3" fill="url(#h56)"/>
<rect x="387.8" y="218" width="210.4" height="3" fill="url(#h57)"/>
<rect x="387.8" y="221" width="210.4" height="3" fill="url(#h58)"/>
<rect x="387.8" y="224" width="210.4" height="3" fill="url(#h59)"/>
<rect x="387.8" y="227" width="210.4" height="3" fill="url(#h60)"/>
<rect x="387.8" y="230" width="210.4" height="3" fill="url(#h61)"/>
<rect x="387.8" y="233" width="210.4" height="3" fill="url(#h62)"/>
<rect x="387.8" y="236" width="210.4" height="3" fill="url(#h63)"/>
<rect x="387.8" y="239" width="210.4" height="3" fill="url(#h64)"/>
<rect x="387.8" y="242" width="210.4" height="3" fill="url(#h65)"/>
<rect x="387.8" y="245" width="210.4" height="3" fill="url(#h66)"/>
<rect x="387.8" y="248" width="210.4" height="3" fill="url(#h67)"/>
<rect x="387.8" y="251" width="210.4" height="3" fill="url(#h68)"/>
<rect x="387.8" y="254" width="210.4" height="2.6" fill="url(#h69)"/>
</g>
<line x1="492.6" y1="47.2" x2="492.6" y2="256.6" stroke="#e03030" stroke-width="1" stroke-dasharray="2 1.6"/>
<line x1="388.4" y1="47.2" x2="388.4" y2="27" stroke="#6a6a6a" stroke-width="1"/>
<line x1="388.4" y1="256.6" x2="388.4" y2="47.2" stroke="#333" stroke-width="1.1"/>
<path d="M386.1,28.2 L388.4,23.9 L390.7,28.2 Z" fill="#000"/>
<line x1="598.2" y1="151.5" x2="611.5" y2="151.5" stroke="#555" stroke-width="1"/>
<line x1="388.4" y1="151.5" x2="598.2" y2="151.5" stroke="#2a2a2a" stroke-width="1.1"/>
<path d="M610.6,149.1 L615.8,151.5 L610.6,153.9 Z" fill="#000"/>
<line x1="388.4" y1="256.8" x2="392.9" y2="256.8" stroke="#333" stroke-width="1"/>
<text transform="translate(384.6,261) scale(1.1,1)" x="0" y="0" font-size="11.4" text-anchor="end" fill="#1a1a1a">-75</text>
<line x1="388.4" y1="235.85" x2="392.9" y2="235.85" stroke="#333" stroke-width="1"/>
<text transform="translate(384.6,240.05) scale(1.1,1)" x="0" y="0" font-size="11.4" text-anchor="end" fill="#1a1a1a">-60</text>
<line x1="388.4" y1="214.9" x2="392.9" y2="214.9" stroke="#333" stroke-width="1"/>
<text transform="translate(384.6,219.1) scale(1.1,1)" x="0" y="0" font-size="11.4" text-anchor="end" fill="#1a1a1a">-45</text>
<line x1="388.4" y1="193.95" x2="392.9" y2="193.95" stroke="#333" stroke-width="1"/>
<text transform="translate(384.6,198.15) scale(1.1,1)" x="0" y="0" font-size="11.4" text-anchor="end" fill="#1a1a1a">-30</text>
<line x1="388.4" y1="173" x2="392.9" y2="173" stroke="#333" stroke-width="1"/>
<text transform="translate(384.6,177.2) scale(1.1,1)" x="0" y="0" font-size="11.4" text-anchor="end" fill="#1a1a1a">-15</text>
<line x1="388.4" y1="152.05" x2="392.9" y2="152.05" stroke="#333" stroke-width="1"/>
<text transform="translate(382.2,156.25) scale(1.1,1)" x="0" y="0" font-size="11.4" text-anchor="end" fill="#1a1a1a">0</text>
<line x1="388.4" y1="131.1" x2="392.9" y2="131.1" stroke="#333" stroke-width="1"/>
<text transform="translate(384.6,135.3) scale(1.1,1)" x="0" y="0" font-size="11.4" text-anchor="end" fill="#1a1a1a">15</text>
<line x1="388.4" y1="110.15" x2="392.9" y2="110.15" stroke="#333" stroke-width="1"/>
<text transform="translate(384.6,114.35) scale(1.1,1)" x="0" y="0" font-size="11.4" text-anchor="end" fill="#1a1a1a">30</text>
<line x1="388.4" y1="89.2" x2="392.9" y2="89.2" stroke="#333" stroke-width="1"/>
<text transform="translate(384.6,93.4) scale(1.1,1)" x="0" y="0" font-size="11.4" text-anchor="end" fill="#1a1a1a">45</text>
<line x1="388.4" y1="68.25" x2="392.9" y2="68.25" stroke="#333" stroke-width="1"/>
<text transform="translate(384.6,72.45) scale(1.1,1)" x="0" y="0" font-size="11.4" text-anchor="end" fill="#1a1a1a">60</text>
<line x1="388.4" y1="47.3" x2="392.9" y2="47.3" stroke="#333" stroke-width="1"/>
<text transform="translate(384.6,51.5) scale(1.1,1)" x="0" y="0" font-size="11.4" text-anchor="end" fill="#1a1a1a">75</text>
<line x1="387.2" y1="256.6" x2="387.2" y2="253.1" stroke="#333" stroke-width="1"/>
<text transform="translate(387.5,272.4) scale(1.1,1)" x="0" y="0" font-size="11.4" text-anchor="middle" fill="#1a1a1a">-300</text>
<line x1="422.3" y1="256.6" x2="422.3" y2="253.1" stroke="#333" stroke-width="1"/>
<text transform="translate(422.6,272.4) scale(1.1,1)" x="0" y="0" font-size="11.4" text-anchor="middle" fill="#1a1a1a">-200</text>
<line x1="457.4" y1="256.6" x2="457.4" y2="253.1" stroke="#333" stroke-width="1"/>
<text transform="translate(457.7,272.4) scale(1.1,1)" x="0" y="0" font-size="11.4" text-anchor="middle" fill="#1a1a1a">-100</text>
<line x1="492.5" y1="256.6" x2="492.5" y2="253.1" stroke="#333" stroke-width="1"/>
<text transform="translate(492.8,272.4) scale(1.1,1)" x="0" y="0" font-size="11.4" text-anchor="middle" fill="#1a1a1a">0</text>
<line x1="527.6" y1="256.6" x2="527.6" y2="253.1" stroke="#333" stroke-width="1"/>
<text transform="translate(527.9,272.4) scale(1.1,1)" x="0" y="0" font-size="11.4" text-anchor="middle" fill="#1a1a1a">100</text>
<line x1="562.7" y1="256.6" x2="562.7" y2="253.1" stroke="#333" stroke-width="1"/>
<text transform="translate(563,272.4) scale(1.1,1)" x="0" y="0" font-size="11.4" text-anchor="middle" fill="#1a1a1a">200</text>
<line x1="597.8" y1="256.6" x2="597.8" y2="253.1" stroke="#333" stroke-width="1"/>
<text transform="translate(598.1,272.4) scale(1.1,1)" x="0" y="0" font-size="11.4" text-anchor="middle" fill="#1a1a1a">300</text>
<text x="430" y="293.9" font-size="13.5" textLength="125.6" lengthAdjust="spacingAndGlyphs" fill="#1a1a1a">Time from flash (ms)</text>
<text transform="translate(353.6,196.2) rotate(-90)" x="0" y="0" font-size="14" textLength="90" lengthAdjust="spacingAndGlyphs" fill="#1a1a1a">Stimulus index</text>
<rect x="640.6" y="99.2" width="6.2" height="105" fill="url(#cb0)" stroke="#9a9a9a" stroke-width="0.8"/>
<line x1="640.6" y1="151.3" x2="642.2" y2="151.3" stroke="#333" stroke-width="0.8"/>
<line x1="646.8" y1="151.3" x2="645.2" y2="151.3" stroke="#333" stroke-width="0.8"/>
<text x="650.5" y="104.2" font-size="11" textLength="30" lengthAdjust="spacingAndGlyphs" fill="#1a1a1a">0.060</text>
<text x="650.5" y="155.3" font-size="11" fill="#1a1a1a">0</text>
<text x="650.5" y="208.7" font-size="11" textLength="34.8" lengthAdjust="spacingAndGlyphs" fill="#1a1a1a">-0.055</text>
<text transform="translate(632.6,204.2) rotate(-90)" x="0" y="0" font-size="14" textLength="104.5" lengthAdjust="spacingAndGlyphs" fill="#1a1a1a">Estimated weight</text>
<rect x="318" y="51" width="38" height="38" fill="#808080"/>
<ellipse cx="337.5" cy="70.5" rx="13.8" ry="0.9" fill="url(#barg)" transform="rotate(-30 337.5 70.5)"/>
<rect x="318" y="212.9" width="38" height="38" fill="#808080"/>
<ellipse cx="337.5" cy="232.4" rx="13.8" ry="0.9" fill="url(#barg)" transform="rotate(30 337.5 232.4)"/>
<text x="291.6" y="317.7" font-size="14" fill="#1a1a1a">e)</text>
<g shape-rendering="crispEdges">
<rect x="387.8" y="355.2" width="210.4" height="2.8" fill="url(#h70)"/>
<rect x="387.8" y="358" width="210.4" height="3" fill="url(#h71)"/>
<rect x="387.8" y="361" width="210.4" height="3" fill="url(#h72)"/>
<rect x="387.8" y="364" width="210.4" height="3" fill="url(#h73)"/>
<rect x="387.8" y="367" width="210.4" height="3" fill="url(#h74)"/>
<rect x="387.8" y="370" width="210.4" height="3" fill="url(#h75)"/>
<rect x="387.8" y="373" width="210.4" height="3" fill="url(#h76)"/>
<rect x="387.8" y="376" width="210.4" height="3" fill="url(#h77)"/>
<rect x="387.8" y="379" width="210.4" height="3" fill="url(#h78)"/>
<rect x="387.8" y="382" width="210.4" height="3" fill="url(#h79)"/>
<rect x="387.8" y="385" width="210.4" height="3" fill="url(#h80)"/>
<rect x="387.8" y="388" width="210.4" height="3" fill="url(#h81)"/>
<rect x="387.8" y="391" width="210.4" height="3" fill="url(#h82)"/>
<rect x="387.8" y="394" width="210.4" height="3" fill="url(#h83)"/>
<rect x="387.8" y="397" width="210.4" height="3" fill="url(#h84)"/>
<rect x="387.8" y="400" width="210.4" height="3" fill="url(#h85)"/>
<rect x="387.8" y="403" width="210.4" height="3" fill="url(#h86)"/>
<rect x="387.8" y="406" width="210.4" height="3" fill="url(#h87)"/>
<rect x="387.8" y="409" width="210.4" height="3" fill="url(#h88)"/>
<rect x="387.8" y="412" width="210.4" height="3" fill="url(#h89)"/>
<rect x="387.8" y="415" width="210.4" height="3" fill="url(#h90)"/>
<rect x="387.8" y="418" width="210.4" height="3" fill="url(#h91)"/>
<rect x="387.8" y="421" width="210.4" height="3" fill="url(#h92)"/>
<rect x="387.8" y="424" width="210.4" height="3" fill="url(#h93)"/>
<rect x="387.8" y="427" width="210.4" height="3" fill="url(#h94)"/>
<rect x="387.8" y="430" width="210.4" height="3" fill="url(#h95)"/>
<rect x="387.8" y="433" width="210.4" height="3" fill="url(#h96)"/>
<rect x="387.8" y="436" width="210.4" height="3" fill="url(#h97)"/>
<rect x="387.8" y="439" width="210.4" height="3" fill="url(#h98)"/>
<rect x="387.8" y="442" width="210.4" height="3" fill="url(#h99)"/>
<rect x="387.8" y="445" width="210.4" height="3" fill="url(#h100)"/>
<rect x="387.8" y="448" width="210.4" height="3" fill="url(#h101)"/>
<rect x="387.8" y="451" width="210.4" height="3" fill="url(#h102)"/>
<rect x="387.8" y="454" width="210.4" height="3" fill="url(#h103)"/>
<rect x="387.8" y="457" width="210.4" height="3" fill="url(#h104)"/>
<rect x="387.8" y="460" width="210.4" height="3" fill="url(#h105)"/>
<rect x="387.8" y="463" width="210.4" height="3" fill="url(#h106)"/>
<rect x="387.8" y="466" width="210.4" height="3" fill="url(#h107)"/>
<rect x="387.8" y="469" width="210.4" height="3" fill="url(#h108)"/>
<rect x="387.8" y="472" width="210.4" height="3" fill="url(#h109)"/>
<rect x="387.8" y="475" width="210.4" height="3" fill="url(#h110)"/>
<rect x="387.8" y="478" width="210.4" height="3" fill="url(#h111)"/>
<rect x="387.8" y="481" width="210.4" height="3" fill="url(#h112)"/>
<rect x="387.8" y="484" width="210.4" height="3" fill="url(#h113)"/>
<rect x="387.8" y="487" width="210.4" height="3" fill="url(#h114)"/>
<rect x="387.8" y="490" width="210.4" height="3" fill="url(#h115)"/>
<rect x="387.8" y="493" width="210.4" height="3" fill="url(#h116)"/>
<rect x="387.8" y="496" width="210.4" height="3" fill="url(#h117)"/>
<rect x="387.8" y="499" width="210.4" height="3" fill="url(#h118)"/>
<rect x="387.8" y="502" width="210.4" height="3" fill="url(#h119)"/>
<rect x="387.8" y="505" width="210.4" height="3" fill="url(#h120)"/>
<rect x="387.8" y="508" width="210.4" height="3" fill="url(#h121)"/>
<rect x="387.8" y="511" width="210.4" height="3" fill="url(#h122)"/>
<rect x="387.8" y="514" width="210.4" height="3" fill="url(#h123)"/>
<rect x="387.8" y="517" width="210.4" height="3" fill="url(#h124)"/>
<rect x="387.8" y="520" width="210.4" height="3" fill="url(#h125)"/>
<rect x="387.8" y="523" width="210.4" height="3" fill="url(#h126)"/>
<rect x="387.8" y="526" width="210.4" height="3" fill="url(#h127)"/>
<rect x="387.8" y="529" width="210.4" height="3" fill="url(#h128)"/>
<rect x="387.8" y="532" width="210.4" height="3" fill="url(#h129)"/>
<rect x="387.8" y="535" width="210.4" height="3" fill="url(#h130)"/>
<rect x="387.8" y="538" width="210.4" height="3" fill="url(#h131)"/>
<rect x="387.8" y="541" width="210.4" height="3" fill="url(#h132)"/>
<rect x="387.8" y="544" width="210.4" height="3" fill="url(#h133)"/>
<rect x="387.8" y="547" width="210.4" height="3" fill="url(#h134)"/>
<rect x="387.8" y="550" width="210.4" height="3" fill="url(#h135)"/>
<rect x="387.8" y="553" width="210.4" height="3" fill="url(#h136)"/>
<rect x="387.8" y="556" width="210.4" height="3" fill="url(#h137)"/>
<rect x="387.8" y="559" width="210.4" height="3" fill="url(#h138)"/>
<rect x="387.8" y="562" width="210.4" height="2.6" fill="url(#h139)"/>
</g>
<line x1="492.6" y1="355.2" x2="492.6" y2="564.6" stroke="#e03030" stroke-width="1" stroke-dasharray="2 1.6"/>
<line x1="387.6" y1="355.2" x2="387.6" y2="335" stroke="#6a6a6a" stroke-width="1"/>
<line x1="387.6" y1="564.6" x2="387.6" y2="355.2" stroke="#333" stroke-width="1.1"/>
<path d="M385.3,336.2 L387.6,331.9 L389.9,336.2 Z" fill="#000"/>
<line x1="598.2" y1="460" x2="611.5" y2="460" stroke="#555" stroke-width="1"/>
<line x1="387.6" y1="460" x2="598.2" y2="460" stroke="#2a2a2a" stroke-width="1.1"/>
<path d="M610.6,457.6 L615.8,460 L610.6,462.4 Z" fill="#000"/>
<line x1="387.6" y1="564.8" x2="392.1" y2="564.8" stroke="#333" stroke-width="1"/>
<text transform="translate(384.6,569) scale(1.1,1)" x="0" y="0" font-size="11.4" text-anchor="end" fill="#1a1a1a">-75</text>
<line x1="387.6" y1="543.85" x2="392.1" y2="543.85" stroke="#333" stroke-width="1"/>
<text transform="translate(384.6,548.05) scale(1.1,1)" x="0" y="0" font-size="11.4" text-anchor="end" fill="#1a1a1a">-60</text>
<line x1="387.6" y1="522.9" x2="392.1" y2="522.9" stroke="#333" stroke-width="1"/>
<text transform="translate(384.6,527.1) scale(1.1,1)" x="0" y="0" font-size="11.4" text-anchor="end" fill="#1a1a1a">-45</text>
<line x1="387.6" y1="501.95" x2="392.1" y2="501.95" stroke="#333" stroke-width="1"/>
<text transform="translate(384.6,506.15) scale(1.1,1)" x="0" y="0" font-size="11.4" text-anchor="end" fill="#1a1a1a">-30</text>
<line x1="387.6" y1="481" x2="392.1" y2="481" stroke="#333" stroke-width="1"/>
<text transform="translate(384.6,485.2) scale(1.1,1)" x="0" y="0" font-size="11.4" text-anchor="end" fill="#1a1a1a">-15</text>
<line x1="387.6" y1="460.05" x2="392.1" y2="460.05" stroke="#333" stroke-width="1"/>
<text transform="translate(382.2,464.25) scale(1.1,1)" x="0" y="0" font-size="11.4" text-anchor="end" fill="#1a1a1a">0</text>
<line x1="387.6" y1="439.1" x2="392.1" y2="439.1" stroke="#333" stroke-width="1"/>
<text transform="translate(384.6,443.3) scale(1.1,1)" x="0" y="0" font-size="11.4" text-anchor="end" fill="#1a1a1a">15</text>
<line x1="387.6" y1="418.15" x2="392.1" y2="418.15" stroke="#333" stroke-width="1"/>
<text transform="translate(384.6,422.35) scale(1.1,1)" x="0" y="0" font-size="11.4" text-anchor="end" fill="#1a1a1a">30</text>
<line x1="387.6" y1="397.2" x2="392.1" y2="397.2" stroke="#333" stroke-width="1"/>
<text transform="translate(384.6,401.4) scale(1.1,1)" x="0" y="0" font-size="11.4" text-anchor="end" fill="#1a1a1a">45</text>
<line x1="387.6" y1="376.25" x2="392.1" y2="376.25" stroke="#333" stroke-width="1"/>
<text transform="translate(384.6,380.45) scale(1.1,1)" x="0" y="0" font-size="11.4" text-anchor="end" fill="#1a1a1a">60</text>
<line x1="387.6" y1="355.3" x2="392.1" y2="355.3" stroke="#333" stroke-width="1"/>
<text transform="translate(384.6,359.5) scale(1.1,1)" x="0" y="0" font-size="11.4" text-anchor="end" fill="#1a1a1a">75</text>
<line x1="387.2" y1="564.6" x2="387.2" y2="561.1" stroke="#333" stroke-width="1"/>
<text transform="translate(387.5,580.4) scale(1.1,1)" x="0" y="0" font-size="11.4" text-anchor="middle" fill="#1a1a1a">-300</text>
<line x1="422.3" y1="564.6" x2="422.3" y2="561.1" stroke="#333" stroke-width="1"/>
<text transform="translate(422.6,580.4) scale(1.1,1)" x="0" y="0" font-size="11.4" text-anchor="middle" fill="#1a1a1a">-200</text>
<line x1="457.4" y1="564.6" x2="457.4" y2="561.1" stroke="#333" stroke-width="1"/>
<text transform="translate(457.7,580.4) scale(1.1,1)" x="0" y="0" font-size="11.4" text-anchor="middle" fill="#1a1a1a">-100</text>
<line x1="492.5" y1="564.6" x2="492.5" y2="561.1" stroke="#333" stroke-width="1"/>
<text transform="translate(492.8,580.4) scale(1.1,1)" x="0" y="0" font-size="11.4" text-anchor="middle" fill="#1a1a1a">0</text>
<line x1="527.6" y1="564.6" x2="527.6" y2="561.1" stroke="#333" stroke-width="1"/>
<text transform="translate(527.9,580.4) scale(1.1,1)" x="0" y="0" font-size="11.4" text-anchor="middle" fill="#1a1a1a">100</text>
<line x1="562.7" y1="564.6" x2="562.7" y2="561.1" stroke="#333" stroke-width="1"/>
<text transform="translate(563,580.4) scale(1.1,1)" x="0" y="0" font-size="11.4" text-anchor="middle" fill="#1a1a1a">200</text>
<line x1="597.8" y1="564.6" x2="597.8" y2="561.1" stroke="#333" stroke-width="1"/>
<text transform="translate(598.1,580.4) scale(1.1,1)" x="0" y="0" font-size="11.4" text-anchor="middle" fill="#1a1a1a">300</text>
<text x="430" y="601.9" font-size="13.5" textLength="125.6" lengthAdjust="spacingAndGlyphs" fill="#1a1a1a">Time from flash (ms)</text>
<text transform="translate(353.6,504.2) rotate(-90)" x="0" y="0" font-size="14" textLength="90" lengthAdjust="spacingAndGlyphs" fill="#1a1a1a">Stimulus index</text>
<rect x="640.6" y="406.6" width="6.2" height="105" fill="url(#cb308)" stroke="#9a9a9a" stroke-width="0.8"/>
<line x1="640.6" y1="459.4" x2="642.2" y2="459.4" stroke="#333" stroke-width="0.8"/>
<line x1="646.8" y1="459.4" x2="645.2" y2="459.4" stroke="#333" stroke-width="0.8"/>
<text x="650.5" y="411.6" font-size="11" textLength="30" lengthAdjust="spacingAndGlyphs" fill="#1a1a1a">0.060</text>
<text x="650.5" y="463.4" font-size="11" fill="#1a1a1a">0</text>
<text x="650.5" y="516.1" font-size="11" textLength="34.8" lengthAdjust="spacingAndGlyphs" fill="#1a1a1a">-0.060</text>
<text transform="translate(632.6,511.6) rotate(-90)" x="0" y="0" font-size="14" textLength="104.5" lengthAdjust="spacingAndGlyphs" fill="#1a1a1a">Estimated weight</text>
<rect x="318" y="359" width="38" height="38" fill="#808080"/>
<path d="M333.3,360C334.75,360 336.43,360.85 337.5,361.6C338.57,362.35 339.13,363.22 339.7,364.5C340.27,365.78 340.83,367.83 340.9,369.3C340.97,370.77 339.9,371.9 340.1,373.3C340.3,374.7 341.97,376.5 342.1,377.7C342.23,378.9 341.03,379.5 340.9,380.5C340.77,381.5 341.5,382.35 341.3,383.7C341.1,385.05 340.9,387.25 339.7,388.6C338.5,389.95 335.83,391.07 334.1,391.8C332.37,392.53 330.77,393.8 329.3,393C327.83,392.2 326.3,389.75 325.3,387C324.3,384.25 323.3,380 323.3,376.5C323.3,373 324.38,368.48 325.3,366C326.22,363.52 327.47,362.6 328.8,361.6C330.13,360.6 331.85,360 333.3,360Z" fill="url(#faceg)"/><path d="M323.6,372 Q322.6,376 324.2,380" stroke="#505050" stroke-width="1.2" fill="none"/><path d="M332.3,367.4 Q335.25,366.5 338.2,367.4" stroke="#474747" stroke-width="1.3" stroke-linecap="round" fill="none"/><ellipse cx="334.9" cy="371.3" rx="1.9" ry="0.95" fill="#2a2a2a"/><ellipse cx="340.2" cy="372" rx="0.8" ry="0.8" fill="#3a3a3a"/><path d="M337.6,378.8 Q339.2,379.8 340.6,378.6" stroke="#5a5a5a" stroke-width="1.1" fill="none"/><path d="M336.6,383.6 Q338.9,383.1 341.2,383.6" stroke="#3e3e3e" stroke-width="1.2" stroke-linecap="round" fill="none"/>
<rect x="318" y="520.5" width="38" height="38" fill="#808080"/>
<path d="M339.7,522C341.52,521.63 343.52,522.42 345,523.1C346.48,523.78 347.67,524.7 348.6,526.1C349.53,527.5 350.27,529.77 350.6,531.5C350.93,533.23 350.73,534.83 350.6,536.5C350.47,538.17 350.13,539.9 349.8,541.5C349.47,543.1 349.32,544.63 348.6,546.1C347.88,547.57 346.58,549.22 345.5,550.3C344.42,551.38 343.73,552.48 342.1,552.6C340.47,552.72 337.23,552.08 335.7,551C334.17,549.92 333.37,547.58 332.9,546.1C332.43,544.62 333.17,543.1 332.9,542.1C332.63,541.1 331.37,541.17 331.3,540.1C331.23,539.03 332.37,537.17 332.5,535.7C332.63,534.23 331.83,533.03 332.1,531.3C332.37,529.57 332.83,526.85 334.1,525.3C335.37,523.75 337.88,522.37 339.7,522Z" fill="url(#faceg2)"/><path d="M350.2,532.5 Q351.2,536.1 350,539.7" stroke="#505050" stroke-width="1.2" fill="none"/><path d="M335.7,529.3 Q338.5,528.4 341.3,529.3" stroke="#474747" stroke-width="1.3" stroke-linecap="round" fill="none"/><ellipse cx="338.5" cy="533.7" rx="1.9" ry="0.95" fill="#2a2a2a"/><ellipse cx="333.1" cy="534.1" rx="0.8" ry="0.8" fill="#3a3a3a"/><path d="M333,540.7 Q334.6,541.9 336.3,540.9" stroke="#5a5a5a" stroke-width="1.1" fill="none"/><path d="M332.9,545.9 Q335.1,545.4 337.3,545.9" stroke="#3e3e3e" stroke-width="1.2" stroke-linecap="round" fill="none"/>
<text x="291.6" y="624.7" font-size="14" fill="#1a1a1a">f)</text>
<g shape-rendering="crispEdges">
<rect x="387.8" y="662.2" width="210.4" height="2.8" fill="url(#h140)"/>
<rect x="387.8" y="665" width="210.4" height="3" fill="url(#h141)"/>
<rect x="387.8" y="668" width="210.4" height="3" fill="url(#h142)"/>
<rect x="387.8" y="671" width="210.4" height="3" fill="url(#h143)"/>
<rect x="387.8" y="674" width="210.4" height="3" fill="url(#h144)"/>
<rect x="387.8" y="677" width="210.4" height="3" fill="url(#h145)"/>
<rect x="387.8" y="680" width="210.4" height="3" fill="url(#h146)"/>
<rect x="387.8" y="683" width="210.4" height="3" fill="url(#h147)"/>
<rect x="387.8" y="686" width="210.4" height="3" fill="url(#h148)"/>
<rect x="387.8" y="689" width="210.4" height="3" fill="url(#h149)"/>
<rect x="387.8" y="692" width="210.4" height="3" fill="url(#h150)"/>
<rect x="387.8" y="695" width="210.4" height="3" fill="url(#h151)"/>
<rect x="387.8" y="698" width="210.4" height="3" fill="url(#h152)"/>
<rect x="387.8" y="701" width="210.4" height="3" fill="url(#h153)"/>
<rect x="387.8" y="704" width="210.4" height="3" fill="url(#h154)"/>
<rect x="387.8" y="707" width="210.4" height="3" fill="url(#h155)"/>
<rect x="387.8" y="710" width="210.4" height="3" fill="url(#h156)"/>
<rect x="387.8" y="713" width="210.4" height="3" fill="url(#h157)"/>
<rect x="387.8" y="716" width="210.4" height="3" fill="url(#h158)"/>
<rect x="387.8" y="719" width="210.4" height="3" fill="url(#h159)"/>
<rect x="387.8" y="722" width="210.4" height="3" fill="url(#h160)"/>
<rect x="387.8" y="725" width="210.4" height="3" fill="url(#h161)"/>
<rect x="387.8" y="728" width="210.4" height="3" fill="url(#h162)"/>
<rect x="387.8" y="731" width="210.4" height="3" fill="url(#h163)"/>
<rect x="387.8" y="734" width="210.4" height="3" fill="url(#h164)"/>
<rect x="387.8" y="737" width="210.4" height="3" fill="url(#h165)"/>
<rect x="387.8" y="740" width="210.4" height="3" fill="url(#h166)"/>
<rect x="387.8" y="743" width="210.4" height="3" fill="url(#h167)"/>
<rect x="387.8" y="746" width="210.4" height="3" fill="url(#h168)"/>
<rect x="387.8" y="749" width="210.4" height="3" fill="url(#h169)"/>
<rect x="387.8" y="752" width="210.4" height="3" fill="url(#h170)"/>
<rect x="387.8" y="755" width="210.4" height="3" fill="url(#h171)"/>
<rect x="387.8" y="758" width="210.4" height="3" fill="url(#h172)"/>
<rect x="387.8" y="761" width="210.4" height="3" fill="url(#h173)"/>
<rect x="387.8" y="764" width="210.4" height="3" fill="url(#h174)"/>
<rect x="387.8" y="767" width="210.4" height="3" fill="url(#h175)"/>
<rect x="387.8" y="770" width="210.4" height="3" fill="url(#h176)"/>
<rect x="387.8" y="773" width="210.4" height="3" fill="url(#h177)"/>
<rect x="387.8" y="776" width="210.4" height="3" fill="url(#h178)"/>
<rect x="387.8" y="779" width="210.4" height="3" fill="url(#h179)"/>
<rect x="387.8" y="782" width="210.4" height="3" fill="url(#h180)"/>
<rect x="387.8" y="785" width="210.4" height="3" fill="url(#h181)"/>
<rect x="387.8" y="788" width="210.4" height="3" fill="url(#h182)"/>
<rect x="387.8" y="791" width="210.4" height="3" fill="url(#h183)"/>
<rect x="387.8" y="794" width="210.4" height="3" fill="url(#h184)"/>
<rect x="387.8" y="797" width="210.4" height="3" fill="url(#h185)"/>
<rect x="387.8" y="800" width="210.4" height="3" fill="url(#h186)"/>
<rect x="387.8" y="803" width="210.4" height="3" fill="url(#h187)"/>
<rect x="387.8" y="806" width="210.4" height="3" fill="url(#h188)"/>
<rect x="387.8" y="809" width="210.4" height="3" fill="url(#h189)"/>
<rect x="387.8" y="812" width="210.4" height="3" fill="url(#h190)"/>
<rect x="387.8" y="815" width="210.4" height="3" fill="url(#h191)"/>
<rect x="387.8" y="818" width="210.4" height="3" fill="url(#h192)"/>
<rect x="387.8" y="821" width="210.4" height="3" fill="url(#h193)"/>
<rect x="387.8" y="824" width="210.4" height="3" fill="url(#h194)"/>
<rect x="387.8" y="827" width="210.4" height="3" fill="url(#h195)"/>
<rect x="387.8" y="830" width="210.4" height="3" fill="url(#h196)"/>
<rect x="387.8" y="833" width="210.4" height="3" fill="url(#h197)"/>
<rect x="387.8" y="836" width="210.4" height="3" fill="url(#h198)"/>
<rect x="387.8" y="839" width="210.4" height="3" fill="url(#h199)"/>
<rect x="387.8" y="842" width="210.4" height="3" fill="url(#h200)"/>
<rect x="387.8" y="845" width="210.4" height="3" fill="url(#h201)"/>
<rect x="387.8" y="848" width="210.4" height="3" fill="url(#h202)"/>
<rect x="387.8" y="851" width="210.4" height="3" fill="url(#h203)"/>
<rect x="387.8" y="854" width="210.4" height="3" fill="url(#h204)"/>
<rect x="387.8" y="857" width="210.4" height="3" fill="url(#h205)"/>
<rect x="387.8" y="860" width="210.4" height="3" fill="url(#h206)"/>
<rect x="387.8" y="863" width="210.4" height="3" fill="url(#h207)"/>
<rect x="387.8" y="866" width="210.4" height="3" fill="url(#h208)"/>
<rect x="387.8" y="869" width="210.4" height="2.6" fill="url(#h209)"/>
</g>
<line x1="492.6" y1="662.2" x2="492.6" y2="871.6" stroke="#e03030" stroke-width="1" stroke-dasharray="2 1.6"/>
<line x1="387.6" y1="662.2" x2="387.6" y2="642" stroke="#6a6a6a" stroke-width="1"/>
<line x1="387.6" y1="871.6" x2="387.6" y2="662.2" stroke="#333" stroke-width="1.1"/>
<path d="M385.3,643.2 L387.6,638.9 L389.9,643.2 Z" fill="#000"/>
<line x1="598.2" y1="767.4" x2="611.5" y2="767.4" stroke="#555" stroke-width="1"/>
<line x1="387.6" y1="767.4" x2="598.2" y2="767.4" stroke="#2a2a2a" stroke-width="1.1"/>
<path d="M610.6,765 L615.8,767.4 L610.6,769.8 Z" fill="#000"/>
<line x1="387.6" y1="871.8" x2="392.1" y2="871.8" stroke="#333" stroke-width="1"/>
<text transform="translate(384.6,876) scale(1.1,1)" x="0" y="0" font-size="11.4" text-anchor="end" fill="#1a1a1a">-75</text>
<line x1="387.6" y1="850.85" x2="392.1" y2="850.85" stroke="#333" stroke-width="1"/>
<text transform="translate(384.6,855.05) scale(1.1,1)" x="0" y="0" font-size="11.4" text-anchor="end" fill="#1a1a1a">-60</text>
<line x1="387.6" y1="829.9" x2="392.1" y2="829.9" stroke="#333" stroke-width="1"/>
<text transform="translate(384.6,834.1) scale(1.1,1)" x="0" y="0" font-size="11.4" text-anchor="end" fill="#1a1a1a">-45</text>
<line x1="387.6" y1="808.95" x2="392.1" y2="808.95" stroke="#333" stroke-width="1"/>
<text transform="translate(384.6,813.15) scale(1.1,1)" x="0" y="0" font-size="11.4" text-anchor="end" fill="#1a1a1a">-30</text>
<line x1="387.6" y1="788" x2="392.1" y2="788" stroke="#333" stroke-width="1"/>
<text transform="translate(384.6,792.2) scale(1.1,1)" x="0" y="0" font-size="11.4" text-anchor="end" fill="#1a1a1a">-15</text>
<line x1="387.6" y1="767.05" x2="392.1" y2="767.05" stroke="#333" stroke-width="1"/>
<text transform="translate(382.2,771.25) scale(1.1,1)" x="0" y="0" font-size="11.4" text-anchor="end" fill="#1a1a1a">0</text>
<line x1="387.6" y1="746.1" x2="392.1" y2="746.1" stroke="#333" stroke-width="1"/>
<text transform="translate(384.6,750.3) scale(1.1,1)" x="0" y="0" font-size="11.4" text-anchor="end" fill="#1a1a1a">15</text>
<line x1="387.6" y1="725.15" x2="392.1" y2="725.15" stroke="#333" stroke-width="1"/>
<text transform="translate(384.6,729.35) scale(1.1,1)" x="0" y="0" font-size="11.4" text-anchor="end" fill="#1a1a1a">30</text>
<line x1="387.6" y1="704.2" x2="392.1" y2="704.2" stroke="#333" stroke-width="1"/>
<text transform="translate(384.6,708.4) scale(1.1,1)" x="0" y="0" font-size="11.4" text-anchor="end" fill="#1a1a1a">45</text>
<line x1="387.6" y1="683.25" x2="392.1" y2="683.25" stroke="#333" stroke-width="1"/>
<text transform="translate(384.6,687.45) scale(1.1,1)" x="0" y="0" font-size="11.4" text-anchor="end" fill="#1a1a1a">60</text>
<line x1="387.6" y1="662.3" x2="392.1" y2="662.3" stroke="#333" stroke-width="1"/>
<text transform="translate(384.6,666.5) scale(1.1,1)" x="0" y="0" font-size="11.4" text-anchor="end" fill="#1a1a1a">75</text>
<line x1="387.2" y1="871.6" x2="387.2" y2="868.1" stroke="#333" stroke-width="1"/>
<text transform="translate(387.5,887.4) scale(1.1,1)" x="0" y="0" font-size="11.4" text-anchor="middle" fill="#1a1a1a">-300</text>
<line x1="422.3" y1="871.6" x2="422.3" y2="868.1" stroke="#333" stroke-width="1"/>
<text transform="translate(422.6,887.4) scale(1.1,1)" x="0" y="0" font-size="11.4" text-anchor="middle" fill="#1a1a1a">-200</text>
<line x1="457.4" y1="871.6" x2="457.4" y2="868.1" stroke="#333" stroke-width="1"/>
<text transform="translate(457.7,887.4) scale(1.1,1)" x="0" y="0" font-size="11.4" text-anchor="middle" fill="#1a1a1a">-100</text>
<line x1="492.5" y1="871.6" x2="492.5" y2="868.1" stroke="#333" stroke-width="1"/>
<text transform="translate(492.8,887.4) scale(1.1,1)" x="0" y="0" font-size="11.4" text-anchor="middle" fill="#1a1a1a">0</text>
<line x1="527.6" y1="871.6" x2="527.6" y2="868.1" stroke="#333" stroke-width="1"/>
<text transform="translate(527.9,887.4) scale(1.1,1)" x="0" y="0" font-size="11.4" text-anchor="middle" fill="#1a1a1a">100</text>
<line x1="562.7" y1="871.6" x2="562.7" y2="868.1" stroke="#333" stroke-width="1"/>
<text transform="translate(563,887.4) scale(1.1,1)" x="0" y="0" font-size="11.4" text-anchor="middle" fill="#1a1a1a">200</text>
<line x1="597.8" y1="871.6" x2="597.8" y2="868.1" stroke="#333" stroke-width="1"/>
<text transform="translate(598.1,887.4) scale(1.1,1)" x="0" y="0" font-size="11.4" text-anchor="middle" fill="#1a1a1a">300</text>
<text x="430" y="908.9" font-size="13.5" textLength="125.6" lengthAdjust="spacingAndGlyphs" fill="#1a1a1a">Time from flash (ms)</text>
<text transform="translate(353.6,811.2) rotate(-90)" x="0" y="0" font-size="14" textLength="90" lengthAdjust="spacingAndGlyphs" fill="#1a1a1a">Stimulus index</text>
<rect x="640.6" y="714.2" width="6.2" height="105" fill="url(#cb615)" stroke="#9a9a9a" stroke-width="0.8"/>
<line x1="640.6" y1="766.5" x2="642.2" y2="766.5" stroke="#333" stroke-width="0.8"/>
<line x1="646.8" y1="766.5" x2="645.2" y2="766.5" stroke="#333" stroke-width="0.8"/>
<text x="650.5" y="719.2" font-size="11" textLength="30" lengthAdjust="spacingAndGlyphs" fill="#1a1a1a">0.034</text>
<text x="650.5" y="770.5" font-size="11" fill="#1a1a1a">0</text>
<text x="650.5" y="823.7" font-size="11" textLength="34.8" lengthAdjust="spacingAndGlyphs" fill="#1a1a1a">-0.046</text>
<text transform="translate(632.6,819.2) rotate(-90)" x="0" y="0" font-size="14" textLength="104.5" lengthAdjust="spacingAndGlyphs" fill="#1a1a1a">Estimated weight</text>
<rect x="318" y="666" width="38" height="38" fill="#808080"/>
<path d="M336.9,670.9C338.77,670.9 340.93,671.18 342.5,672.2C344.07,673.22 345.55,675.03 346.3,677C347.05,678.97 347.12,681.58 347,684C346.88,686.42 346.43,689.3 345.6,691.5C344.77,693.7 343.45,695.87 342,697.2C340.55,698.53 338.6,699.5 336.9,699.5C335.2,699.5 333.25,698.53 331.8,697.2C330.35,695.87 329.03,693.7 328.2,691.5C327.37,689.3 326.92,686.42 326.8,684C326.68,681.58 326.75,678.97 327.5,677C328.25,675.03 329.73,673.22 331.3,672.2C332.87,671.18 335.03,670.9 336.9,670.9Z" fill="url(#facegf)"/><path d="M328.2,677.4 Q330.8,676.4 333.4,677.4" stroke="#4a4a4a" stroke-width="1.3" stroke-linecap="round" fill="none"/><path d="M339.8,677.4 Q342.5,676.4 345.2,677.4" stroke="#4a4a4a" stroke-width="1.3" stroke-linecap="round" fill="none"/><ellipse cx="330.9" cy="680.9" rx="2.3" ry="1.05" fill="#2a2a2a"/><ellipse cx="342.3" cy="680.9" rx="2.3" ry="1.05" fill="#2a2a2a"/><path d="M335.3,682.5 L334.6,687.8 M338.5,682.5 L339.2,687.8" stroke="#888" stroke-width="0.8" fill="none"/><ellipse cx="336.9" cy="688.6" rx="3.0" ry="1.1" fill="#6a6a6a"/><path d="M331.8,691.8 Q336.9,690.2 342,691.8 Q336.9,695.8 331.8,691.8Z" fill="#5c5c5c"/><path d="M332.2,691.9 Q336.9,692.3 341.6,691.9" stroke="#2e2e2e" stroke-width="0.9" stroke-linecap="round" fill="none"/>
<rect x="318" y="828" width="38" height="38" fill="#808080"/>
<path d="M336.9,832.9C338.77,832.9 340.93,833.18 342.5,834.2C344.07,835.22 345.55,837.03 346.3,839C347.05,840.97 347.12,843.58 347,846C346.88,848.42 346.43,851.3 345.6,853.5C344.77,855.7 343.45,857.87 342,859.2C340.55,860.53 338.6,861.5 336.9,861.5C335.2,861.5 333.25,860.53 331.8,859.2C330.35,857.87 329.03,855.7 328.2,853.5C327.37,851.3 326.92,848.42 326.8,846C326.68,843.58 326.75,840.97 327.5,839C328.25,837.03 329.73,835.22 331.3,834.2C332.87,833.18 335.03,832.9 336.9,832.9Z" fill="url(#facegf)"/><path d="M328.2,839.4 Q330.8,838.4 333.4,839.4" stroke="#4a4a4a" stroke-width="1.3" stroke-linecap="round" fill="none"/><path d="M339.8,839.4 Q342.5,838.4 345.2,839.4" stroke="#4a4a4a" stroke-width="1.3" stroke-linecap="round" fill="none"/><ellipse cx="330.9" cy="842.9" rx="2.3" ry="1.05" fill="#2a2a2a"/><ellipse cx="342.3" cy="842.9" rx="2.3" ry="1.05" fill="#2a2a2a"/><path d="M335.3,844.5 L334.6,849.8 M338.5,844.5 L339.2,849.8" stroke="#888" stroke-width="0.8" fill="none"/><ellipse cx="336.9" cy="850.6" rx="3.0" ry="1.1" fill="#6a6a6a"/><path d="M331.8,853.8 Q336.9,852.2 342,853.8 Q336.9,857.8 331.8,853.8Z" fill="#5c5c5c"/><path d="M332.2,853.9 Q336.9,854.3 341.6,853.9" stroke="#2e2e2e" stroke-width="0.9" stroke-linecap="round" fill="none"/>
</svg>
</body></html>
